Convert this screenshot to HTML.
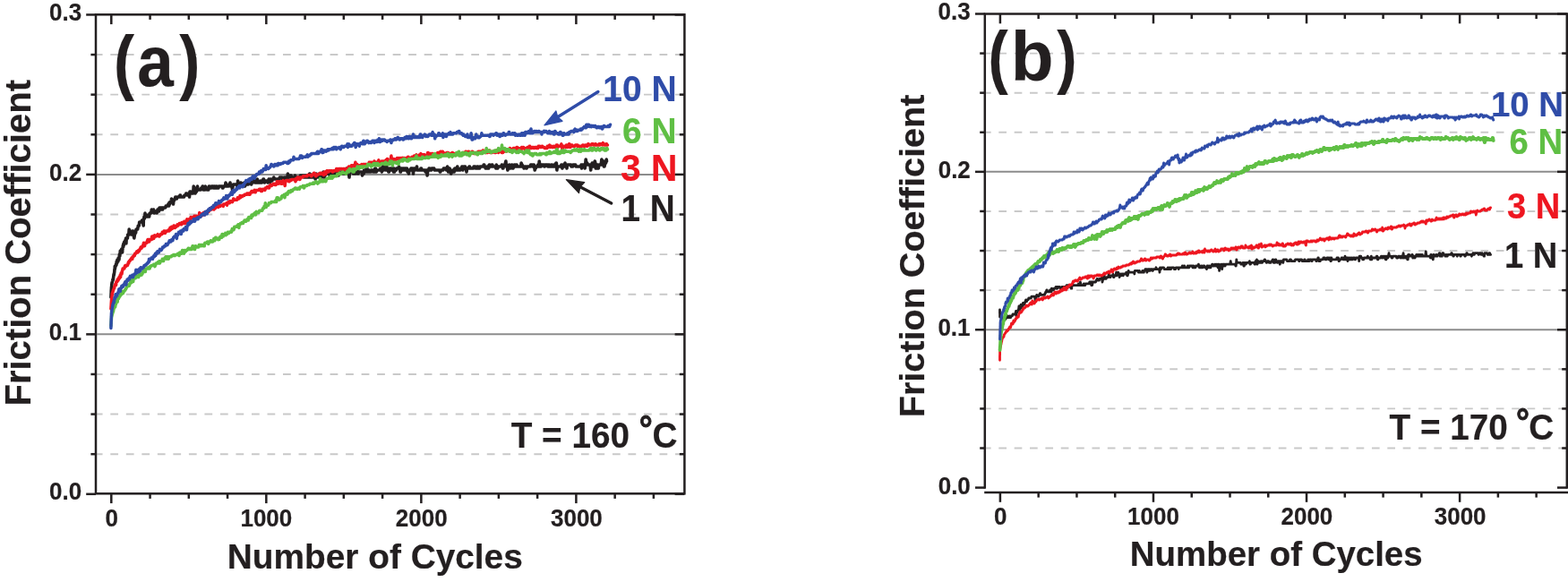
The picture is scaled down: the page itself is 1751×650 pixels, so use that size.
<!DOCTYPE html>
<html><head><meta charset="utf-8"><title>Friction Coefficient vs Number of Cycles at 160 and 170 °C</title>
<style>html,body{margin:0;padding:0;background:#fff;overflow:hidden;}svg{display:block;}</style></head>
<body>
<svg width="1751" height="650" viewBox="0 0 1751 650">
<rect width="1751" height="650" fill="#fff"/>
<clipPath id="ca"><rect x="108.3" y="16.3" width="654.80" height="535.00"/></clipPath>
<clipPath id="cb"><rect x="1101.1" y="15.5" width="647.40" height="534.50"/></clipPath>
<g clip-path="url(#ca)">
<line x1="105.78" y1="507.19" x2="763.10" y2="507.19" stroke="#c9c9c9" stroke-width="1.9" stroke-dasharray="8.760 8.760"/>
<line x1="105.78" y1="462.57" x2="763.10" y2="462.57" stroke="#c9c9c9" stroke-width="1.9" stroke-dasharray="8.760 8.760"/>
<line x1="105.78" y1="417.96" x2="763.10" y2="417.96" stroke="#c9c9c9" stroke-width="1.9" stroke-dasharray="8.760 8.760"/>
<line x1="107.0" y1="373.35" x2="764.4" y2="373.35" stroke="#8c8c8c" stroke-width="2.0"/>
<line x1="105.78" y1="328.74" x2="763.10" y2="328.74" stroke="#c9c9c9" stroke-width="1.9" stroke-dasharray="8.760 8.760"/>
<line x1="105.78" y1="284.12" x2="763.10" y2="284.12" stroke="#c9c9c9" stroke-width="1.9" stroke-dasharray="8.760 8.760"/>
<line x1="105.78" y1="239.51" x2="763.10" y2="239.51" stroke="#c9c9c9" stroke-width="1.9" stroke-dasharray="8.760 8.760"/>
<line x1="107.0" y1="194.90" x2="764.4" y2="194.90" stroke="#8c8c8c" stroke-width="2.0"/>
<line x1="105.78" y1="150.29" x2="763.10" y2="150.29" stroke="#c9c9c9" stroke-width="1.9" stroke-dasharray="8.760 8.760"/>
<line x1="105.78" y1="105.67" x2="763.10" y2="105.67" stroke="#c9c9c9" stroke-width="1.9" stroke-dasharray="8.760 8.760"/>
<line x1="105.78" y1="61.06" x2="763.10" y2="61.06" stroke="#c9c9c9" stroke-width="1.9" stroke-dasharray="8.760 8.760"/>
</g>
<g fill="none" stroke-linejoin="round" stroke-linecap="round">
<polyline points="123.9,332.0 123.9,331.5 124.0,331.2 124.0,330.7 124.0,330.0 124.0,329.5 124.1,328.6 124.1,328.6 124.1,328.1 124.1,327.6 124.2,327.3 124.2,326.8 124.2,326.1 124.2,325.6 124.2,324.9 124.3,324.4 124.3,324.1 124.3,323.6 124.4,323.0 124.4,322.5 124.4,321.9 124.5,321.3 124.5,321.0 124.6,319.9 124.6,319.6 124.7,319.6 124.7,318.8 124.8,318.2 124.8,317.5 124.9,317.0 124.9,316.9 125.0,316.4 125.1,315.5 125.3,315.0 125.4,314.9 125.5,314.4 125.6,313.8 125.8,313.3 125.9,312.5 126.0,312.0 126.2,311.7 126.3,312.2 126.4,312.3 126.5,310.6 126.7,309.2 126.8,308.6 126.9,307.6 127.0,307.0 127.0,306.4 127.1,307.3 127.2,307.3 127.3,306.9 127.4,305.9 127.5,305.4 127.5,305.1 127.6,304.7 127.7,303.9 127.8,303.4 127.9,301.2 128.0,300.7 128.1,301.3 128.1,300.8 128.2,300.2 128.3,297.3 128.4,299.8 128.5,299.3 128.6,299.0 128.6,298.5 128.7,297.9 128.8,297.4 129.0,297.5 129.2,297.1 129.4,295.4 129.6,294.9 129.8,296.0 130.0,296.0 130.2,292.0 130.4,292.0 130.6,294.0 130.8,292.0 131.0,290.0 131.2,290.0 131.4,290.0 131.6,290.0 131.8,292.0 132.0,290.0 132.2,288.0 132.4,288.0 132.6,288.0 132.7,288.0 132.9,290.0 133.1,288.0 133.3,286.0 133.4,284.0 133.6,286.0 133.8,286.0 134.0,284.0 134.2,282.0 134.3,280.0 134.5,282.0 134.7,282.0 134.9,280.0 135.0,282.0 135.2,282.0 135.4,280.0 135.6,280.0 135.8,278.0 135.9,278.0 136.1,278.0 136.3,280.0 136.5,278.0 136.6,282.0 136.8,278.0 137.0,278.0 137.2,276.0 137.4,274.0 137.5,276.0 137.7,276.0 137.9,272.0 138.1,272.0 138.2,274.0 138.4,272.0 138.6,272.0 138.8,270.0 139.1,272.0 139.3,270.0 139.5,270.0 139.7,270.0 140.0,268.0 140.2,268.0 140.4,268.0 140.6,266.0 140.9,272.0 141.1,268.0 141.3,266.0 141.5,266.0 141.8,266.0 142.0,266.0 142.2,266.0 142.4,266.0 142.7,262.0 142.9,262.0 143.2,262.0 143.5,262.0 143.8,262.0 144.2,256.0 144.5,262.0 144.8,260.0 145.1,258.0 145.6,258.0 146.0,260.0 146.5,262.0 146.9,262.0 147.4,262.0 147.8,258.0 148.3,262.0 148.7,258.0 149.0,262.0 149.4,264.0 149.8,266.0 150.1,264.0 150.5,262.0 150.9,260.0 151.2,260.0 151.6,260.0 151.8,258.0 152.1,256.0 152.3,256.0 152.5,256.0 152.7,256.0 153.0,256.0 153.2,256.0 153.4,256.0 153.7,256.0 153.9,254.0 154.1,254.0 154.3,252.0 154.6,252.0 154.8,252.0 155.0,252.0 155.3,252.0 155.5,250.0 155.7,248.0 156.0,248.0 156.2,248.0 156.4,248.0 156.7,248.0 156.9,248.0 157.4,248.0 158.0,248.0 158.6,246.0 159.1,246.0 159.6,248.0 160.2,252.0 160.3,246.0 160.5,244.0 160.7,244.0 160.8,244.0 160.9,242.0 161.1,242.0 161.2,244.0 161.4,244.0 161.6,242.0 161.7,242.0 161.8,242.0 162.0,238.0 162.2,242.0 162.3,240.0 162.8,240.0 163.2,240.0 163.7,242.0 164.2,242.0 164.7,242.0 165.1,242.0 165.6,240.0 165.9,240.0 166.2,242.0 166.6,242.0 166.9,240.0 167.2,238.0 167.5,238.0 167.8,238.0 168.2,238.0 168.5,238.0 168.8,238.0 169.3,234.0 169.9,236.0 170.4,236.0 170.9,236.0 171.5,234.0 172.0,238.0 172.6,238.0 173.1,236.0 173.6,236.0 174.1,236.0 174.6,236.0 175.1,238.0 175.6,236.0 176.0,234.0 176.5,234.0 177.0,236.0 177.5,236.0 178.0,232.0 178.5,232.0 178.9,234.0 179.4,234.0 179.8,232.0 180.3,234.0 180.8,232.0 181.2,232.0 181.7,234.0 182.1,232.0 182.6,232.0 183.0,232.0 183.5,232.0 183.9,232.0 184.3,232.0 184.8,232.0 185.2,230.0 185.6,230.0 186.1,230.0 186.5,230.0 186.9,230.0 187.4,230.0 187.8,228.0 188.3,228.0 188.7,230.0 189.1,226.0 189.6,228.0 190.0,226.0 190.4,226.0 190.8,226.0 191.2,224.0 191.5,222.0 191.9,226.0 192.3,224.0 192.7,224.0 193.1,224.0 193.5,228.0 193.9,224.0 194.2,224.0 194.6,224.0 195.0,222.0 195.4,222.0 195.9,220.0 196.4,220.0 196.9,222.0 197.4,222.0 198.0,220.0 198.5,220.0 199.0,220.0 199.5,220.0 200.0,220.0 200.5,220.0 201.0,218.0 201.5,218.0 202.0,220.0 202.6,220.0 203.1,220.0 203.6,220.0 204.1,220.0 204.6,220.0 205.1,220.0 205.5,220.0 206.0,218.0 206.4,218.0 206.9,218.0 207.4,218.0 207.8,216.0 208.3,216.0 208.7,218.0 209.2,218.0 209.7,218.0 210.1,218.0 210.6,216.0 211.0,216.0 211.5,220.0 212.0,214.0 212.4,216.0 212.9,214.0 213.3,216.0 213.8,216.0 214.3,214.0 214.8,214.0 215.2,216.0 215.7,216.0 216.2,208.0 216.7,210.0 217.1,212.0 217.6,212.0 218.1,216.0 218.6,212.0 219.0,210.0 219.5,214.0 220.0,212.0 220.5,208.0 221.1,212.0 221.6,212.0 222.1,212.0 222.6,212.0 223.1,212.0 223.7,212.0 224.2,212.0 224.7,210.0 225.2,210.0 225.7,210.0 226.2,208.0 226.7,208.0 227.2,212.0 227.7,212.0 228.3,212.0 228.8,212.0 229.3,208.0 229.8,210.0 230.3,210.0 230.8,210.0 231.3,212.0 231.8,212.0 232.3,212.0 232.8,212.0 233.3,208.0 233.8,208.0 234.3,210.0 234.8,210.0 235.4,210.0 235.9,210.0 236.4,208.0 236.9,208.0 237.4,208.0 237.9,208.0 238.4,210.0 238.9,210.0 239.4,208.0 239.9,210.0 240.4,210.0 240.9,210.0 241.4,208.0 241.9,208.0 242.4,210.0 242.9,210.0 243.4,210.0 243.9,210.0 244.4,208.0 244.9,208.0 245.4,208.0 245.9,208.0 246.5,208.0 247.0,208.0 247.5,208.0 248.0,208.0 248.5,210.0 249.0,210.0 249.5,208.0 250.0,208.0 250.5,208.0 251.0,208.0 251.5,208.0 252.0,204.0 252.5,206.0 253.0,208.0 253.5,208.0 254.0,208.0 254.5,208.0 255.0,208.0 255.5,206.0 256.0,206.0 256.5,206.0 257.0,204.0 257.5,208.0 258.0,208.0 258.5,208.0 259.0,208.0 259.5,212.0 260.0,208.0 260.5,206.0 261.1,206.0 261.6,206.0 262.1,206.0 262.6,206.0 263.1,206.0 263.6,206.0 264.1,206.0 264.6,206.0 265.1,210.0 265.6,202.0 266.1,206.0 266.6,206.0 267.1,206.0 267.6,208.0 268.1,208.0 268.6,204.0 269.1,204.0 269.6,206.0 270.1,206.0 270.6,206.0 271.1,206.0 271.6,208.0 272.1,208.0 272.6,204.0 273.1,204.0 273.6,208.0 274.1,204.0 274.6,206.0 275.1,206.0 275.7,204.0 276.2,204.0 276.7,206.0 277.2,206.0 277.7,204.0 278.2,204.0 278.7,204.0 279.2,204.0 279.7,204.0 280.2,204.0 280.7,206.0 281.2,202.0 281.7,204.0 282.2,204.0 282.7,202.0 283.2,202.0 283.7,200.0 284.2,202.0 284.8,204.0 285.3,204.0 285.8,202.0 286.3,202.0 286.8,204.0 287.3,200.0 287.8,202.0 288.3,204.0 288.9,204.0 289.4,204.0 289.9,204.0 290.4,204.0 290.9,202.0 291.4,202.0 291.9,204.0 292.4,204.0 292.9,202.0 293.5,202.0 294.0,200.0 294.5,200.0 295.0,202.0 295.5,204.0 296.0,202.0 296.6,202.0 297.1,202.0 297.6,202.0 298.1,202.0 298.6,202.0 299.1,204.0 299.7,202.0 300.2,200.0 300.7,200.0 301.2,200.0 301.7,204.0 302.2,200.0 302.8,200.0 303.3,202.0 303.8,202.0 304.3,200.0 304.8,200.0 305.3,200.0 305.8,198.0 306.3,200.0 306.8,200.0 307.3,200.0 307.8,200.0 308.3,200.0 308.8,200.0 309.3,200.0 309.8,200.0 310.4,200.0 310.9,200.0 311.4,200.0 311.9,200.0 312.4,198.0 312.9,198.0 313.4,198.0 313.9,198.0 314.4,198.0 314.9,198.0 315.4,200.0 315.9,200.0 316.4,200.0 316.9,200.0 317.4,198.0 317.9,198.0 318.4,198.0 318.9,198.0 319.4,198.0 319.9,198.0 320.4,200.0 320.9,200.0 321.4,194.0 321.9,198.0 322.4,198.0 322.9,198.0 323.4,198.0 324.0,198.0 324.5,196.0 325.0,196.0 325.5,198.0 326.0,198.0 326.5,198.0 327.0,198.0 327.5,198.0 328.0,198.0 328.5,198.0 329.0,198.0 329.5,196.0 330.0,198.0 330.5,198.0 331.0,198.0 331.5,198.0 332.0,198.0 332.5,198.0 333.0,198.0 333.5,198.0 334.0,198.0 334.5,198.0 335.0,198.0 335.5,196.0 336.0,196.0 336.5,196.0 337.0,196.0 337.5,196.0 338.0,196.0 338.5,196.0 339.0,196.0 339.5,198.0 340.0,198.0 340.5,196.0 341.0,196.0 341.6,198.0 342.1,198.0 342.6,196.0 343.1,196.0 343.6,198.0 344.1,198.0 344.6,198.0 345.1,198.0 345.6,194.0 346.1,194.0 346.6,198.0 347.1,198.0 347.6,196.0 348.1,198.0 348.6,196.0 349.1,196.0 349.6,198.0 350.1,198.0 350.6,194.0 351.1,194.0 351.6,196.0 352.1,200.0 352.6,198.0 353.1,194.0 353.6,196.0 354.1,196.0 354.6,198.0 355.1,198.0 355.6,196.0 356.1,196.0 356.6,194.0 357.1,194.0 357.6,198.0 358.1,198.0 358.6,198.0 359.1,198.0 359.6,196.0 360.1,196.0 360.6,196.0 361.1,192.0 361.6,198.0 362.1,198.0 362.6,196.0 363.1,196.0 363.6,194.0 364.1,194.0 364.6,194.0 365.1,194.0 365.6,194.0 366.1,194.0 366.6,194.0 367.0,194.0 367.5,194.0 368.0,194.0 368.5,198.0 369.0,194.0 369.5,194.0 370.0,192.0 370.5,194.0 371.0,194.0 371.5,194.0 372.0,194.0 372.5,194.0 373.0,194.0 373.5,194.0 374.0,194.0 374.5,194.0 375.0,194.0 375.5,194.0 376.0,190.0 376.5,194.0 377.0,194.0 377.5,196.0 378.0,196.0 378.5,192.0 379.0,192.0 379.5,194.0 380.0,194.0 380.5,194.0 381.0,194.0 381.5,194.0 382.0,192.0 382.5,190.0 383.0,190.0 383.5,194.0 384.0,194.0 384.5,194.0 385.0,194.0 385.5,194.0 386.0,194.0 386.5,192.0 387.0,188.0 387.5,194.0 388.0,194.0 388.5,194.0 389.0,194.0 389.5,194.0 390.0,198.0 390.5,192.0 391.0,192.0 391.5,192.0 392.0,192.0 392.5,192.0 393.0,192.0 393.5,192.0 394.0,192.0 394.5,194.0 395.0,194.0 395.5,190.0 396.0,190.0 396.5,194.0 397.0,194.0 397.5,190.0 398.0,190.0 398.5,190.0 399.0,190.0 399.5,194.0 400.0,194.0 400.5,192.0 401.0,192.0 401.5,192.0 402.0,192.0 402.5,192.0 403.0,192.0 403.6,192.0 404.1,192.0 404.6,196.0 405.1,192.0 405.6,194.0 406.1,194.0 406.6,190.0 407.1,190.0 407.6,190.0 408.1,190.0 408.6,192.0 409.1,192.0 409.6,186.0 410.2,190.0 410.7,192.0 411.2,190.0 411.7,190.0 412.2,190.0 412.7,192.0 413.2,192.0 413.7,192.0 414.2,192.0 414.7,190.0 415.2,190.0 415.7,190.0 416.2,190.0 416.7,192.0 417.3,192.0 417.8,192.0 418.3,192.0 418.8,188.0 419.3,188.0 419.8,190.0 420.3,192.0 420.8,190.0 421.3,190.0 421.8,190.0 422.3,190.0 422.8,190.0 423.3,190.0 423.9,190.0 424.4,190.0 424.9,188.0 425.4,188.0 425.9,188.0 426.4,192.0 426.9,188.0 427.4,186.0 427.9,190.0 428.4,190.0 428.9,188.0 429.4,184.0 429.9,186.0 430.4,188.0 430.9,190.0 431.4,188.0 431.9,186.0 432.4,190.0 432.9,190.0 433.4,190.0 433.9,192.0 434.4,192.0 434.9,188.0 435.4,188.0 435.9,190.0 436.4,190.0 436.9,188.0 437.4,188.0 437.9,190.0 438.4,190.0 438.9,188.0 439.5,192.0 440.0,188.0 440.5,192.0 441.0,190.0 441.5,190.0 442.0,190.0 442.5,190.0 443.0,188.0 443.5,188.0 444.0,188.0 444.5,188.0 445.0,188.0 445.5,186.0 446.0,188.0 446.5,188.0 447.0,192.0 447.5,192.0 448.0,188.0 448.5,188.0 449.0,190.0 449.5,190.0 450.0,188.0 450.5,188.0 451.0,190.0 451.5,190.0 452.0,188.0 452.5,188.0 453.0,190.0 453.5,190.0 454.0,188.0 454.5,188.0 455.0,192.0 455.5,192.0 456.0,190.0 456.5,194.0 457.0,190.0 457.5,190.0 458.0,190.0 458.5,190.0 459.0,188.0 459.5,188.0 460.0,188.0 460.5,188.0 461.0,190.0 461.5,194.0 462.0,188.0 462.5,188.0 463.0,190.0 463.5,190.0 464.0,188.0 464.5,188.0 465.0,188.0 465.5,186.0 466.0,190.0 466.5,190.0 467.0,190.0 467.5,190.0 468.0,190.0 468.5,190.0 469.0,190.0 469.5,190.0 470.0,188.0 470.5,188.0 471.0,190.0 471.5,190.0 472.0,190.0 472.5,190.0 473.0,190.0 473.6,190.0 474.1,190.0 474.6,190.0 475.1,192.0 475.6,192.0 476.1,190.0 476.6,190.0 477.1,196.0 477.6,192.0 478.1,190.0 478.6,190.0 479.1,188.0 479.6,188.0 480.1,190.0 480.7,190.0 481.2,190.0 481.7,190.0 482.2,188.0 482.7,188.0 483.2,188.0 483.7,188.0 484.2,188.0 484.7,188.0 485.2,190.0 485.7,190.0 486.2,190.0 486.7,190.0 487.2,190.0 487.8,190.0 488.3,190.0 488.8,190.0 489.3,190.0 489.8,190.0 490.3,190.0 490.8,190.0 491.3,192.0 491.8,192.0 492.3,190.0 492.9,190.0 493.4,190.0 493.9,190.0 494.4,190.0 494.9,190.0 495.4,188.0 495.9,188.0 496.5,188.0 497.0,188.0 497.5,188.0 498.0,188.0 498.5,190.0 499.0,190.0 499.6,186.0 500.1,190.0 500.6,192.0 501.1,192.0 501.6,188.0 502.1,188.0 502.6,190.0 503.2,190.0 503.7,194.0 504.2,192.0 504.7,192.0 505.2,192.0 505.7,190.0 506.2,190.0 506.7,192.0 507.2,192.0 507.8,188.0 508.3,188.0 508.8,188.0 509.3,188.0 509.8,190.0 510.3,188.0 510.8,186.0 511.3,190.0 511.8,190.0 512.3,190.0 512.8,190.0 513.4,190.0 513.9,190.0 514.4,188.0 514.9,188.0 515.4,188.0 515.9,186.0 516.4,186.0 516.9,190.0 517.4,188.0 517.9,186.0 518.4,186.0 519.0,186.0 519.5,186.0 520.0,188.0 520.5,188.0 521.0,192.0 521.5,188.0 522.0,188.0 522.5,188.0 523.0,188.0 523.5,188.0 524.0,186.0 524.5,186.0 525.0,188.0 525.5,188.0 526.0,188.0 526.5,188.0 527.1,188.0 527.6,188.0 528.1,188.0 528.6,188.0 529.1,186.0 529.6,186.0 530.1,186.0 530.6,186.0 531.1,188.0 531.6,188.0 532.1,188.0 532.6,188.0 533.1,186.0 533.6,186.0 534.1,188.0 534.6,188.0 535.1,188.0 535.6,188.0 536.1,186.0 536.6,186.0 537.2,186.0 537.7,186.0 538.2,186.0 538.7,186.0 539.2,186.0 539.7,186.0 540.2,184.0 540.7,184.0 541.2,186.0 541.7,186.0 542.2,188.0 542.7,188.0 543.2,188.0 543.7,188.0 544.2,186.0 544.7,186.0 545.2,188.0 545.7,188.0 546.2,184.0 546.7,184.0 547.3,186.0 547.8,186.0 548.3,186.0 548.8,186.0 549.3,184.0 549.8,184.0 550.3,186.0 550.8,186.0 551.3,186.0 551.8,186.0 552.3,186.0 552.8,186.0 553.3,186.0 553.8,188.0 554.3,184.0 554.8,186.0 555.3,188.0 555.8,188.0 556.3,186.0 556.8,186.0 557.3,186.0 557.9,186.0 558.4,186.0 558.9,186.0 559.4,186.0 559.9,186.0 560.4,184.0 560.9,184.0 561.4,188.0 561.9,188.0 562.4,186.0 562.9,186.0 563.4,184.0 563.9,184.0 564.4,182.0 564.9,180.0 565.4,186.0 565.9,186.0 566.4,186.0 566.9,190.0 567.4,188.0 568.0,188.0 568.5,184.0 569.0,184.0 569.5,188.0 570.0,188.0 570.5,186.0 571.0,186.0 571.5,184.0 572.0,184.0 572.5,188.0 573.0,188.0 573.5,186.0 574.0,186.0 574.5,184.0 575.0,184.0 575.5,186.0 576.0,186.0 576.5,184.0 577.0,184.0 577.5,186.0 578.1,186.0 578.6,186.0 579.1,186.0 579.6,186.0 580.1,186.0 580.6,186.0 581.1,186.0 581.6,186.0 582.1,182.0 582.6,184.0 583.1,184.0 583.6,186.0 584.1,186.0 584.6,186.0 585.1,188.0 585.6,186.0 586.1,186.0 586.6,186.0 587.1,186.0 587.6,188.0 588.1,188.0 588.6,186.0 589.1,186.0 589.6,186.0 590.1,186.0 590.6,186.0 591.2,186.0 591.7,186.0 592.2,186.0 592.7,184.0 593.2,184.0 593.7,184.0 594.2,184.0 594.7,186.0 595.2,186.0 595.7,184.0 596.2,184.0 596.7,186.0 597.2,190.0 597.7,188.0 598.2,188.0 598.7,186.0 599.2,186.0 599.7,186.0 600.2,186.0 600.7,184.0 601.2,184.0 601.7,186.0 602.2,180.0 602.7,184.0 603.2,184.0 603.7,186.0 604.2,186.0 604.7,184.0 605.2,184.0 605.7,184.0 606.3,184.0 606.8,184.0 607.3,184.0 607.8,186.0 608.3,186.0 608.8,184.0 609.3,184.0 609.8,184.0 610.3,184.0 610.8,184.0 611.3,184.0 611.8,186.0 612.3,186.0 612.8,184.0 613.3,184.0 613.8,186.0 614.3,186.0 614.8,186.0 615.3,186.0 615.8,184.0 616.3,184.0 616.8,186.0 617.3,186.0 617.8,186.0 618.3,186.0 618.8,184.0 619.4,184.0 619.9,186.0 620.4,186.0 620.9,182.0 621.4,182.0 621.9,190.0 622.4,186.0 622.9,186.0 623.4,186.0 623.9,186.0 624.4,186.0 624.9,186.0 625.4,186.0 625.9,186.0 626.4,186.0 626.9,184.0 627.4,184.0 627.9,188.0 628.4,186.0 628.9,184.0 629.5,184.0 630.0,186.0 630.5,186.0 631.0,182.0 631.5,186.0 632.0,184.0 632.5,184.0 633.0,188.0 633.5,184.0 634.0,184.0 634.5,184.0 635.0,184.0 635.5,184.0 636.0,184.0 636.5,184.0 637.0,184.0 637.5,184.0 638.0,186.0 638.5,186.0 639.0,186.0 639.6,186.0 640.1,184.0 640.6,184.0 641.1,184.0 641.6,184.0 642.1,184.0 642.6,184.0 643.1,186.0 643.6,186.0 644.1,186.0 644.6,186.0 645.1,186.0 645.6,186.0 646.1,186.0 646.6,186.0 647.1,186.0 647.6,186.0 648.1,186.0 648.6,186.0 649.1,184.0 649.6,188.0 650.2,184.0 650.7,184.0 651.2,184.0 651.7,184.0 652.2,184.0 652.7,184.0 653.2,188.0 653.7,184.0 654.2,178.0 654.7,182.0 655.2,182.0 655.7,182.0 656.2,184.0 656.7,184.0 657.2,184.0 657.7,184.0 658.2,184.0 658.7,184.0 659.2,186.0 659.7,190.0 660.3,184.0 660.8,184.0 661.3,182.0 661.8,182.0 662.3,186.0 662.8,184.0 663.3,182.0 663.8,182.0 664.3,180.0 664.8,182.0 665.3,188.0 665.8,184.0 666.3,188.0 666.8,184.0 667.3,184.0 667.8,184.0 668.3,188.0 668.8,184.0 669.3,184.0 669.8,184.0 670.4,184.0 670.9,184.0 671.4,182.0 671.9,178.0 672.4,184.0 672.9,184.0 673.4,184.0 673.9,180.0 674.4,186.0 674.9,186.0 675.4,184.0 675.7,182.0 676.0,182.0 676.3,182.0 676.6,182.0 676.9,180.0 677.2,178.0 677.5,180.0" stroke="#231f20" stroke-width="3.6"/>
<polyline points="123.9,345.0 123.9,344.5 124.0,343.7 124.0,343.2 124.0,342.8 124.1,342.3 124.1,341.7 124.1,341.2 124.2,340.9 124.2,340.4 124.2,339.7 124.2,339.2 124.3,338.9 124.3,338.4 124.3,337.6 124.4,337.1 124.4,336.8 124.4,336.3 124.5,335.5 124.5,335.0 124.6,334.6 124.6,334.1 124.7,333.5 124.8,333.0 124.8,332.4 124.9,331.9 124.9,331.3 125.0,330.8 125.1,330.7 125.1,330.2 125.2,329.2 125.2,328.7 125.3,327.8 125.4,327.3 125.4,327.8 125.5,327.3 125.7,326.7 125.8,326.3 126.0,326.0 126.2,325.6 126.3,324.5 126.5,324.0 126.6,324.0 126.8,323.6 127.0,322.7 127.1,322.2 127.3,322.0 127.4,321.5 127.6,321.8 127.8,321.3 127.9,319.7 128.1,319.2 128.3,319.3 128.6,318.9 128.8,317.5 129.1,317.0 129.3,318.6 129.6,318.2 129.8,315.3 130.0,314.4 130.3,314.4 130.5,314.4 130.8,314.4 131.0,314.4 131.2,312.0 131.5,312.0 131.7,313.2 132.0,313.2 132.2,310.8 132.5,310.8 132.7,312.0 132.9,310.8 133.1,309.6 133.3,309.6 133.5,310.8 133.7,309.6 134.0,308.4 134.2,307.2 134.4,308.4 134.6,309.6 134.8,307.2 135.0,307.2 135.2,304.8 135.4,304.8 135.6,306.0 135.8,304.8 136.0,306.0 136.3,303.6 136.5,302.4 136.7,302.4 136.9,301.2 137.1,300.0 137.3,300.0 137.6,300.0 138.0,300.0 138.3,300.0 138.6,300.0 138.9,300.0 139.3,297.6 139.6,297.6 139.9,296.4 140.3,296.4 140.6,297.6 140.9,296.4 141.2,296.4 141.6,296.4 141.9,296.4 142.2,296.4 142.5,296.4 142.8,295.2 143.1,294.0 143.4,292.8 143.7,294.0 144.0,292.8 144.4,291.6 144.7,291.6 145.0,291.6 145.3,290.4 145.6,290.4 145.9,290.4 146.2,289.2 146.5,289.2 146.8,289.2 147.1,288.0 147.4,289.2 147.8,289.2 148.1,286.8 148.4,286.8 148.7,286.8 149.0,286.8 149.3,285.6 149.6,285.6 149.9,285.6 150.3,285.6 150.6,283.2 150.9,283.2 151.2,283.2 151.6,283.2 152.0,282.0 152.4,282.0 152.8,280.8 153.2,280.8 153.5,282.0 153.9,282.0 154.3,280.8 154.7,279.6 155.1,280.8 155.5,279.6 155.8,279.6 156.2,278.4 156.5,278.4 156.8,277.2 157.2,276.0 157.5,276.0 157.8,277.2 158.2,277.2 158.5,276.0 158.9,276.0 159.2,274.8 159.5,274.8 159.9,273.6 160.2,272.4 160.5,271.2 160.9,271.2 161.2,274.8 161.6,274.8 162.0,272.4 162.5,271.2 162.9,271.2 163.3,271.2 163.7,271.2 164.1,271.2 164.5,268.8 165.0,267.6 165.4,267.6 165.8,267.6 166.2,270.0 166.7,270.0 167.1,267.6 167.5,267.6 168.0,267.6 168.4,267.6 168.8,267.6 169.3,267.6 169.7,264.0 170.1,264.0 170.6,265.2 171.0,264.0 171.4,266.4 171.8,266.4 172.3,264.0 172.7,262.8 173.1,264.0 173.6,264.0 174.0,264.0 174.4,264.0 174.9,262.8 175.3,262.8 175.7,262.8 176.2,261.6 176.6,262.8 177.1,262.8 177.5,264.0 178.0,264.0 178.5,262.8 178.9,262.8 179.4,261.6 179.9,261.6 180.3,261.6 180.8,261.6 181.3,259.2 181.7,259.2 182.2,260.4 182.6,260.4 183.1,258.0 183.6,258.0 184.0,258.0 184.5,260.4 185.0,259.2 185.4,259.2 185.9,258.0 186.4,258.0 186.8,258.0 187.3,258.0 187.8,258.0 188.2,256.8 188.7,258.0 189.1,258.0 189.6,255.6 190.0,254.4 190.5,256.8 190.9,255.6 191.3,255.6 191.8,253.2 192.2,255.6 192.7,254.4 193.2,254.4 193.6,254.4 194.1,252.0 194.5,252.0 194.9,254.4 195.4,254.4 195.8,253.2 196.3,253.2 196.8,253.2 197.2,253.2 197.7,252.0 198.1,250.8 198.5,252.0 199.0,252.0 199.4,250.8 199.9,250.8 200.3,249.6 200.8,249.6 201.2,249.6 201.7,249.6 202.2,250.8 202.6,250.8 203.1,248.4 203.5,248.4 203.9,248.4 204.4,248.4 204.8,249.6 205.3,249.6 205.8,247.2 206.2,247.2 206.7,249.6 207.1,249.6 207.6,248.4 208.0,248.4 208.5,246.0 208.9,244.8 209.4,247.2 209.8,247.2 210.3,247.2 210.8,247.2 211.2,244.8 211.7,244.8 212.2,244.8 212.7,244.8 213.1,242.4 213.6,242.4 214.1,243.6 214.5,243.6 215.0,243.6 215.5,243.6 216.0,243.6 216.5,242.4 216.9,241.2 217.4,241.2 217.9,243.6 218.4,243.6 218.9,241.2 219.4,241.2 219.8,242.4 220.3,242.4 220.8,241.2 221.3,241.2 221.8,241.2 222.3,241.2 222.7,237.6 223.2,240.0 223.7,240.0 224.2,238.8 224.6,241.2 225.1,241.2 225.5,238.8 226.0,238.8 226.4,238.8 226.9,238.8 227.3,237.6 227.8,237.6 228.2,240.0 228.7,238.8 229.1,237.6 229.5,236.4 230.0,236.4 230.4,236.4 230.9,237.6 231.3,236.4 231.8,236.4 232.2,236.4 232.7,236.4 233.1,236.4 233.6,235.2 234.0,235.2 234.4,234.0 234.9,232.8 235.3,234.0 235.8,234.0 236.2,234.0 236.7,232.8 237.1,231.6 237.6,232.8 238.0,232.8 238.5,232.8 238.9,234.0 239.4,232.8 239.8,232.8 240.3,232.8 240.8,230.4 241.3,230.4 241.7,229.2 242.2,229.2 242.7,229.2 243.1,228.0 243.6,231.6 244.1,230.4 244.6,229.2 245.0,229.2 245.5,230.4 246.0,230.4 246.4,229.2 246.9,229.2 247.4,229.2 247.8,229.2 248.3,229.2 248.8,229.2 249.3,230.4 249.7,228.0 250.2,228.0 250.7,228.0 251.1,228.0 251.6,228.0 252.1,228.0 252.6,228.0 253.0,226.8 253.5,229.2 254.0,226.8 254.4,226.8 254.9,225.6 255.4,225.6 255.9,225.6 256.3,226.8 256.8,224.4 257.3,224.4 257.7,225.6 258.2,225.6 258.7,224.4 259.2,224.4 259.6,225.6 260.1,224.4 260.6,222.0 261.0,222.0 261.5,223.2 262.0,223.2 262.4,223.2 262.9,223.2 263.4,223.2 263.9,223.2 264.3,223.2 264.8,223.2 265.3,220.8 265.7,220.8 266.2,222.0 266.7,222.0 267.2,220.8 267.6,220.8 268.1,218.4 268.6,220.8 269.0,219.6 269.5,219.6 269.9,219.6 270.4,219.6 270.8,218.4 271.3,218.4 271.8,218.4 272.2,218.4 272.7,218.4 273.1,217.2 273.6,217.2 274.0,217.2 274.5,217.2 274.9,217.2 275.4,217.2 275.9,216.0 276.3,217.2 276.8,216.0 277.2,216.0 277.7,216.0 278.1,217.2 278.6,216.0 279.1,217.2 279.5,216.0 280.0,214.8 280.4,214.8 280.9,213.6 281.3,213.6 281.8,214.8 282.2,213.6 282.7,213.6 283.2,213.6 283.7,213.6 284.2,212.4 284.7,214.8 285.2,214.8 285.7,212.4 286.1,212.4 286.6,212.4 287.1,212.4 287.6,212.4 288.1,212.4 288.6,212.4 289.1,212.4 289.6,211.2 290.1,211.2 290.6,211.2 291.1,211.2 291.6,213.6 292.0,213.6 292.5,213.6 293.0,212.4 293.5,211.2 294.0,211.2 294.5,211.2 295.0,211.2 295.5,211.2 295.9,212.4 296.4,210.0 296.9,210.0 297.3,210.0 297.8,210.0 298.2,208.8 298.7,208.8 299.2,208.8 299.6,208.8 300.1,210.0 300.6,210.0 301.0,207.6 301.5,207.6 301.9,207.6 302.4,206.4 302.9,207.6 303.3,207.6 303.8,206.4 304.3,206.4 304.8,206.4 305.3,205.2 305.8,205.2 306.3,205.2 306.8,206.4 307.3,206.4 307.8,206.4 308.3,206.4 308.8,205.2 309.3,202.8 309.8,202.8 310.2,202.8 310.7,205.2 311.2,205.2 311.7,202.8 312.2,202.8 312.7,202.8 313.2,202.8 313.7,205.2 314.2,205.2 314.7,205.2 315.2,205.2 315.7,202.8 316.2,201.6 316.7,204.0 317.2,204.0 317.7,204.0 318.2,207.6 318.7,202.8 319.2,202.8 319.6,201.6 320.1,201.6 320.6,201.6 321.1,201.6 321.6,201.6 322.1,201.6 322.6,202.8 323.1,202.8 323.6,201.6 324.1,201.6 324.6,201.6 325.1,201.6 325.6,200.4 326.1,200.4 326.6,200.4 327.0,200.4 327.5,200.4 328.0,200.4 328.5,200.4 329.0,200.4 329.5,200.4 330.0,202.8 330.5,199.2 331.0,199.2 331.5,200.4 332.0,200.4 332.5,198.0 333.0,198.0 333.5,199.2 334.0,199.2 334.5,200.4 335.0,200.4 335.5,198.0 336.0,198.0 336.5,198.0 337.0,198.0 337.5,198.0 338.0,198.0 338.5,196.8 339.0,196.8 339.5,196.8 340.0,196.8 340.5,196.8 341.0,196.8 341.5,196.8 342.0,196.8 342.5,196.8 343.0,196.8 343.5,195.6 344.0,195.6 344.5,195.6 345.0,195.6 345.5,195.6 346.0,195.6 346.5,195.6 347.0,195.6 347.5,196.8 348.0,196.8 348.5,195.6 349.0,195.6 349.5,194.4 350.0,194.4 350.5,193.2 351.0,193.2 351.5,194.4 352.0,194.4 352.5,196.8 353.0,196.8 353.5,195.6 354.0,195.6 354.5,195.6 355.0,194.4 355.5,194.4 356.0,194.4 356.5,194.4 357.0,194.4 357.5,193.2 358.0,193.2 358.5,194.4 359.0,194.4 359.5,193.2 360.0,193.2 360.5,193.2 361.0,193.2 361.5,195.6 362.0,194.4 362.5,192.0 363.0,192.0 363.5,194.4 363.9,194.4 364.4,192.0 364.9,190.8 365.4,190.8 365.9,190.8 366.4,192.0 366.9,192.0 367.4,190.8 367.9,190.8 368.4,190.8 368.9,190.8 369.4,190.8 369.8,190.8 370.3,190.8 370.8,190.8 371.3,192.0 371.8,192.0 372.3,190.8 372.8,190.8 373.3,190.8 373.8,190.8 374.3,190.8 374.8,190.8 375.2,189.6 375.7,188.4 376.2,188.4 376.7,190.8 377.2,190.8 377.7,190.8 378.2,188.4 378.7,188.4 379.2,188.4 379.7,188.4 380.3,188.4 380.8,188.4 381.3,188.4 381.8,188.4 382.3,189.6 382.8,189.6 383.3,188.4 383.8,188.4 384.3,188.4 384.9,188.4 385.4,189.6 385.9,189.6 386.4,188.4 386.9,188.4 387.4,188.4 387.9,188.4 388.4,187.2 388.9,187.2 389.5,186.0 390.0,186.0 390.5,188.4 391.0,188.4 391.5,187.2 392.0,187.2 392.5,184.8 393.0,184.8 393.5,186.0 394.0,186.0 394.4,184.8 394.9,184.8 395.4,186.0 395.9,186.0 396.4,183.6 396.9,181.2 397.4,184.8 397.9,184.8 398.4,183.6 398.9,183.6 399.4,186.0 399.8,186.0 400.3,186.0 400.8,186.0 401.3,184.8 401.8,184.8 402.3,184.8 402.8,184.8 403.3,184.8 403.8,183.6 404.3,184.8 404.8,184.8 405.3,183.6 405.8,183.6 406.3,183.6 406.8,183.6 407.3,183.6 407.8,183.6 408.3,183.6 408.8,183.6 409.3,183.6 409.8,183.6 410.3,183.6 410.8,183.6 411.3,183.6 411.8,183.6 412.3,181.2 412.8,181.2 413.3,183.6 413.8,183.6 414.3,181.2 414.9,181.2 415.4,182.4 415.9,182.4 416.4,182.4 416.9,182.4 417.4,182.4 417.9,180.0 418.4,181.2 418.9,181.2 419.4,181.2 419.9,181.2 420.4,182.4 420.9,182.4 421.4,181.2 421.9,181.2 422.4,180.0 422.9,178.8 423.4,184.8 423.9,182.4 424.4,181.2 424.9,181.2 425.4,181.2 425.9,181.2 426.4,180.0 426.9,180.0 427.4,181.2 427.9,181.2 428.4,180.0 428.9,180.0 429.4,180.0 429.9,180.0 430.4,180.0 430.9,178.8 431.4,180.0 431.9,180.0 432.4,177.6 432.9,177.6 433.4,181.2 433.9,181.2 434.4,180.0 434.9,180.0 435.4,180.0 435.9,180.0 436.4,177.6 436.9,174.0 437.4,178.8 437.9,178.8 438.4,178.8 438.9,178.8 439.5,177.6 440.0,177.6 440.5,178.8 441.0,178.8 441.5,178.8 442.0,178.8 442.5,177.6 443.0,177.6 443.5,176.4 444.0,176.4 444.5,177.6 445.0,177.6 445.5,176.4 446.0,176.4 446.5,177.6 447.0,177.6 447.5,176.4 448.0,176.4 448.5,176.4 449.0,176.4 449.5,177.6 450.0,176.4 450.5,177.6 451.0,177.6 451.5,176.4 452.0,176.4 452.5,177.6 453.0,177.6 453.5,176.4 454.0,176.4 454.5,176.4 455.0,176.4 455.5,175.2 456.0,175.2 456.5,177.6 457.0,177.6 457.5,176.4 458.0,176.4 458.5,176.4 459.0,176.4 459.5,176.4 460.0,175.2 460.5,175.2 461.0,175.2 461.5,175.2 462.0,175.2 462.5,174.0 463.0,174.0 463.5,176.4 464.0,176.4 464.5,174.0 465.0,172.8 465.5,175.2 466.0,175.2 466.5,174.0 467.0,174.0 467.5,174.0 468.0,174.0 468.5,172.8 469.0,172.8 469.5,174.0 470.0,171.6 470.5,172.8 471.0,172.8 471.5,176.4 472.0,172.8 472.5,172.8 473.0,172.8 473.6,172.8 474.1,172.8 474.6,174.0 475.1,174.0 475.6,174.0 476.1,174.0 476.6,174.0 477.1,174.0 477.6,170.4 478.1,170.4 478.6,172.8 479.1,172.8 479.6,172.8 480.1,172.8 480.7,171.6 481.2,171.6 481.7,172.8 482.2,172.8 482.7,171.6 483.2,171.6 483.7,174.0 484.2,174.0 484.7,174.0 485.2,174.0 485.7,174.0 486.2,174.0 486.7,174.0 487.2,172.8 487.8,172.8 488.3,172.8 488.8,170.4 489.3,170.4 489.8,172.8 490.3,172.8 490.8,172.8 491.3,172.8 491.8,169.2 492.3,169.2 492.8,171.6 493.3,171.6 493.8,171.6 494.3,169.2 494.8,171.6 495.3,170.4 495.8,172.8 496.3,172.8 496.8,171.6 497.3,171.6 497.8,171.6 498.3,171.6 498.9,170.4 499.4,170.4 499.9,170.4 500.4,170.4 500.9,172.8 501.4,172.8 501.9,171.6 502.4,171.6 502.9,172.8 503.4,172.8 503.9,171.6 504.4,171.6 504.9,170.4 505.4,170.4 505.9,171.6 506.4,172.8 506.9,171.6 507.4,172.8 507.9,171.6 508.4,171.6 508.9,172.8 509.4,172.8 509.9,171.6 510.4,171.6 510.9,171.6 511.4,171.6 511.9,170.4 512.4,170.4 512.9,172.8 513.4,172.8 514.0,171.6 514.5,171.6 515.0,172.8 515.5,172.8 516.0,172.8 516.5,172.8 517.0,170.4 517.5,170.4 518.0,171.6 518.5,171.6 519.0,171.6 519.5,171.6 520.0,169.2 520.5,169.2 521.0,171.6 521.5,171.6 522.0,170.4 522.5,170.4 523.0,169.2 523.5,169.2 524.0,171.6 524.5,171.6 525.0,170.4 525.5,170.4 526.0,170.4 526.5,170.4 527.1,169.2 527.6,169.2 528.1,170.4 528.6,170.4 529.1,171.6 529.6,171.6 530.1,170.4 530.6,170.4 531.1,171.6 531.6,171.6 532.1,170.4 532.6,170.4 533.1,170.4 533.6,170.4 534.1,169.2 534.6,169.2 535.1,169.2 535.6,169.2 536.1,169.2 536.6,169.2 537.2,169.2 537.7,169.2 538.2,170.4 538.7,170.4 539.2,168.0 539.7,168.0 540.2,169.2 540.7,169.2 541.2,170.4 541.7,170.4 542.2,170.4 542.7,170.4 543.2,170.4 543.7,170.4 544.2,170.4 544.7,170.4 545.2,169.2 545.7,169.2 546.2,168.0 546.7,168.0 547.3,170.4 547.8,170.4 548.3,170.4 548.8,170.4 549.3,170.4 549.8,170.4 550.3,169.2 550.8,169.2 551.3,169.2 551.8,169.2 552.3,170.4 552.8,170.4 553.3,170.4 553.8,170.4 554.3,168.0 554.8,168.0 555.3,169.2 555.8,169.2 556.3,170.4 556.8,170.4 557.3,169.2 557.8,169.2 558.3,169.2 558.8,169.2 559.3,168.0 559.8,168.0 560.2,170.4 560.7,170.4 561.2,170.4 561.7,170.4 562.2,168.0 562.7,168.0 563.2,169.2 563.7,168.0 564.2,168.0 564.7,168.0 565.2,169.2 565.7,169.2 566.2,166.8 566.7,166.8 567.2,168.0 567.7,168.0 568.2,166.8 568.7,166.8 569.2,165.6 569.7,165.6 570.2,169.2 570.7,169.2 571.2,166.8 571.7,166.8 572.2,166.8 572.7,166.8 573.2,165.6 573.7,165.6 574.2,165.6 574.7,165.6 575.2,165.6 575.6,165.6 576.1,166.8 576.6,166.8 577.1,164.4 577.6,164.4 578.1,165.6 578.6,165.6 579.1,165.6 579.6,165.6 580.1,166.8 580.6,166.8 581.1,168.0 581.6,168.0 582.1,166.8 582.6,164.4 583.1,165.6 583.6,165.6 584.1,164.4 584.6,164.4 585.1,165.6 585.6,165.6 586.1,166.8 586.6,166.8 587.1,165.6 587.6,165.6 588.1,166.8 588.6,166.8 589.1,164.4 589.6,164.4 590.1,165.6 590.6,165.6 591.2,163.2 591.7,163.2 592.2,165.6 592.7,165.6 593.2,165.6 593.7,165.6 594.2,164.4 594.7,164.4 595.2,164.4 595.7,164.4 596.2,165.6 596.7,165.6 597.2,164.4 597.7,164.4 598.2,164.4 598.7,164.4 599.2,165.6 599.7,165.6 600.2,165.6 600.7,165.6 601.2,163.2 601.7,163.2 602.2,163.2 602.7,163.2 603.2,164.4 603.7,164.4 604.2,164.4 604.7,164.4 605.2,163.2 605.7,163.2 606.3,164.4 606.8,164.4 607.3,164.4 607.8,164.4 608.3,165.6 608.8,165.6 609.3,165.6 609.8,165.6 610.3,165.6 610.8,165.6 611.3,163.2 611.8,163.2 612.3,164.4 612.8,164.4 613.3,163.2 613.8,162.0 614.3,164.4 614.8,164.4 615.3,163.2 615.8,163.2 616.3,164.4 616.8,164.4 617.3,164.4 617.8,164.4 618.3,163.2 618.8,163.2 619.4,164.4 619.9,164.4 620.4,164.4 620.9,164.4 621.4,162.0 621.9,162.0 622.4,162.0 622.9,164.4 623.4,163.2 623.9,163.2 624.4,163.2 624.9,163.2 625.4,163.2 625.9,163.2 626.4,162.0 626.9,160.8 627.4,163.2 627.9,166.8 628.4,164.4 628.9,164.4 629.5,163.2 630.0,163.2 630.5,163.2 631.0,163.2 631.5,164.4 632.0,164.4 632.5,162.0 633.0,162.0 633.5,164.4 634.0,164.4 634.5,163.2 635.0,163.2 635.5,160.8 636.0,160.8 636.5,164.4 637.0,164.4 637.5,162.0 638.0,162.0 638.5,162.0 639.0,162.0 639.6,163.2 640.1,163.2 640.6,163.2 641.1,163.2 641.6,163.2 642.1,163.2 642.6,162.0 643.1,162.0 643.6,162.0 644.1,162.0 644.6,163.2 645.1,162.0 645.6,163.2 646.1,163.2 646.6,163.2 647.1,163.2 647.6,163.2 648.1,163.2 648.6,163.2 649.2,163.2 649.7,163.2 650.2,163.2 650.7,162.0 651.2,162.0 651.7,163.2 652.2,163.2 652.7,163.2 653.2,163.2 653.7,162.0 654.2,162.0 654.7,163.2 655.2,163.2 655.7,163.2 656.2,163.2 656.7,160.8 657.2,160.8 657.8,162.0 658.3,162.0 658.8,162.0 659.3,162.0 659.8,162.0 660.3,162.0 660.8,160.8 661.3,160.8 661.8,160.8 662.3,160.8 662.8,162.0 663.3,162.0 663.8,162.0 664.3,162.0 664.8,160.8 665.3,160.8 665.9,162.0 666.4,162.0 666.9,162.0 667.4,162.0 667.9,162.0 668.4,162.0 668.9,160.8 669.4,160.8 669.9,162.0 670.4,160.8 670.9,160.8 671.4,160.8 671.9,160.8 672.4,160.8 672.9,162.0 673.4,159.6 673.9,160.8 674.5,160.8 675.0,162.0 675.5,162.0 676.0,162.0 676.5,162.0 677.0,160.8 677.5,160.8 678.0,162.0 678.5,162.0" stroke="#ee1620" stroke-width="3.5"/>
<polyline points="123.9,363.9 123.9,363.4 124.0,362.9 124.0,362.4 124.0,362.2 124.1,361.7 124.1,361.2 124.1,360.7 124.2,359.9 124.2,359.4 124.2,358.9 124.3,358.4 124.3,357.9 124.4,357.4 124.4,357.1 124.4,356.6 124.5,355.9 124.5,355.4 124.5,355.0 124.6,354.5 124.6,353.8 124.8,353.3 124.9,353.2 125.0,352.7 125.2,351.7 125.3,351.2 125.5,350.7 125.6,350.2 125.8,349.9 125.9,349.4 126.1,348.9 126.2,348.4 126.4,348.3 126.5,347.9 126.7,346.7 126.8,346.2 127.0,345.4 127.1,344.9 127.3,343.0 127.5,344.2 127.6,343.7 127.8,343.2 127.9,343.0 128.1,342.5 128.2,341.5 128.3,341.0 128.5,343.0 128.7,342.6 128.9,340.2 129.1,339.8 129.3,340.0 129.5,339.6 129.7,336.6 129.9,336.0 130.1,337.2 130.4,337.2 130.6,336.0 130.8,336.0 131.0,334.8 131.2,337.2 131.4,333.6 131.6,333.6 131.8,333.6 132.0,333.6 132.3,333.6 132.5,333.6 132.8,332.4 133.1,331.2 133.3,331.2 133.6,331.2 133.9,331.2 134.1,330.0 134.4,330.0 134.7,328.8 134.9,328.8 135.2,327.6 135.5,326.4 135.7,328.8 136.0,325.2 136.4,325.2 136.7,326.4 137.1,326.4 137.5,327.6 137.8,326.4 138.2,325.2 138.6,325.2 138.9,325.2 139.3,324.0 139.6,324.0 140.0,324.0 140.4,322.8 140.7,322.8 141.1,321.6 141.4,320.4 141.7,320.4 142.1,320.4 142.4,319.2 142.7,319.2 143.0,318.0 143.4,318.0 143.7,318.0 144.0,318.0 144.3,319.2 144.7,318.0 145.0,316.8 145.3,316.8 145.6,315.6 146.0,314.4 146.3,314.4 146.6,313.2 146.9,315.6 147.3,314.4 147.6,313.2 147.9,312.0 148.3,314.4 148.7,314.4 149.2,310.8 149.6,310.8 150.0,310.8 150.4,310.8 150.8,310.8 151.2,310.8 151.7,308.4 152.1,307.2 152.5,309.6 152.9,309.6 153.3,309.6 153.7,309.6 154.2,309.6 154.6,309.6 155.0,308.4 155.4,308.4 155.8,306.0 156.2,306.0 156.6,307.2 156.9,307.2 157.3,306.0 157.7,306.0 158.1,307.2 158.5,306.0 158.9,306.0 159.2,304.8 159.6,303.6 160.0,303.6 160.4,302.4 160.8,302.4 161.2,301.2 161.6,301.2 161.9,303.6 162.3,303.6 162.7,300.0 163.1,300.0 163.5,300.0 163.9,300.0 164.2,300.0 164.6,300.0 165.0,300.0 165.4,298.8 165.8,300.0 166.3,300.0 166.7,300.0 167.2,300.0 167.6,297.6 168.1,297.6 168.5,297.6 169.0,296.4 169.4,296.4 169.9,296.4 170.3,296.4 170.8,296.4 171.2,296.4 171.7,295.2 172.1,296.4 172.6,296.4 173.0,297.6 173.5,296.4 173.9,295.2 174.4,294.0 174.8,294.0 175.3,294.0 175.7,294.0 176.2,292.8 176.6,292.8 177.1,292.8 177.5,294.0 178.0,291.6 178.5,294.0 178.9,292.8 179.4,291.6 179.9,291.6 180.3,291.6 180.8,291.6 181.3,289.2 181.7,289.2 182.2,291.6 182.6,291.6 183.1,289.2 183.6,289.2 184.0,288.0 184.5,288.0 185.0,286.8 185.4,286.8 185.9,289.2 186.4,289.2 186.8,286.8 187.3,286.8 187.8,289.2 188.3,289.2 188.8,286.8 189.3,286.8 189.8,286.8 190.2,286.8 190.7,286.8 191.2,286.8 191.7,285.6 192.2,285.6 192.7,285.6 193.2,285.6 193.7,284.4 194.2,284.4 194.7,285.6 195.2,285.6 195.6,284.4 196.1,284.4 196.6,284.4 197.1,284.4 197.6,284.4 198.1,284.4 198.6,283.2 199.1,283.2 199.6,283.2 200.1,285.6 200.6,282.0 201.0,282.0 201.5,283.2 202.0,283.2 202.5,283.2 203.0,283.2 203.5,279.6 204.0,279.6 204.5,280.8 205.0,280.8 205.5,283.2 206.0,282.0 206.4,279.6 206.9,279.6 207.4,280.8 207.9,279.6 208.4,279.6 208.9,279.6 209.4,278.4 209.8,278.4 210.3,277.2 210.8,277.2 211.2,278.4 211.7,278.4 212.2,278.4 212.7,278.4 213.1,277.2 213.6,277.2 214.1,278.4 214.5,277.2 215.0,274.8 215.5,274.8 216.0,277.2 216.5,277.2 217.0,278.4 217.6,278.4 218.1,274.8 218.6,274.8 219.1,276.0 219.6,276.0 220.1,276.0 220.6,276.0 221.1,276.0 221.6,276.0 222.2,273.6 222.7,273.6 223.2,273.6 223.7,273.6 224.2,274.8 224.7,274.8 225.1,273.6 225.6,273.6 226.0,273.6 226.5,273.6 227.0,274.8 227.4,274.8 227.9,274.8 228.3,274.8 228.8,271.2 229.3,271.2 229.7,271.2 230.2,271.2 230.6,271.2 231.1,271.2 231.6,270.0 232.0,270.0 232.5,272.4 232.9,272.4 233.4,270.0 233.8,270.0 234.3,270.0 234.8,270.0 235.2,268.8 235.7,268.8 236.1,270.0 236.6,270.0 237.1,270.0 237.5,270.0 238.0,268.8 238.4,268.8 238.9,266.4 239.4,266.4 239.8,268.8 240.3,267.6 240.7,265.2 241.2,265.2 241.6,266.4 242.1,266.4 242.6,266.4 243.0,266.4 243.5,267.6 243.9,266.4 244.4,267.6 244.8,267.6 245.3,265.2 245.7,265.2 246.2,264.0 246.7,264.0 247.1,265.2 247.6,265.2 248.0,261.6 248.5,261.6 248.9,264.0 249.4,264.0 249.8,262.8 250.3,262.8 250.8,261.6 251.2,261.6 251.7,260.4 252.1,262.8 252.6,261.6 253.0,261.6 253.5,261.6 253.9,260.4 254.3,259.2 254.8,259.2 255.2,260.4 255.6,260.4 256.0,259.2 256.4,259.2 256.8,259.2 257.3,259.2 257.7,259.2 258.1,258.0 258.5,259.2 258.9,258.0 259.3,255.6 259.8,256.8 260.2,256.8 260.6,256.8 261.0,256.8 261.4,255.6 261.8,253.2 262.3,253.2 262.7,253.2 263.1,253.2 263.5,253.2 263.9,253.2 264.3,253.2 264.8,252.0 265.2,253.2 265.6,253.2 266.0,250.8 266.4,250.8 266.8,254.4 267.3,252.0 267.7,250.8 268.1,250.8 268.5,249.6 268.9,249.6 269.4,249.6 269.8,249.6 270.2,248.4 270.6,248.4 271.0,249.6 271.4,249.6 271.9,248.4 272.3,247.2 272.7,247.2 273.1,246.0 273.5,247.2 273.9,247.2 274.4,247.2 274.8,247.2 275.2,246.0 275.6,246.0 276.0,244.8 276.4,244.8 276.9,246.0 277.3,246.0 277.7,242.4 278.1,242.4 278.5,242.4 278.9,242.4 279.4,243.6 279.8,243.6 280.2,243.6 280.6,243.6 281.0,240.0 281.4,240.0 281.9,241.2 282.3,241.2 282.7,240.0 283.1,240.0 283.5,238.8 283.9,238.8 284.3,238.8 284.8,237.6 285.2,240.0 285.6,240.0 286.0,237.6 286.4,236.4 286.8,237.6 287.2,237.6 287.6,237.6 288.0,237.6 288.4,237.6 288.9,237.6 289.3,236.4 289.7,235.2 290.1,235.2 290.5,235.2 290.9,235.2 291.3,235.2 291.7,235.2 292.1,235.2 292.5,235.2 292.9,235.2 293.4,232.8 293.8,232.8 294.2,232.8 294.6,232.8 295.0,230.4 295.4,230.4 295.9,230.4 296.3,226.8 296.8,231.6 297.2,231.6 297.6,229.2 298.1,229.2 298.5,229.2 299.0,229.2 299.4,229.2 299.8,229.2 300.3,226.8 300.7,226.8 301.2,226.8 301.6,226.8 302.0,226.8 302.5,226.8 302.9,225.6 303.4,225.6 303.8,225.6 304.2,225.6 304.7,225.6 305.1,225.6 305.6,225.6 306.0,225.6 306.5,225.6 306.9,225.6 307.3,224.4 307.8,224.4 308.2,223.2 308.7,225.6 309.1,220.8 309.6,223.2 310.0,220.8 310.4,220.8 310.9,222.0 311.3,222.0 311.8,223.2 312.2,223.2 312.7,222.0 313.1,222.0 313.5,222.0 314.0,222.0 314.4,219.6 314.9,219.6 315.3,218.4 315.8,218.4 316.2,219.6 316.6,219.6 317.1,218.4 317.5,217.2 318.0,220.8 318.4,218.4 318.9,217.2 319.3,217.2 319.8,216.0 320.2,216.0 320.7,217.2 321.1,217.2 321.5,214.8 322.0,214.8 322.4,213.6 322.9,213.6 323.3,214.8 323.8,214.8 324.2,214.8 324.7,213.6 325.1,212.4 325.5,212.4 326.0,213.6 326.4,213.6 326.9,212.4 327.3,212.4 327.8,211.2 328.2,211.2 328.7,211.2 329.1,211.2 329.6,210.0 330.0,210.0 330.5,210.0 331.0,211.2 331.5,211.2 331.9,211.2 332.4,211.2 332.9,211.2 333.4,210.0 333.9,210.0 334.4,211.2 334.8,210.0 335.3,208.8 335.8,208.8 336.3,208.8 336.8,208.8 337.3,208.8 337.7,208.8 338.2,207.6 338.7,207.6 339.2,210.0 339.7,210.0 340.2,207.6 340.6,207.6 341.1,207.6 341.6,207.6 342.1,207.6 342.6,207.6 343.1,206.4 343.5,206.4 344.0,206.4 344.5,206.4 345.0,206.4 345.5,206.4 346.0,205.2 346.5,205.2 346.9,205.2 347.4,205.2 347.9,205.2 348.4,205.2 348.9,205.2 349.4,205.2 349.8,204.0 350.3,204.0 350.8,205.2 351.3,204.0 351.8,204.0 352.3,204.0 352.8,202.8 353.2,202.8 353.7,204.0 354.2,204.0 354.7,205.2 355.2,204.0 355.7,204.0 356.2,204.0 356.6,202.8 357.1,202.8 357.6,199.2 358.1,201.6 358.6,202.8 359.1,202.8 359.5,201.6 360.0,201.6 360.5,202.8 361.0,202.8 361.5,201.6 362.0,201.6 362.4,201.6 362.9,201.6 363.4,202.8 363.9,202.8 364.3,200.4 364.8,200.4 365.3,199.2 365.8,199.2 366.2,199.2 366.7,199.2 367.2,199.2 367.7,198.0 368.2,198.0 368.6,198.0 369.1,199.2 369.6,196.8 370.1,198.0 370.5,198.0 371.0,199.2 371.5,196.8 372.0,198.0 372.5,196.8 372.9,196.8 373.4,196.8 373.9,196.8 374.4,196.8 374.8,196.8 375.3,196.8 375.8,196.8 376.3,196.8 376.7,194.4 377.2,194.4 377.7,194.4 378.2,194.4 378.7,194.4 379.1,193.2 379.6,194.4 380.1,193.2 380.6,194.4 381.0,194.4 381.5,193.2 382.0,193.2 382.5,192.0 382.9,192.0 383.4,193.2 383.9,193.2 384.4,193.2 384.8,193.2 385.3,193.2 385.8,193.2 386.3,194.4 386.7,194.4 387.2,192.0 387.7,192.0 388.2,190.8 388.6,192.0 389.1,192.0 389.6,192.0 390.1,188.4 390.5,188.4 391.0,189.6 391.5,189.6 392.0,190.8 392.4,190.8 392.9,189.6 393.4,189.6 393.9,192.0 394.3,190.8 394.8,188.4 395.3,192.0 395.8,189.6 396.2,189.6 396.7,189.6 397.2,189.6 397.6,188.4 398.1,188.4 398.6,188.4 399.1,186.0 399.5,187.2 400.0,187.2 400.5,188.4 401.0,188.4 401.5,186.0 402.0,186.0 402.5,187.2 403.0,187.2 403.5,186.0 404.0,186.0 404.5,187.2 405.0,187.2 405.5,186.0 406.0,186.0 406.5,186.0 407.0,186.0 407.5,186.0 408.0,186.0 408.5,186.0 409.0,186.0 409.5,186.0 410.0,186.0 410.5,183.6 411.0,183.6 411.5,183.6 412.0,183.6 412.5,183.6 413.0,183.6 413.4,184.8 413.9,184.8 414.4,186.0 414.9,186.0 415.4,184.8 415.9,184.8 416.4,183.6 416.9,183.6 417.4,182.4 417.9,182.4 418.4,184.8 418.9,184.8 419.4,182.4 419.9,182.4 420.4,184.8 420.9,184.8 421.4,182.4 421.9,182.4 422.4,184.8 422.9,184.8 423.4,184.8 423.9,184.8 424.4,183.6 424.9,183.6 425.4,183.6 425.9,183.6 426.4,182.4 426.9,182.4 427.4,182.4 427.9,182.4 428.4,182.4 428.9,182.4 429.4,183.6 429.9,183.6 430.4,181.2 430.9,181.2 431.4,183.6 431.9,183.6 432.4,183.6 432.9,183.6 433.4,182.4 433.9,182.4 434.4,183.6 434.9,183.6 435.4,180.0 435.9,180.0 436.4,181.2 436.9,181.2 437.4,180.0 437.9,182.4 438.4,184.8 438.9,182.4 439.5,181.2 440.0,181.2 440.5,181.2 441.0,181.2 441.5,181.2 442.0,181.2 442.5,182.4 443.0,181.2 443.5,181.2 444.0,181.2 444.5,181.2 445.0,183.6 445.5,180.0 446.0,180.0 446.5,180.0 447.0,180.0 447.5,180.0 448.0,178.8 448.5,178.8 449.0,178.8 449.5,180.0 450.0,180.0 450.5,177.6 451.0,177.6 451.5,177.6 452.0,177.6 452.5,178.8 453.0,178.8 453.5,178.8 454.0,178.8 454.5,180.0 455.0,180.0 455.5,180.0 456.0,180.0 456.5,177.6 457.0,177.6 457.5,178.8 458.0,178.8 458.5,177.6 459.0,177.6 459.5,177.6 460.0,177.6 460.5,177.6 461.0,177.6 461.5,177.6 462.0,177.6 462.5,177.6 463.0,177.6 463.5,176.4 464.0,176.4 464.5,176.4 465.0,174.0 465.6,177.6 466.1,177.6 466.6,177.6 467.1,177.6 467.6,176.4 468.1,176.4 468.6,177.6 469.1,177.6 469.6,177.6 470.1,177.6 470.6,177.6 471.1,177.6 471.6,175.2 472.1,175.2 472.6,176.4 473.1,176.4 473.6,176.4 474.1,176.4 474.6,176.4 475.1,176.4 475.7,176.4 476.2,175.2 476.7,175.2 477.2,175.2 477.7,176.4 478.2,176.4 478.7,176.4 479.2,176.4 479.7,175.2 480.2,175.2 480.7,175.2 481.2,175.2 481.7,175.2 482.2,175.2 482.7,175.2 483.2,175.2 483.7,172.8 484.2,172.8 484.7,175.2 485.2,175.2 485.8,171.6 486.3,174.0 486.8,175.2 487.3,175.2 487.8,175.2 488.3,175.2 488.8,174.0 489.3,176.4 489.8,174.0 490.3,175.2 490.8,175.2 491.3,175.2 491.8,175.2 492.3,175.2 492.8,172.8 493.3,172.8 493.8,174.0 494.3,174.0 494.8,174.0 495.3,174.0 495.8,174.0 496.3,174.0 496.8,172.8 497.3,172.8 497.8,174.0 498.3,174.0 498.9,174.0 499.4,174.0 499.9,171.6 500.4,171.6 500.9,172.8 501.4,175.2 501.9,172.8 502.4,172.8 502.9,172.8 503.4,172.8 503.9,172.8 504.4,172.8 504.9,175.2 505.4,172.8 505.9,174.0 506.4,174.0 506.9,172.8 507.4,172.8 507.9,172.8 508.4,172.8 508.9,174.0 509.4,172.8 509.9,170.4 510.4,170.4 510.9,172.8 511.4,170.4 511.9,170.4 512.4,169.2 512.9,174.0 513.4,174.0 514.0,172.8 514.5,172.8 515.0,174.0 515.5,174.0 516.0,170.4 516.5,170.4 517.0,170.4 517.5,172.8 518.0,171.6 518.5,171.6 519.0,171.6 519.5,171.6 520.0,170.4 520.5,170.4 521.0,172.8 521.5,172.8 522.0,172.8 522.5,171.6 523.0,171.6 523.5,171.6 524.0,174.0 524.5,174.0 525.0,171.6 525.5,170.4 526.0,171.6 526.5,171.6 527.1,170.4 527.6,170.4 528.1,170.4 528.6,170.4 529.1,170.4 529.6,170.4 530.1,171.6 530.6,171.6 531.1,171.6 531.6,171.6 532.1,171.6 532.6,170.4 533.1,172.8 533.6,172.8 534.1,171.6 534.6,171.6 535.1,170.4 535.6,170.4 536.1,170.4 536.6,170.4 537.2,171.6 537.7,171.6 538.2,171.6 538.7,171.6 539.2,169.2 539.7,169.2 540.2,169.2 540.7,169.2 541.2,170.4 541.7,170.4 542.2,170.4 542.7,169.2 543.2,165.6 543.7,169.2 544.2,169.2 544.7,169.2 545.2,169.2 545.7,169.2 546.2,168.0 546.7,168.0 547.3,169.2 547.8,169.2 548.3,170.4 548.8,170.4 549.3,169.2 549.8,169.2 550.3,169.2 550.8,169.2 551.3,169.2 551.8,169.2 552.3,168.0 552.8,169.2 553.3,168.0 553.7,168.0 554.2,169.2 554.7,169.2 555.2,168.0 555.7,168.0 556.1,166.8 556.6,165.6 557.1,168.0 557.6,168.0 558.1,168.0 558.6,166.8 559.0,166.8 559.5,166.8 560.0,165.6 560.5,162.0 561.0,165.6 561.4,165.6 561.9,165.6 562.4,165.6 562.9,166.8 563.4,166.8 563.9,165.6 564.3,166.8 564.8,168.0 565.3,169.2 565.8,166.8 566.3,168.0 566.7,166.8 567.2,166.8 567.7,166.8 568.2,166.8 568.7,169.2 569.2,169.2 569.7,168.0 570.2,168.0 570.7,169.2 571.2,169.2 571.7,170.4 572.2,170.4 572.7,168.0 573.2,168.0 573.7,168.0 574.2,168.0 574.7,168.0 575.2,169.2 575.6,169.2 576.1,169.2 576.6,170.4 577.1,170.4 577.6,169.2 578.1,169.2 578.6,170.4 579.1,170.4 579.6,168.0 580.1,168.0 580.6,169.2 581.1,169.2 581.6,169.2 582.1,169.2 582.6,169.2 583.1,169.2 583.6,170.4 584.1,170.4 584.6,170.4 585.1,171.6 585.6,170.4 586.1,170.4 586.6,169.2 587.1,169.2 587.6,168.0 588.1,168.0 588.6,170.4 589.1,170.4 589.6,170.4 590.1,170.4 590.6,168.0 591.0,170.4 591.5,171.6 592.0,171.6 592.5,172.8 593.0,172.8 593.5,172.8 594.0,171.6 594.5,174.0 595.0,174.0 595.5,172.8 596.0,172.8 596.5,171.6 597.0,171.6 597.5,171.6 598.0,171.6 598.5,171.6 599.0,171.6 599.5,172.8 600.0,172.8 600.5,172.8 601.0,172.8 601.6,172.8 602.1,172.8 602.6,171.6 603.1,171.6 603.6,172.8 604.1,172.8 604.6,171.6 605.1,171.6 605.6,171.6 606.1,171.6 606.7,171.6 607.2,171.6 607.7,171.6 608.2,171.6 608.7,171.6 609.2,171.6 609.7,172.8 610.2,172.8 610.7,170.4 611.2,170.4 611.8,171.6 612.3,171.6 612.8,171.6 613.3,171.6 613.8,169.2 614.3,171.6 614.8,171.6 615.3,171.6 615.8,170.4 616.3,170.4 616.8,170.4 617.3,170.4 617.8,170.4 618.3,170.4 618.8,169.2 619.3,169.2 619.8,170.4 620.3,170.4 620.8,170.4 621.3,169.2 621.7,166.8 622.2,166.8 622.7,171.6 623.2,171.6 623.7,170.4 624.2,170.4 624.7,171.6 625.2,171.6 625.7,169.2 626.2,169.2 626.7,170.4 627.2,170.4 627.7,168.0 628.2,168.0 628.7,170.4 629.2,170.4 629.7,170.4 630.2,170.4 630.7,168.0 631.3,168.0 631.8,169.2 632.3,169.2 632.8,169.2 633.3,169.2 633.8,169.2 634.3,169.2 634.8,169.2 635.4,169.2 635.9,169.2 636.4,169.2 636.9,170.4 637.4,170.4 637.9,169.2 638.4,169.2 639.0,168.0 639.5,168.0 640.0,168.0 640.5,168.0 641.0,168.0 641.5,166.8 642.0,168.0 642.5,168.0 643.1,168.0 643.6,168.0 644.1,166.8 644.6,166.8 645.1,168.0 645.6,168.0 646.1,169.2 646.7,169.2 647.2,166.8 647.7,166.8 648.2,169.2 648.7,169.2 649.2,166.8 649.7,166.8 650.2,168.0 650.8,168.0 651.3,168.0 651.8,168.0 652.3,166.8 652.8,166.8 653.3,168.0 653.8,168.0 654.4,168.0 654.9,168.0 655.4,168.0 655.9,168.0 656.4,168.0 656.9,168.0 657.4,168.0 657.9,168.0 658.5,166.8 659.0,166.8 659.5,165.6 660.0,165.6 660.5,168.0 661.0,168.0 661.5,168.0 662.0,168.0 662.5,165.6 663.0,165.6 663.5,165.6 664.0,165.6 664.5,166.8 665.0,166.8 665.5,168.0 666.0,168.0 666.5,166.8 667.0,166.8 667.5,165.6 668.0,165.6 668.5,166.8 669.0,166.8 669.5,168.0 670.0,168.0 670.5,166.8 671.0,166.8 671.5,165.6 672.0,165.6 672.5,166.8 673.0,166.8 673.5,166.8 674.0,166.8 674.5,165.6 675.0,168.0 675.5,168.0 676.0,168.0 676.5,168.0 677.0,168.0 677.5,165.6 678.0,165.6 678.5,166.8" stroke="#5fbf44" stroke-width="3.5"/>
<polyline points="123.9,366.5 123.9,366.0 123.9,366.2 123.9,365.3 124.0,364.3 124.0,363.8 124.0,363.5 124.0,363.0 124.0,362.5 124.0,361.8 124.1,361.5 124.1,361.0 124.1,360.4 124.1,359.9 124.1,359.5 124.1,359.0 124.2,358.3 124.2,357.8 124.2,357.4 124.2,356.9 124.2,356.5 124.2,356.0 124.3,355.3 124.3,354.5 124.3,354.4 124.3,353.9 124.3,353.4 124.3,352.9 124.4,352.3 124.4,351.8 124.4,351.2 124.4,350.7 124.4,350.3 124.5,349.8 124.5,349.3 124.5,348.8 124.6,348.4 124.7,347.9 124.8,347.2 124.9,346.6 124.9,345.9 125.0,345.7 125.1,345.3 125.2,344.8 125.3,344.1 125.4,343.6 125.5,343.2 125.6,342.7 125.7,342.1 125.7,341.6 125.8,341.9 125.9,340.5 126.0,340.0 126.1,339.5 126.3,339.6 126.4,339.2 126.6,338.0 126.8,337.5 127.0,336.7 127.1,336.2 127.3,338.0 127.5,336.2 127.7,334.8 127.8,334.3 128.0,332.3 128.2,333.9 128.4,333.2 128.5,332.7 128.7,331.8 128.9,331.3 129.1,329.4 129.2,328.8 129.4,330.5 129.7,330.1 130.0,331.2 130.3,330.0 130.6,330.0 130.8,330.0 131.1,327.6 131.4,327.6 131.7,327.6 132.0,327.6 132.3,325.2 132.6,325.2 132.9,322.8 133.2,322.8 133.4,325.2 133.7,325.2 134.0,325.2 134.3,325.2 134.6,322.8 134.9,321.6 135.3,321.6 135.6,321.6 135.9,319.2 136.3,319.2 136.6,320.4 137.0,319.2 137.3,320.4 137.6,319.2 138.0,318.0 138.3,318.0 138.7,318.0 139.0,316.8 139.4,315.6 139.7,315.6 140.1,314.4 140.4,314.4 140.8,318.0 141.1,314.4 141.4,314.4 141.8,314.4 142.1,312.0 142.5,312.0 142.8,313.2 143.2,313.2 143.5,312.0 143.9,310.8 144.2,312.0 144.6,312.0 145.0,309.6 145.4,308.4 145.8,309.6 146.1,309.6 146.5,308.4 146.9,308.4 147.3,308.4 147.7,307.2 148.1,309.6 148.5,309.6 148.8,307.2 149.2,307.2 149.6,307.2 150.0,306.0 150.4,306.0 150.8,306.0 151.1,306.0 151.5,304.8 151.9,301.2 152.3,303.6 152.7,304.8 153.1,304.8 153.4,303.6 153.8,302.4 154.2,301.2 154.6,301.2 155.0,303.6 155.4,303.6 155.8,300.0 156.3,300.0 156.7,302.4 157.1,298.8 157.5,300.0 157.9,298.8 158.3,300.0 158.8,300.0 159.2,298.8 159.6,298.8 160.0,298.8 160.3,298.8 160.7,297.6 161.1,296.4 161.4,296.4 161.8,296.4 162.2,296.4 162.5,296.4 162.9,295.2 163.2,295.2 163.6,295.2 164.0,295.2 164.3,294.0 164.7,294.0 165.1,294.0 165.4,292.8 165.8,292.8 166.2,292.8 166.5,289.2 166.9,291.6 167.2,290.4 167.6,289.2 168.0,289.2 168.3,289.2 168.7,289.2 169.0,288.0 169.4,288.0 169.8,288.0 170.1,289.2 170.5,289.2 170.8,286.8 171.2,286.8 171.6,286.8 171.9,285.6 172.3,286.8 172.6,285.6 173.0,284.4 173.4,283.2 173.7,285.6 174.1,284.4 174.4,283.2 174.8,282.0 175.2,283.2 175.5,283.2 175.9,280.8 176.2,280.8 176.6,280.8 177.0,280.8 177.4,282.0 177.7,280.8 178.1,279.6 178.5,278.4 178.9,279.6 179.3,279.6 179.7,279.6 180.0,279.6 180.4,278.4 180.8,278.4 181.2,277.2 181.6,276.0 181.9,276.0 182.3,276.0 182.7,276.0 183.1,276.0 183.5,274.8 183.9,274.8 184.2,274.8 184.6,274.8 185.0,274.8 185.4,272.4 185.8,273.6 186.2,273.6 186.5,273.6 186.9,273.6 187.3,272.4 187.7,272.4 188.0,271.2 188.4,271.2 188.8,270.0 189.2,268.8 189.5,268.8 189.9,268.8 190.3,270.0 190.7,270.0 191.0,268.8 191.4,268.8 191.8,267.6 192.1,267.6 192.5,268.8 192.9,268.8 193.3,266.4 193.6,265.2 194.0,265.2 194.4,265.2 194.7,264.0 195.1,264.0 195.5,264.0 195.9,264.0 196.2,262.8 196.6,261.6 197.0,264.0 197.4,266.4 197.7,262.8 198.1,262.8 198.5,262.8 198.9,261.6 199.3,260.4 199.6,259.2 200.0,260.4 200.4,260.4 200.8,260.4 201.2,260.4 201.6,258.0 202.0,258.0 202.3,261.6 202.7,258.0 203.1,259.2 203.5,258.0 203.9,256.8 204.3,256.8 204.7,258.0 205.0,258.0 205.4,255.6 205.8,255.6 206.2,255.6 206.6,255.6 207.0,254.4 207.4,254.4 207.7,253.2 208.1,253.2 208.5,256.8 208.9,253.2 209.3,252.0 209.7,252.0 210.0,249.6 210.4,249.6 210.8,250.8 211.2,250.8 211.6,249.6 211.9,248.4 212.3,249.6 212.7,247.2 213.1,248.4 213.5,248.4 213.9,247.2 214.2,247.2 214.6,247.2 215.0,247.2 215.4,247.2 215.9,247.2 216.3,244.8 216.8,244.8 217.2,247.2 217.6,247.2 218.1,244.8 218.5,244.8 218.9,244.8 219.4,244.8 219.8,243.6 220.3,243.6 220.7,244.8 221.1,244.8 221.6,242.4 222.0,242.4 222.4,242.4 222.9,242.4 223.3,242.4 223.8,242.4 224.2,241.2 224.6,241.2 225.0,240.0 225.4,240.0 225.8,240.0 226.3,240.0 226.7,238.8 227.1,238.8 227.5,240.0 227.9,240.0 228.3,240.0 228.7,240.0 229.1,236.4 229.5,236.4 230.0,236.4 230.4,236.4 230.8,237.6 231.2,238.8 231.6,235.2 232.0,235.2 232.3,235.2 232.7,234.0 233.1,235.2 233.4,235.2 233.8,234.0 234.2,232.8 234.5,234.0 234.9,234.0 235.2,234.0 235.6,232.8 236.0,232.8 236.3,231.6 236.7,231.6 237.1,231.6 237.4,231.6 237.8,231.6 238.2,231.6 238.5,229.2 238.9,229.2 239.4,229.2 239.8,229.2 240.3,229.2 240.8,226.8 241.2,226.8 241.7,228.0 242.2,228.0 242.6,226.8 243.1,226.8 243.5,226.8 244.0,226.8 244.5,224.4 244.9,226.8 245.4,225.6 245.8,225.6 246.2,225.6 246.6,225.6 247.0,224.4 247.4,224.4 247.8,223.2 248.2,223.2 248.6,223.2 249.0,223.2 249.4,222.0 249.9,220.8 250.3,222.0 250.7,222.0 251.1,222.0 251.5,222.0 251.9,220.8 252.3,220.8 252.7,218.4 253.1,219.6 253.5,222.0 253.9,222.0 254.3,218.4 254.7,218.4 255.1,219.6 255.5,218.4 255.9,218.4 256.3,218.4 256.7,217.2 257.1,217.2 257.4,217.2 257.8,216.0 258.2,214.8 258.6,214.8 259.0,217.2 259.4,217.2 259.8,213.6 260.2,214.8 260.6,212.4 261.0,212.4 261.4,214.8 261.8,213.6 262.2,213.6 262.6,212.4 263.0,212.4 263.4,212.4 263.8,211.2 264.2,210.0 264.5,211.2 264.9,211.2 265.3,210.0 265.7,210.0 266.1,208.8 266.5,208.8 266.9,208.8 267.3,207.6 267.7,210.0 268.1,208.8 268.5,207.6 268.9,207.6 269.4,207.6 269.8,207.6 270.2,207.6 270.6,207.6 271.0,208.8 271.4,206.4 271.9,207.6 272.3,206.4 272.7,205.2 273.1,205.2 273.5,204.0 273.9,204.0 274.4,202.8 274.8,201.6 275.2,202.8 275.6,202.8 276.0,201.6 276.4,201.6 276.9,201.6 277.3,201.6 277.7,200.4 278.1,202.8 278.5,201.6 278.9,200.4 279.4,199.2 279.8,199.2 280.2,199.2 280.6,199.2 281.0,200.4 281.4,199.2 281.9,198.0 282.3,196.8 282.7,198.0 283.1,198.0 283.5,196.8 283.9,196.8 284.3,199.2 284.7,196.8 285.1,196.8 285.5,196.8 285.9,195.6 286.3,195.6 286.7,194.4 287.1,194.4 287.5,194.4 287.9,194.4 288.3,194.4 288.7,194.4 289.1,193.2 289.5,192.0 289.9,193.2 290.3,193.2 290.7,192.0 291.1,192.0 291.5,190.8 292.0,190.8 292.4,192.0 292.9,192.0 293.4,190.8 293.9,189.6 294.3,188.4 294.8,188.4 295.3,188.4 295.8,188.4 296.2,189.6 296.7,189.6 297.2,184.8 297.6,187.2 298.1,187.2 298.6,187.2 299.1,188.4 299.5,188.4 300.0,188.4 300.5,187.2 301.0,187.2 301.4,187.2 301.9,186.0 302.4,186.0 302.9,183.6 303.3,183.6 303.8,184.8 304.3,184.8 304.8,184.8 305.3,184.8 305.8,186.0 306.3,184.8 306.8,183.6 307.3,183.6 307.8,184.8 308.3,184.8 308.8,183.6 309.3,183.6 309.8,184.8 310.2,184.8 310.7,182.4 311.2,182.4 311.7,183.6 312.2,183.6 312.7,183.6 313.2,183.6 313.7,182.4 314.2,182.4 314.7,182.4 315.2,182.4 315.7,182.4 316.2,182.4 316.7,181.2 317.2,181.2 317.7,181.2 318.2,181.2 318.7,181.2 319.2,181.2 319.6,181.2 320.1,181.2 320.6,182.4 321.1,182.4 321.6,182.4 322.1,182.4 322.6,180.0 323.1,180.0 323.6,181.2 324.1,180.0 324.6,178.8 325.1,178.8 325.5,178.8 326.0,178.8 326.5,178.8 327.0,178.8 327.5,178.8 328.0,175.2 328.5,177.6 329.0,177.6 329.5,177.6 330.0,177.6 330.5,177.6 331.0,177.6 331.5,177.6 331.9,177.6 332.4,177.6 332.9,177.6 333.4,177.6 333.9,177.6 334.4,176.4 334.9,176.4 335.4,174.0 335.9,174.0 336.4,175.2 336.9,174.0 337.4,176.4 337.8,176.4 338.3,175.2 338.8,175.2 339.3,175.2 339.8,175.2 340.3,175.2 340.8,175.2 341.3,175.2 341.8,175.2 342.3,174.0 342.8,174.0 343.3,172.8 343.8,175.2 344.2,174.0 344.7,174.0 345.2,174.0 345.7,174.0 346.2,172.8 346.7,172.8 347.2,172.8 347.7,171.6 348.2,171.6 348.7,171.6 349.2,171.6 349.7,171.6 350.1,171.6 350.6,171.6 351.1,171.6 351.6,171.6 352.1,171.6 352.6,171.6 353.1,171.6 353.6,170.4 354.1,170.4 354.6,169.2 355.1,171.6 355.6,171.6 356.1,170.4 356.5,170.4 357.0,169.2 357.5,169.2 358.0,169.2 358.5,169.2 359.0,166.8 359.5,166.8 360.0,170.4 360.5,168.0 361.0,170.4 361.5,168.0 362.0,168.0 362.4,168.0 362.9,168.0 363.4,168.0 363.9,169.2 364.4,169.2 364.9,168.0 365.4,168.0 365.9,166.8 366.4,166.8 366.9,168.0 367.4,166.8 367.9,166.8 368.4,166.8 368.8,166.8 369.3,166.8 369.8,166.8 370.3,166.8 370.8,165.6 371.3,165.6 371.8,166.8 372.3,166.8 372.8,164.4 373.3,164.4 373.8,165.6 374.3,165.6 374.7,164.4 375.2,164.4 375.7,166.8 376.2,165.6 376.7,165.6 377.2,165.6 377.7,165.6 378.2,165.6 378.7,164.4 379.2,164.4 379.7,165.6 380.2,166.8 380.7,164.4 381.1,164.4 381.6,163.2 382.1,163.2 382.6,164.4 383.1,164.4 383.6,164.4 384.1,164.4 384.6,163.2 385.1,163.2 385.6,163.2 386.1,163.2 386.6,163.2 387.0,163.2 387.5,162.0 388.0,160.8 388.5,164.4 389.0,162.0 389.5,160.8 390.0,162.0 390.5,163.2 391.0,162.0 391.5,163.2 392.1,163.2 392.6,163.2 393.1,163.2 393.6,162.0 394.1,162.0 394.6,160.8 395.1,160.8 395.6,159.6 396.1,159.6 396.7,160.8 397.2,164.4 397.7,160.8 398.2,160.8 398.7,160.8 399.2,160.8 399.7,162.0 400.2,162.0 400.8,160.8 401.3,163.2 401.8,160.8 402.3,160.8 402.8,159.6 403.3,159.6 403.8,159.6 404.3,159.6 404.8,160.8 405.3,160.8 405.8,157.2 406.3,157.2 406.8,160.8 407.3,160.8 407.8,159.6 408.3,159.6 408.8,158.4 409.3,158.4 409.8,157.2 410.3,157.2 410.8,158.4 411.3,158.4 411.8,159.6 412.3,158.4 412.8,158.4 413.3,158.4 413.8,159.6 414.3,159.6 414.9,158.4 415.4,158.4 415.9,157.2 416.4,157.2 416.9,157.2 417.4,157.2 417.9,159.6 418.4,158.4 418.9,157.2 419.4,157.2 419.9,158.4 420.4,157.2 420.9,158.4 421.4,158.4 421.9,156.0 422.4,156.0 422.9,157.2 423.4,154.8 423.9,158.4 424.4,158.4 424.9,158.4 425.4,157.2 425.9,156.0 426.4,156.0 426.9,157.2 427.4,157.2 427.9,156.0 428.4,156.0 428.9,156.0 429.4,156.0 429.9,157.2 430.4,157.2 430.9,157.2 431.4,157.2 431.9,158.4 432.4,158.4 432.9,157.2 433.4,157.2 433.9,157.2 434.4,157.2 434.9,157.2 435.4,157.2 435.9,156.0 436.4,156.0 436.9,159.6 437.4,157.2 437.9,157.2 438.4,157.2 438.9,156.0 439.5,156.0 440.0,156.0 440.5,156.0 441.0,154.8 441.5,154.8 442.0,156.0 442.5,156.0 443.0,154.8 443.5,154.8 444.0,153.6 444.5,153.6 445.0,154.8 445.5,154.8 446.0,156.0 446.5,156.0 447.0,154.8 447.5,154.8 448.0,154.8 448.5,154.8 449.0,154.8 449.5,154.8 450.0,156.0 450.5,156.0 451.0,154.8 451.5,154.8 452.0,153.6 452.5,153.6 453.0,154.8 453.5,154.8 454.0,152.4 454.5,152.4 455.0,153.6 455.5,153.6 456.0,154.8 456.5,154.8 457.0,152.4 457.5,152.4 458.0,153.6 458.5,153.6 459.0,154.8 459.5,154.8 460.0,152.4 460.5,152.4 461.0,152.4 461.5,150.0 462.1,153.6 462.6,153.6 463.1,153.6 463.6,153.6 464.1,152.4 464.6,152.4 465.1,153.6 465.6,153.6 466.2,153.6 466.7,153.6 467.2,152.4 467.7,152.4 468.2,153.6 468.7,153.6 469.2,150.0 469.8,150.0 470.3,152.4 470.8,152.4 471.3,153.6 471.8,153.6 472.3,151.2 472.8,151.2 473.3,151.2 473.9,151.2 474.4,150.0 474.9,151.2 475.4,152.4 475.9,152.4 476.4,151.2 476.9,151.2 477.5,152.4 478.0,152.4 478.5,151.2 479.0,151.2 479.5,150.0 480.0,150.0 480.5,150.0 481.0,150.0 481.6,151.2 482.1,151.2 482.6,151.2 483.1,147.6 483.6,151.2 484.1,151.2 484.6,150.0 485.2,150.0 485.7,154.8 486.2,152.4 486.7,152.4 487.2,152.4 487.7,151.2 488.2,151.2 488.7,151.2 489.3,151.2 489.8,148.8 490.3,148.8 490.8,151.2 491.3,151.2 491.8,151.2 492.3,151.2 492.9,150.0 493.4,150.0 493.9,150.0 494.4,148.8 494.9,153.6 495.4,150.0 495.9,150.0 496.4,150.0 497.0,150.0 497.5,150.0 498.0,152.4 498.5,152.4 499.0,150.0 499.5,150.0 500.0,150.0 500.6,150.0 501.1,148.8 501.6,148.8 502.1,150.0 502.6,150.0 503.1,147.6 503.6,150.0 504.1,150.0 504.7,150.0 505.2,150.0 505.7,150.0 506.2,148.8 506.7,148.8 507.2,148.8 507.7,148.8 508.2,148.8 508.7,148.8 509.2,148.8 509.7,148.8 510.3,147.6 510.8,147.6 511.3,147.6 511.8,147.6 512.3,146.4 512.8,146.4 513.3,148.8 513.8,148.8 514.2,148.8 514.7,148.8 515.1,148.8 515.5,148.8 515.9,150.0 516.4,150.0 516.8,150.0 517.2,151.2 517.6,150.0 518.1,151.2 518.5,151.2 518.9,151.2 519.4,152.4 519.8,152.4 520.2,151.2 520.6,151.2 521.1,152.4 521.5,152.4 522.0,150.0 522.5,153.6 523.0,153.6 523.6,153.6 524.1,153.6 524.6,153.6 525.1,152.4 525.6,152.4 526.1,148.8 526.6,152.4 527.1,156.0 527.7,156.0 528.2,154.8 528.7,154.8 529.2,153.6 529.7,153.6 530.2,154.8 530.7,154.8 531.3,152.4 531.8,150.0 532.3,152.4 532.8,152.4 533.3,152.4 533.8,153.6 534.3,152.4 534.8,152.4 535.4,153.6 535.9,152.4 536.4,152.4 536.9,152.4 537.4,151.2 537.9,148.8 538.4,151.2 539.0,151.2 539.5,151.2 540.0,151.2 540.5,151.2 541.0,151.2 541.5,151.2 542.0,151.2 542.5,151.2 543.1,151.2 543.6,151.2 544.1,151.2 544.6,151.2 545.1,151.2 545.6,151.2 546.1,151.2 546.7,152.4 547.2,152.4 547.7,150.0 548.2,150.0 548.7,150.0 549.2,150.0 549.7,150.0 550.2,150.0 550.8,151.2 551.3,151.2 551.8,150.0 552.3,150.0 552.8,150.0 553.3,150.0 553.8,148.8 554.4,148.8 554.9,151.2 555.4,151.2 555.9,150.0 556.4,150.0 556.9,150.0 557.4,150.0 557.9,152.4 558.5,152.4 559.0,150.0 559.5,150.0 560.0,151.2 560.5,151.2 561.0,151.2 561.5,151.2 562.1,148.8 562.6,148.8 563.1,150.0 563.6,150.0 564.1,151.2 564.6,151.2 565.1,150.0 565.6,150.0 566.2,150.0 566.7,150.0 567.2,150.0 567.7,150.0 568.2,147.6 568.7,147.6 569.2,150.0 569.8,150.0 570.3,150.0 570.8,150.0 571.3,150.0 571.8,150.0 572.3,148.8 572.8,148.8 573.3,150.0 573.9,150.0 574.4,148.8 574.9,148.8 575.4,151.2 575.9,151.2 576.4,150.0 576.9,150.0 577.5,151.2 578.0,151.2 578.5,151.2 579.0,151.2 579.5,150.0 580.0,150.0 580.5,151.2 581.0,151.2 581.6,151.2 582.1,151.2 582.6,148.8 583.1,148.8 583.6,151.2 584.1,151.2 584.6,148.8 585.1,148.8 585.6,148.8 586.1,151.2 586.6,147.6 587.1,147.6 587.6,147.6 588.1,147.6 588.6,148.8 589.0,148.8 589.5,147.6 590.0,147.6 590.5,146.4 591.0,146.4 591.5,148.8 592.0,147.6 592.5,146.4 593.0,144.0 593.5,148.8 594.0,147.6 594.5,148.8 595.0,148.8 595.5,147.6 596.0,147.6 596.5,146.4 597.0,146.4 597.5,147.6 598.0,147.6 598.5,146.4 599.0,146.4 599.5,147.6 600.0,147.6 600.5,147.6 601.0,147.6 601.5,146.4 602.0,146.4 602.5,147.6 603.0,147.6 603.5,147.6 604.0,147.6 604.5,147.6 605.0,150.0 605.5,147.6 606.0,147.6 606.5,147.6 607.0,147.6 607.5,146.4 608.0,147.6 608.5,146.4 609.0,146.4 609.5,146.4 610.0,146.4 610.5,147.6 611.0,147.6 611.5,148.8 612.0,148.8 612.5,148.8 613.0,148.8 613.5,146.4 614.0,148.8 614.5,147.6 615.0,147.6 615.5,148.8 616.0,148.8 616.5,147.6 617.0,147.6 617.5,148.8 618.0,148.8 618.5,150.0 619.0,150.0 619.5,146.4 620.0,146.4 620.5,147.6 621.0,148.8 621.5,148.8 622.0,148.8 622.5,148.8 623.0,148.8 623.5,150.0 624.1,150.0 624.6,150.0 625.1,150.0 625.6,147.6 626.1,147.6 626.6,148.8 627.1,148.8 627.6,148.8 628.1,151.2 628.6,151.2 629.1,151.2 629.6,148.8 630.1,148.8 630.6,150.0 631.1,150.0 631.6,150.0 632.1,150.0 632.6,150.0 633.1,150.0 633.6,148.8 634.1,148.8 634.6,150.0 635.1,150.0 635.7,147.6 636.2,147.6 636.7,147.6 637.2,147.6 637.7,146.4 638.2,146.4 638.7,146.4 639.2,146.4 639.7,146.4 640.2,146.4 640.7,147.6 641.2,145.2 641.7,145.2 642.2,144.0 642.7,146.4 643.1,146.4 643.6,146.4 644.1,145.2 644.6,146.4 645.1,146.4 645.6,145.2 646.1,145.2 646.5,145.2 647.0,145.2 647.5,145.2 648.0,145.2 648.4,144.0 648.9,144.0 649.3,145.2 649.7,144.0 650.1,144.0 650.6,144.0 651.0,142.8 651.4,142.8 651.8,142.8 652.3,141.6 652.7,141.6 653.2,141.6 653.8,142.8 654.3,142.8 654.8,139.2 655.4,139.2 655.9,141.6 656.4,141.6 656.9,139.2 657.5,139.2 658.0,140.4 658.5,140.4 659.1,141.6 659.6,141.6 660.1,140.4 660.6,141.6 661.1,140.4 661.6,140.4 662.2,140.4 662.7,140.4 663.2,141.6 663.7,141.6 664.2,140.4 664.7,140.4 665.2,141.6 665.7,141.6 666.2,142.8 666.8,142.8 667.3,141.6 667.8,141.6 668.3,141.6 668.8,141.6 669.3,142.8 669.8,142.8 670.3,142.8 670.8,142.8 671.3,141.6 671.8,141.6 672.3,144.0 672.8,144.0 673.3,141.6 673.8,141.6 674.3,140.4 674.8,140.4 675.3,141.6 675.8,141.6 676.3,141.6 676.8,141.6 677.2,141.6 677.7,141.6 678.2,141.6 678.6,141.6 679.1,140.4 679.6,140.4 680.1,141.6 680.5,141.6 681.0,140.4 681.5,139.2" stroke="#2f4ca8" stroke-width="3.5"/>
</g>
<g stroke="#231f20" stroke-width="2.5" fill="none" stroke-linecap="butt">
<rect x="107.0" y="16.3" width="657.40" height="535.00"/>
<line x1="96.20" y1="551.80" x2="107.0" y2="551.80"/>
<line x1="753.60" y1="551.80" x2="764.4" y2="551.80"/>
<line x1="101.40" y1="507.19" x2="107.0" y2="507.19"/>
<line x1="758.80" y1="507.19" x2="764.4" y2="507.19"/>
<line x1="101.40" y1="462.57" x2="107.0" y2="462.57"/>
<line x1="758.80" y1="462.57" x2="764.4" y2="462.57"/>
<line x1="101.40" y1="417.96" x2="107.0" y2="417.96"/>
<line x1="758.80" y1="417.96" x2="764.4" y2="417.96"/>
<line x1="96.20" y1="373.35" x2="107.0" y2="373.35"/>
<line x1="753.60" y1="373.35" x2="764.4" y2="373.35"/>
<line x1="101.40" y1="328.74" x2="107.0" y2="328.74"/>
<line x1="758.80" y1="328.74" x2="764.4" y2="328.74"/>
<line x1="101.40" y1="284.12" x2="107.0" y2="284.12"/>
<line x1="758.80" y1="284.12" x2="764.4" y2="284.12"/>
<line x1="101.40" y1="239.51" x2="107.0" y2="239.51"/>
<line x1="758.80" y1="239.51" x2="764.4" y2="239.51"/>
<line x1="96.20" y1="194.90" x2="107.0" y2="194.90"/>
<line x1="753.60" y1="194.90" x2="764.4" y2="194.90"/>
<line x1="101.40" y1="150.29" x2="107.0" y2="150.29"/>
<line x1="758.80" y1="150.29" x2="764.4" y2="150.29"/>
<line x1="101.40" y1="105.67" x2="107.0" y2="105.67"/>
<line x1="758.80" y1="105.67" x2="764.4" y2="105.67"/>
<line x1="101.40" y1="61.06" x2="107.0" y2="61.06"/>
<line x1="758.80" y1="61.06" x2="764.4" y2="61.06"/>
<line x1="96.20" y1="16.45" x2="107.0" y2="16.45"/>
<line x1="753.60" y1="16.45" x2="764.4" y2="16.45"/>
<line x1="124.30" y1="551.3" x2="124.30" y2="562.10"/>
<line x1="124.30" y1="16.3" x2="124.30" y2="27.10"/>
<line x1="167.56" y1="551.3" x2="167.56" y2="556.90"/>
<line x1="167.56" y1="16.3" x2="167.56" y2="21.90"/>
<line x1="210.81" y1="551.3" x2="210.81" y2="556.90"/>
<line x1="210.81" y1="16.3" x2="210.81" y2="21.90"/>
<line x1="254.07" y1="551.3" x2="254.07" y2="556.90"/>
<line x1="254.07" y1="16.3" x2="254.07" y2="21.90"/>
<line x1="297.33" y1="551.3" x2="297.33" y2="562.10"/>
<line x1="297.33" y1="16.3" x2="297.33" y2="27.10"/>
<line x1="340.59" y1="551.3" x2="340.59" y2="556.90"/>
<line x1="340.59" y1="16.3" x2="340.59" y2="21.90"/>
<line x1="383.84" y1="551.3" x2="383.84" y2="556.90"/>
<line x1="383.84" y1="16.3" x2="383.84" y2="21.90"/>
<line x1="427.10" y1="551.3" x2="427.10" y2="556.90"/>
<line x1="427.10" y1="16.3" x2="427.10" y2="21.90"/>
<line x1="470.36" y1="551.3" x2="470.36" y2="562.10"/>
<line x1="470.36" y1="16.3" x2="470.36" y2="27.10"/>
<line x1="513.62" y1="551.3" x2="513.62" y2="556.90"/>
<line x1="513.62" y1="16.3" x2="513.62" y2="21.90"/>
<line x1="556.88" y1="551.3" x2="556.88" y2="556.90"/>
<line x1="556.88" y1="16.3" x2="556.88" y2="21.90"/>
<line x1="600.13" y1="551.3" x2="600.13" y2="556.90"/>
<line x1="600.13" y1="16.3" x2="600.13" y2="21.90"/>
<line x1="643.39" y1="551.3" x2="643.39" y2="562.10"/>
<line x1="643.39" y1="16.3" x2="643.39" y2="27.10"/>
<line x1="686.65" y1="551.3" x2="686.65" y2="556.90"/>
<line x1="686.65" y1="16.3" x2="686.65" y2="21.90"/>
<line x1="729.90" y1="551.3" x2="729.90" y2="556.90"/>
<line x1="729.90" y1="16.3" x2="729.90" y2="21.90"/>
</g>
<g clip-path="url(#cb)">
<line x1="1097.94" y1="500.51" x2="1748.50" y2="500.51" stroke="#c9c9c9" stroke-width="1.9" stroke-dasharray="8.680 8.680"/>
<line x1="1097.94" y1="456.42" x2="1748.50" y2="456.42" stroke="#c9c9c9" stroke-width="1.9" stroke-dasharray="8.680 8.680"/>
<line x1="1097.94" y1="412.32" x2="1748.50" y2="412.32" stroke="#c9c9c9" stroke-width="1.9" stroke-dasharray="8.680 8.680"/>
<line x1="1099.8" y1="368.23" x2="1749.8" y2="368.23" stroke="#8c8c8c" stroke-width="2.0"/>
<line x1="1097.94" y1="324.14" x2="1748.50" y2="324.14" stroke="#c9c9c9" stroke-width="1.9" stroke-dasharray="8.680 8.680"/>
<line x1="1097.94" y1="280.04" x2="1748.50" y2="280.04" stroke="#c9c9c9" stroke-width="1.9" stroke-dasharray="8.680 8.680"/>
<line x1="1097.94" y1="235.95" x2="1748.50" y2="235.95" stroke="#c9c9c9" stroke-width="1.9" stroke-dasharray="8.680 8.680"/>
<line x1="1099.8" y1="191.86" x2="1749.8" y2="191.86" stroke="#8c8c8c" stroke-width="2.0"/>
<line x1="1097.94" y1="147.77" x2="1748.50" y2="147.77" stroke="#c9c9c9" stroke-width="1.9" stroke-dasharray="8.680 8.680"/>
<line x1="1097.94" y1="103.68" x2="1748.50" y2="103.68" stroke="#c9c9c9" stroke-width="1.9" stroke-dasharray="8.680 8.680"/>
<line x1="1097.94" y1="59.58" x2="1748.50" y2="59.58" stroke="#c9c9c9" stroke-width="1.9" stroke-dasharray="8.680 8.680"/>
</g>
<g fill="none" stroke-linejoin="round" stroke-linecap="round">
<polyline points="1116.5,345.9 1116.5,346.4 1116.5,346.9 1116.5,347.4 1116.5,348.1 1116.5,348.6 1116.5,349.0 1116.5,349.5 1116.5,349.8 1116.6,350.3 1116.6,351.3 1116.6,351.8 1116.6,351.9 1116.6,352.4 1116.6,352.9 1116.6,353.4 1116.6,354.1 1117.1,354.3 1117.6,354.2 1118.1,354.3 1118.5,355.0 1119.0,355.2 1119.5,355.0 1120.0,355.2 1120.5,355.9 1121.0,355.9 1121.6,354.4 1122.1,354.2 1122.6,356.4 1123.1,356.4 1123.6,354.6 1124.1,354.6 1124.7,352.8 1125.2,352.8 1125.7,354.6 1126.1,354.6 1126.6,354.6 1127.0,354.6 1127.4,352.8 1127.9,352.8 1128.3,354.6 1128.7,354.6 1129.2,352.8 1129.6,352.8 1130.0,352.8 1130.5,352.8 1130.9,351.0 1131.3,351.0 1131.7,351.0 1132.1,351.0 1132.5,351.0 1132.9,351.0 1133.3,351.0 1133.7,351.0 1134.1,349.2 1134.5,347.4 1134.9,352.8 1135.3,349.2 1135.7,349.2 1136.1,347.4 1136.5,347.4 1136.8,347.4 1137.2,345.6 1137.5,345.6 1137.9,342.0 1138.2,343.8 1138.6,345.6 1138.9,345.6 1139.3,342.0 1139.6,342.0 1140.0,340.2 1140.3,340.2 1140.7,343.8 1141.0,343.8 1141.4,342.0 1141.7,340.2 1142.1,342.0 1142.4,338.4 1142.8,340.2 1143.1,338.4 1143.5,340.2 1143.8,340.2 1144.2,338.4 1144.5,338.4 1144.9,336.6 1145.2,336.6 1145.6,334.8 1145.9,334.8 1146.3,336.6 1146.6,336.6 1147.0,334.8 1147.4,334.8 1147.9,334.8 1148.3,334.8 1148.7,333.0 1149.2,333.0 1149.6,333.0 1150.0,333.0 1150.5,333.0 1151.0,333.0 1151.4,333.0 1151.9,331.2 1152.4,331.2 1152.8,331.2 1153.3,331.2 1153.8,331.2 1154.3,331.2 1154.8,331.2 1155.2,331.2 1155.7,333.0 1156.2,334.8 1156.7,333.0 1157.2,331.2 1157.7,329.4 1158.2,331.2 1158.7,331.2 1159.3,331.2 1159.8,331.2 1160.3,329.4 1160.8,329.4 1161.3,327.6 1161.8,327.6 1162.3,329.4 1162.8,329.4 1163.2,329.4 1163.7,329.4 1164.1,329.4 1164.6,329.4 1165.1,329.4 1165.5,329.4 1166.0,329.4 1166.5,329.4 1166.9,327.6 1167.4,327.6 1167.8,325.8 1168.3,325.8 1168.8,324.0 1169.2,324.0 1169.7,325.8 1170.2,325.8 1170.6,325.8 1171.1,325.8 1171.5,325.8 1172.0,325.8 1172.5,324.0 1172.9,324.0 1173.4,325.8 1173.9,325.8 1174.3,322.2 1174.8,322.2 1175.2,324.0 1175.7,324.0 1176.2,324.0 1176.6,324.0 1177.1,322.2 1177.6,322.2 1178.0,322.2 1178.5,322.2 1179.0,320.4 1179.4,320.4 1179.9,322.2 1180.3,320.4 1180.8,322.2 1181.3,320.4 1181.8,320.4 1182.3,320.4 1182.8,320.4 1183.4,320.4 1183.9,322.2 1184.4,322.2 1184.9,322.2 1185.4,322.2 1185.9,320.4 1186.4,320.4 1186.9,320.4 1187.5,320.4 1188.0,320.4 1188.5,320.4 1189.0,320.4 1189.5,320.4 1190.0,320.4 1190.5,320.4 1191.0,318.6 1191.6,318.6 1192.1,318.6 1192.6,318.6 1193.1,318.6 1193.6,318.6 1194.1,320.4 1194.6,320.4 1195.1,320.4 1195.7,318.6 1196.2,322.2 1196.7,322.2 1197.2,318.6 1197.7,316.8 1198.2,318.6 1198.7,318.6 1199.2,318.6 1199.8,318.6 1200.3,318.6 1200.8,318.6 1201.3,318.6 1201.8,318.6 1202.3,318.6 1202.8,318.6 1203.4,318.6 1203.9,318.6 1204.4,316.8 1204.9,316.8 1205.4,318.6 1205.9,318.6 1206.4,315.0 1206.9,316.8 1207.4,318.6 1207.9,318.6 1208.4,318.6 1208.8,318.6 1209.3,318.6 1209.8,318.6 1210.3,316.8 1210.8,316.8 1211.3,318.6 1211.8,318.6 1212.3,316.8 1212.8,316.8 1213.3,316.8 1213.8,316.8 1214.3,316.8 1214.7,316.8 1215.2,316.8 1215.7,316.8 1216.2,316.8 1216.7,315.0 1217.2,315.0 1217.7,315.0 1218.2,315.0 1218.7,318.6 1219.2,315.0 1219.7,318.6 1220.2,315.0 1220.7,315.0 1221.1,315.0 1221.6,315.0 1222.1,315.0 1222.6,315.0 1223.1,315.0 1223.6,315.0 1224.1,313.2 1224.6,313.2 1225.1,311.4 1225.6,311.4 1226.1,313.2 1226.6,313.2 1227.0,313.2 1227.5,313.2 1228.0,311.4 1228.5,311.4 1229.0,311.4 1229.5,311.4 1230.0,311.4 1230.5,309.6 1231.0,315.0 1231.4,313.2 1231.9,311.4 1232.4,311.4 1232.9,306.0 1233.4,309.6 1233.8,311.4 1234.3,311.4 1234.8,311.4 1235.3,311.4 1235.8,309.6 1236.2,309.6 1236.7,309.6 1237.2,309.6 1237.7,309.6 1238.2,306.0 1238.6,307.8 1239.1,307.8 1239.6,309.6 1240.1,309.6 1240.6,307.8 1241.0,307.8 1241.5,307.8 1242.0,307.8 1242.5,307.8 1243.0,306.0 1243.5,309.6 1244.0,309.6 1244.5,307.8 1245.0,307.8 1245.5,307.8 1246.1,307.8 1246.6,304.2 1247.1,307.8 1247.6,306.0 1248.1,306.0 1248.6,304.2 1249.1,306.0 1249.6,306.0 1250.1,309.6 1250.6,306.0 1251.1,306.0 1251.6,307.8 1252.1,307.8 1252.7,306.0 1253.2,306.0 1253.7,306.0 1254.2,307.8 1254.7,306.0 1255.2,306.0 1255.7,306.0 1256.2,306.0 1256.7,306.0 1257.2,306.0 1257.7,304.2 1258.2,304.2 1258.7,307.8 1259.2,307.8 1259.7,306.0 1260.2,302.4 1260.7,304.2 1261.2,304.2 1261.7,304.2 1262.2,304.2 1262.7,304.2 1263.2,304.2 1263.7,304.2 1264.2,304.2 1264.8,304.2 1265.3,304.2 1265.8,304.2 1266.3,304.2 1266.8,306.0 1267.3,302.4 1267.8,302.4 1268.3,302.4 1268.8,302.4 1269.3,302.4 1269.8,302.4 1270.3,302.4 1270.8,302.4 1271.3,304.2 1271.8,304.2 1272.3,302.4 1272.8,304.2 1273.3,304.2 1273.8,304.2 1274.3,304.2 1274.8,304.2 1275.3,304.2 1275.8,302.4 1276.3,302.4 1276.8,304.2 1277.3,304.2 1277.9,302.4 1278.4,302.4 1278.9,300.6 1279.4,300.6 1279.9,300.6 1280.4,300.6 1280.9,304.2 1281.4,302.4 1281.9,300.6 1282.4,300.6 1282.9,302.4 1283.4,300.6 1283.9,302.4 1284.4,302.4 1284.9,300.6 1285.4,300.6 1285.9,300.6 1286.4,300.6 1286.9,302.4 1287.4,302.4 1287.9,300.6 1288.4,300.6 1289.0,300.6 1289.5,300.6 1290.0,300.6 1290.5,300.6 1291.0,298.8 1291.5,300.6 1292.0,300.6 1292.5,300.6 1293.0,300.6 1293.5,300.6 1294.0,300.6 1294.5,300.6 1295.0,304.2 1295.5,298.8 1296.0,300.6 1296.5,300.6 1297.0,298.8 1297.5,298.8 1298.0,298.8 1298.5,298.8 1299.0,298.8 1299.6,298.8 1300.1,300.6 1300.6,300.6 1301.1,300.6 1301.6,300.6 1302.1,300.6 1302.6,300.6 1303.1,300.6 1303.6,300.6 1304.1,298.8 1304.6,298.8 1305.1,300.6 1305.6,300.6 1306.1,298.8 1306.6,298.8 1307.1,300.6 1307.6,300.6 1308.1,298.8 1308.6,298.8 1309.1,298.8 1309.6,298.8 1310.2,298.8 1310.7,298.8 1311.2,300.6 1311.7,300.6 1312.2,300.6 1312.7,300.6 1313.2,298.8 1313.7,298.8 1314.2,298.8 1314.7,298.8 1315.2,298.8 1315.7,298.8 1316.2,300.6 1316.7,298.8 1317.2,298.8 1317.7,298.8 1318.2,298.8 1318.7,298.8 1319.2,298.8 1319.7,298.8 1320.2,297.0 1320.8,297.0 1321.3,298.8 1321.8,298.8 1322.3,297.0 1322.8,297.0 1323.3,298.8 1323.8,298.8 1324.3,298.8 1324.8,298.8 1325.3,298.8 1325.8,298.8 1326.3,297.0 1326.8,297.0 1327.3,298.8 1327.8,298.8 1328.3,297.0 1328.8,297.0 1329.3,297.0 1329.8,297.0 1330.3,297.0 1330.8,297.0 1331.3,297.0 1331.9,298.8 1332.4,297.0 1332.9,297.0 1333.4,298.8 1333.9,298.8 1334.4,298.8 1334.9,298.8 1335.4,297.0 1335.9,297.0 1336.4,297.0 1336.9,297.0 1337.4,297.0 1337.9,297.0 1338.4,295.2 1338.9,297.0 1339.4,298.8 1339.9,297.0 1340.4,298.8 1340.9,298.8 1341.4,297.0 1341.9,297.0 1342.5,298.8 1343.0,298.8 1343.5,297.0 1344.0,297.0 1344.5,297.0 1345.0,297.0 1345.5,298.8 1346.0,298.8 1346.5,298.8 1347.0,298.8 1347.5,300.6 1348.0,297.0 1348.5,297.0 1349.0,297.0 1349.5,298.8 1350.0,298.8 1350.5,297.0 1351.0,297.0 1351.5,298.8 1352.0,298.8 1352.5,297.0 1353.1,297.0 1353.6,295.2 1354.1,295.2 1354.6,297.0 1355.1,297.0 1355.6,297.0 1356.1,297.0 1356.6,295.2 1357.1,295.2 1357.6,297.0 1358.1,297.0 1358.6,295.2 1359.1,295.2 1359.6,297.0 1360.1,298.8 1360.6,295.2 1361.1,295.2 1361.6,302.4 1362.1,297.0 1362.6,298.8 1363.1,297.0 1363.6,295.2 1364.2,298.8 1364.7,300.6 1365.2,295.2 1365.7,295.2 1366.2,295.2 1366.7,297.0 1367.2,295.2 1367.7,297.0 1368.2,297.0 1368.7,295.2 1369.2,295.2 1369.7,295.2 1370.2,295.2 1370.7,295.2 1371.2,295.2 1371.7,295.2 1372.2,295.2 1372.7,295.2 1373.2,295.2 1373.7,295.2 1374.2,291.6 1374.8,295.2 1375.3,295.2 1375.8,295.2 1376.3,295.2 1376.8,295.2 1377.3,295.2 1377.8,295.2 1378.3,295.2 1378.8,295.2 1379.3,295.2 1379.8,297.0 1380.3,297.0 1380.8,289.8 1381.3,293.4 1381.8,293.4 1382.3,293.4 1382.8,293.4 1383.3,293.4 1383.8,293.4 1384.3,293.4 1384.8,293.4 1385.3,293.4 1385.9,295.2 1386.4,295.2 1386.9,295.2 1387.4,295.2 1387.9,293.4 1388.4,293.4 1388.9,297.0 1389.4,297.0 1389.9,293.4 1390.4,293.4 1390.9,295.2 1391.4,295.2 1391.9,293.4 1392.4,293.4 1392.9,293.4 1393.4,293.4 1393.9,293.4 1394.4,293.4 1394.9,293.4 1395.4,291.6 1395.9,295.2 1396.5,295.2 1397.0,293.4 1397.5,293.4 1398.0,293.4 1398.5,293.4 1399.0,293.4 1399.5,293.4 1400.0,293.4 1400.5,293.4 1401.0,295.2 1401.5,295.2 1402.0,291.6 1402.5,291.6 1403.0,293.4 1403.5,289.8 1404.0,295.2 1404.5,293.4 1405.0,293.4 1405.5,291.6 1406.1,293.4 1406.6,293.4 1407.1,293.4 1407.6,293.4 1408.1,291.6 1408.6,291.6 1409.1,293.4 1409.6,293.4 1410.1,291.6 1410.6,291.6 1411.1,291.6 1411.6,291.6 1412.1,289.8 1412.6,289.8 1413.1,291.6 1413.7,291.6 1414.2,293.4 1414.7,293.4 1415.2,291.6 1415.7,291.6 1416.2,291.6 1416.7,291.6 1417.2,293.4 1417.7,293.4 1418.2,293.4 1418.7,293.4 1419.2,293.4 1419.7,291.6 1420.2,291.6 1420.7,291.6 1421.2,289.8 1421.8,289.8 1422.3,293.4 1422.8,293.4 1423.3,293.4 1423.8,293.4 1424.3,289.8 1424.8,289.8 1425.3,291.6 1425.8,291.6 1426.3,293.4 1426.8,293.4 1427.3,291.6 1427.8,291.6 1428.3,291.6 1428.8,291.6 1429.3,295.2 1429.9,291.6 1430.4,291.6 1430.9,291.6 1431.4,291.6 1431.9,291.6 1432.4,293.4 1432.9,293.4 1433.4,289.8 1433.9,289.8 1434.4,289.8 1434.9,289.8 1435.4,289.8 1435.9,289.8 1436.4,289.8 1436.9,289.8 1437.4,291.6 1437.9,291.6 1438.4,291.6 1439.0,291.6 1439.5,291.6 1440.0,291.6 1440.5,289.8 1441.0,289.8 1441.5,289.8 1442.0,291.6 1442.5,291.6 1443.0,291.6 1443.5,291.6 1444.0,291.6 1444.5,291.6 1445.0,291.6 1445.5,291.6 1446.0,291.6 1446.5,289.8 1447.0,289.8 1447.5,289.8 1448.1,289.8 1448.6,289.8 1449.1,289.8 1449.6,289.8 1450.1,289.8 1450.6,291.6 1451.1,291.6 1451.6,289.8 1452.1,289.8 1452.6,289.8 1453.1,289.8 1453.6,289.8 1454.1,291.6 1454.6,291.6 1455.1,291.6 1455.6,291.6 1456.1,291.6 1456.6,289.8 1457.2,289.8 1457.7,291.6 1458.2,291.6 1458.7,291.6 1459.2,291.6 1459.7,291.6 1460.2,291.6 1460.7,289.8 1461.2,289.8 1461.7,291.6 1462.2,291.6 1462.7,289.8 1463.2,289.8 1463.7,289.8 1464.2,289.8 1464.7,291.6 1465.2,291.6 1465.7,289.8 1466.3,289.8 1466.8,289.8 1467.3,289.8 1467.8,289.8 1468.3,289.8 1468.8,289.8 1469.3,289.8 1469.8,291.6 1470.3,291.6 1470.8,289.8 1471.3,289.8 1471.8,288.0 1472.3,288.0 1472.8,291.6 1473.3,291.6 1473.8,291.6 1474.3,291.6 1474.8,289.8 1475.3,289.8 1475.8,289.8 1476.3,289.8 1476.8,289.8 1477.3,289.8 1477.8,288.0 1478.3,288.0 1478.9,288.0 1479.4,288.0 1479.9,289.8 1480.4,289.8 1480.9,289.8 1481.4,289.8 1481.9,288.0 1482.4,288.0 1482.9,288.0 1483.4,288.0 1483.9,289.8 1484.4,289.8 1484.9,288.0 1485.4,288.0 1485.9,291.6 1486.4,291.6 1486.9,288.0 1487.4,289.8 1487.9,289.8 1488.4,289.8 1488.9,289.8 1489.4,289.8 1489.9,289.8 1490.4,289.8 1490.9,289.8 1491.4,289.8 1491.9,289.8 1492.4,289.8 1492.9,288.0 1493.4,288.0 1494.0,288.0 1494.5,288.0 1495.0,291.6 1495.5,291.6 1496.0,289.8 1496.5,289.8 1497.0,289.8 1497.5,289.8 1498.0,288.0 1498.5,288.0 1499.0,288.0 1499.5,288.0 1500.0,289.8 1500.5,289.8 1501.0,289.8 1501.5,289.8 1502.0,286.2 1502.5,288.0 1503.0,289.8 1503.5,289.8 1504.0,288.0 1504.5,288.0 1505.0,291.6 1505.5,288.0 1506.0,289.8 1506.5,289.8 1507.1,288.0 1507.6,288.0 1508.1,289.8 1508.6,289.8 1509.1,288.0 1509.6,288.0 1510.1,289.8 1510.6,289.8 1511.1,288.0 1511.6,288.0 1512.1,288.0 1512.6,288.0 1513.1,289.8 1513.6,289.8 1514.1,288.0 1514.6,288.0 1515.1,288.0 1515.6,288.0 1516.1,288.0 1516.6,288.0 1517.2,288.0 1517.7,291.6 1518.2,286.2 1518.7,286.2 1519.2,286.2 1519.7,286.2 1520.2,288.0 1520.7,288.0 1521.2,288.0 1521.7,289.8 1522.2,289.8 1522.7,289.8 1523.2,288.0 1523.7,288.0 1524.2,288.0 1524.7,288.0 1525.2,288.0 1525.7,288.0 1526.2,288.0 1526.7,288.0 1527.3,286.2 1527.8,288.0 1528.3,288.0 1528.8,288.0 1529.3,288.0 1529.8,288.0 1530.3,289.8 1530.8,289.8 1531.3,286.2 1531.8,289.8 1532.3,288.0 1532.8,288.0 1533.3,288.0 1533.8,288.0 1534.3,288.0 1534.8,288.0 1535.3,288.0 1535.8,288.0 1536.3,288.0 1536.8,288.0 1537.3,286.2 1537.9,286.2 1538.4,289.8 1538.9,289.8 1539.4,288.0 1539.9,288.0 1540.4,288.0 1540.9,288.0 1541.4,288.0 1541.9,288.0 1542.4,286.2 1542.9,286.2 1543.4,288.0 1543.9,288.0 1544.4,286.2 1544.9,286.2 1545.4,288.0 1545.9,288.0 1546.4,286.2 1546.9,286.2 1547.4,289.8 1548.0,289.8 1548.5,286.2 1549.0,286.2 1549.5,288.0 1550.0,288.0 1550.5,286.2 1551.0,282.6 1551.5,286.2 1552.0,286.2 1552.5,286.2 1553.0,286.2 1553.5,286.2 1554.0,288.0 1554.5,288.0 1555.0,288.0 1555.5,286.2 1556.0,286.2 1556.5,286.2 1557.0,286.2 1557.5,286.2 1558.1,286.2 1558.6,286.2 1559.1,286.2 1559.6,288.0 1560.1,288.0 1560.6,288.0 1561.1,288.0 1561.6,286.2 1562.1,286.2 1562.6,286.2 1563.1,286.2 1563.6,288.0 1564.1,288.0 1564.6,286.2 1565.1,286.2 1565.6,288.0 1566.1,288.0 1566.6,286.2 1567.1,282.6 1567.6,288.0 1568.1,288.0 1568.6,286.2 1569.1,286.2 1569.6,288.0 1570.1,288.0 1570.6,286.2 1571.2,286.2 1571.7,289.8 1572.2,289.8 1572.7,284.4 1573.2,284.4 1573.7,284.4 1574.2,286.2 1574.7,286.2 1575.2,286.2 1575.7,286.2 1576.2,286.2 1576.7,284.4 1577.2,284.4 1577.7,288.0 1578.2,288.0 1578.7,286.2 1579.2,286.2 1579.7,288.0 1580.2,288.0 1580.7,286.2 1581.2,286.2 1581.7,284.4 1582.2,284.4 1582.7,286.2 1583.2,286.2 1583.7,284.4 1584.2,284.4 1584.7,286.2 1585.2,286.2 1585.7,284.4 1586.3,284.4 1586.8,286.2 1587.3,286.2 1587.8,284.4 1588.3,284.4 1588.8,286.2 1589.3,286.2 1589.8,286.2 1590.3,286.2 1590.8,286.2 1591.3,286.2 1591.8,284.4 1592.3,280.8 1592.8,286.2 1593.3,286.2 1593.8,286.2 1594.3,286.2 1594.8,286.2 1595.3,286.2 1595.8,286.2 1596.3,286.2 1596.8,286.2 1597.3,288.0 1597.8,284.4 1598.3,284.4 1598.8,288.0 1599.3,288.0 1599.8,288.0 1600.3,289.8 1600.8,284.4 1601.3,284.4 1601.8,286.2 1602.3,286.2 1602.8,286.2 1603.3,286.2 1603.8,284.4 1604.3,284.4 1604.8,286.2 1605.3,286.2 1605.8,284.4 1606.3,284.4 1606.8,284.4 1607.3,282.6 1607.8,282.6 1608.3,286.2 1608.8,286.2 1609.3,286.2 1609.8,286.2 1610.3,286.2 1610.8,282.6 1611.3,282.6 1611.8,282.6 1612.3,284.4 1612.8,284.4 1613.3,284.4 1613.8,286.2 1614.3,286.2 1614.8,284.4 1615.3,284.4 1615.8,286.2 1616.3,286.2 1616.8,284.4 1617.3,284.4 1617.8,284.4 1618.3,284.4 1618.8,284.4 1619.3,284.4 1619.8,284.4 1620.3,284.4 1620.8,282.6 1621.3,282.6 1621.8,284.4 1622.3,284.4 1622.8,286.2 1623.3,286.2 1623.8,284.4 1624.3,284.4 1624.8,284.4 1625.3,284.4 1625.8,284.4 1626.3,284.4 1626.8,284.4 1627.3,286.2 1627.8,284.4 1628.3,284.4 1628.8,284.4 1629.3,284.4 1629.8,284.4 1630.3,284.4 1630.8,286.2 1631.3,286.2 1631.8,284.4 1632.3,284.4 1632.8,284.4 1633.3,284.4 1633.8,284.4 1634.3,284.4 1634.8,284.4 1635.3,284.4 1635.8,286.2 1636.3,286.2 1636.8,284.4 1637.3,284.4 1637.8,282.6 1638.3,282.6 1638.8,284.4 1639.4,284.4 1639.9,284.4 1640.4,284.4 1640.9,284.4 1641.4,284.4 1641.9,284.4 1642.4,284.4 1642.9,284.4 1643.4,286.2 1643.9,284.4 1644.4,284.4 1644.9,282.6 1645.4,282.6 1645.9,284.4 1646.4,284.4 1646.9,282.6 1647.4,282.6 1647.9,282.6 1648.4,282.6 1648.9,282.6 1649.5,282.6 1650.0,282.6 1650.5,282.6 1651.0,284.4 1651.5,284.4 1652.0,282.6 1652.5,282.6 1653.0,282.6 1653.5,282.6 1654.0,284.4 1654.5,284.4 1655.0,282.6 1655.5,284.4 1656.0,284.4 1656.5,284.4 1657.0,286.2 1657.5,286.2 1658.0,282.6 1658.5,282.6 1659.0,282.6 1659.6,282.6 1660.1,282.6 1660.6,282.6 1661.1,284.4 1661.6,284.4 1662.1,284.4 1662.6,284.4 1663.1,282.6 1663.6,282.6 1664.1,284.4 1664.6,284.4" stroke="#231f20" stroke-width="2.8"/>
<polyline points="1116.5,402.3 1116.5,401.8 1116.5,401.4 1116.5,400.9 1116.5,400.3 1116.5,399.8 1116.5,399.2 1116.5,398.7 1116.5,398.2 1116.5,397.7 1116.5,397.4 1116.5,396.9 1116.6,396.3 1116.6,395.7 1116.6,395.2 1116.6,394.7 1116.6,394.1 1116.6,393.5 1116.6,393.2 1116.6,392.7 1116.6,391.9 1116.6,391.4 1116.6,391.0 1116.6,390.4 1116.7,390.2 1116.8,389.7 1116.9,389.2 1117.0,388.7 1117.1,388.2 1117.2,387.7 1117.4,387.3 1117.5,386.8 1117.6,386.1 1117.7,385.6 1117.8,385.2 1117.9,384.7 1118.0,384.6 1118.1,383.8 1118.2,383.3 1118.3,382.8 1118.4,382.3 1118.5,381.8 1118.7,381.3 1118.8,380.8 1118.9,379.7 1119.0,379.2 1119.1,379.2 1119.2,378.7 1119.4,378.1 1119.7,377.6 1119.9,376.9 1120.1,376.4 1120.4,376.7 1120.6,376.2 1120.9,376.3 1121.1,375.8 1121.3,373.8 1121.6,373.3 1121.8,373.3 1122.1,372.9 1122.5,372.0 1122.8,372.0 1123.1,371.0 1123.4,371.0 1123.8,370.0 1124.1,369.0 1124.4,370.0 1124.7,370.0 1125.0,369.0 1125.4,369.0 1125.7,369.0 1126.0,368.0 1126.3,367.0 1126.7,367.0 1127.0,367.0 1127.3,366.0 1127.6,365.0 1127.9,365.0 1128.2,366.0 1128.4,366.0 1128.7,365.0 1129.0,364.0 1129.3,362.0 1129.6,361.0 1129.9,362.0 1130.2,362.0 1130.5,362.0 1130.8,361.0 1131.0,362.0 1131.3,361.0 1131.6,359.0 1131.9,358.0 1132.2,360.0 1132.5,359.0 1132.8,359.0 1133.1,359.0 1133.4,358.0 1133.7,358.0 1134.0,356.0 1134.3,356.0 1134.6,356.0 1134.9,356.0 1135.2,354.0 1135.5,354.0 1135.8,355.0 1136.1,354.0 1136.4,354.0 1136.7,354.0 1137.0,354.0 1137.3,354.0 1137.6,352.0 1137.9,351.0 1138.2,350.0 1138.5,350.0 1138.8,349.0 1139.1,348.0 1139.5,349.0 1139.8,349.0 1140.1,349.0 1140.4,349.0 1140.8,348.0 1141.1,348.0 1141.4,347.0 1141.7,346.0 1142.0,346.0 1142.4,346.0 1142.7,344.0 1143.0,344.0 1143.3,344.0 1143.7,344.0 1144.0,344.0 1144.4,344.0 1144.9,343.0 1145.3,343.0 1145.7,342.0 1146.1,341.0 1146.6,342.0 1147.0,342.0 1147.4,342.0 1147.9,342.0 1148.3,341.0 1148.7,341.0 1149.1,341.0 1149.6,340.0 1150.0,339.0 1150.5,339.0 1150.9,338.0 1151.4,338.0 1151.9,340.0 1152.3,340.0 1152.8,336.0 1153.3,336.0 1153.7,338.0 1154.2,337.0 1154.7,339.0 1155.1,339.0 1155.6,338.0 1156.1,337.0 1156.5,337.0 1157.0,337.0 1157.5,335.0 1158.0,335.0 1158.4,335.0 1158.9,335.0 1159.4,334.0 1159.9,334.0 1160.4,335.0 1160.8,335.0 1161.3,334.0 1161.8,334.0 1162.3,334.0 1162.8,334.0 1163.2,333.0 1163.7,333.0 1164.2,335.0 1164.7,334.0 1165.2,333.0 1165.6,332.0 1166.1,333.0 1166.6,333.0 1167.1,333.0 1167.5,333.0 1168.0,332.0 1168.5,332.0 1169.0,332.0 1169.4,332.0 1169.9,331.0 1170.3,332.0 1170.8,333.0 1171.3,332.0 1171.7,332.0 1172.2,332.0 1172.6,331.0 1173.1,331.0 1173.6,330.0 1174.0,330.0 1174.5,329.0 1174.9,330.0 1175.4,328.0 1175.9,328.0 1176.3,330.0 1176.8,329.0 1177.2,328.0 1177.7,327.0 1178.2,326.0 1178.6,327.0 1179.1,328.0 1179.5,328.0 1180.0,327.0 1180.5,326.0 1180.9,326.0 1181.4,326.0 1181.8,327.0 1182.3,327.0 1182.8,326.0 1183.2,325.0 1183.7,326.0 1184.1,326.0 1184.6,324.0 1185.1,324.0 1185.5,325.0 1186.0,325.0 1186.4,323.0 1186.9,323.0 1187.3,323.0 1187.8,324.0 1188.2,321.0 1188.6,323.0 1189.1,322.0 1189.5,322.0 1190.0,322.0 1190.4,324.0 1190.8,321.0 1191.3,320.0 1191.7,322.0 1192.1,322.0 1192.6,320.0 1193.0,320.0 1193.4,320.0 1193.8,320.0 1194.2,318.0 1194.5,318.0 1194.9,319.0 1195.3,318.0 1195.7,318.0 1196.1,318.0 1196.5,318.0 1196.9,318.0 1197.3,317.0 1197.7,316.0 1198.0,315.0 1198.4,314.0 1198.8,315.0 1199.2,315.0 1199.7,314.0 1200.1,314.0 1200.6,313.0 1201.1,313.0 1201.6,313.0 1202.0,313.0 1202.5,314.0 1203.0,314.0 1203.5,314.0 1203.9,313.0 1204.4,312.0 1204.9,312.0 1205.3,311.0 1205.8,310.0 1206.3,312.0 1206.8,312.0 1207.2,312.0 1207.7,311.0 1208.2,311.0 1208.7,311.0 1209.1,310.0 1209.6,310.0 1210.1,310.0 1210.6,310.0 1211.0,310.0 1211.5,310.0 1212.0,309.0 1212.5,309.0 1213.0,309.0 1213.5,309.0 1214.0,311.0 1214.5,311.0 1215.0,308.0 1215.5,308.0 1216.0,310.0 1216.5,310.0 1217.0,308.0 1217.5,308.0 1218.0,309.0 1218.5,308.0 1219.0,308.0 1219.5,308.0 1220.0,309.0 1220.5,309.0 1221.0,311.0 1221.5,310.0 1222.0,308.0 1222.5,308.0 1223.0,308.0 1223.5,308.0 1224.0,308.0 1224.5,308.0 1225.0,307.0 1225.5,307.0 1226.0,307.0 1226.5,307.0 1227.0,308.0 1227.5,308.0 1228.0,307.0 1228.5,307.0 1229.0,308.0 1229.5,308.0 1230.0,308.0 1230.5,308.0 1231.0,307.0 1231.4,307.0 1231.9,307.0 1232.4,307.0 1232.9,305.0 1233.4,305.0 1233.8,306.0 1234.3,306.0 1234.8,305.0 1235.3,305.0 1235.8,305.0 1236.2,304.0 1236.7,304.0 1237.2,304.0 1237.7,304.0 1238.2,303.0 1238.6,305.0 1239.1,305.0 1239.6,303.0 1240.1,303.0 1240.6,303.0 1241.0,301.0 1241.5,303.0 1242.0,301.0 1242.5,304.0 1242.9,303.0 1243.4,301.0 1243.9,301.0 1244.4,300.0 1244.8,300.0 1245.3,301.0 1245.8,301.0 1246.3,301.0 1246.7,301.0 1247.2,299.0 1247.7,299.0 1248.2,300.0 1248.6,300.0 1249.1,298.0 1249.6,299.0 1250.0,299.0 1250.5,299.0 1251.0,299.0 1251.5,299.0 1251.9,298.0 1252.4,298.0 1252.9,298.0 1253.4,298.0 1253.8,297.0 1254.3,297.0 1254.8,297.0 1255.3,297.0 1255.7,297.0 1256.2,297.0 1256.7,297.0 1257.2,297.0 1257.7,296.0 1258.2,296.0 1258.6,296.0 1259.1,296.0 1259.6,296.0 1260.1,296.0 1260.6,296.0 1261.1,295.0 1261.6,295.0 1262.1,295.0 1262.5,294.0 1263.0,294.0 1263.5,295.0 1264.0,294.0 1264.5,293.0 1265.0,293.0 1265.5,292.0 1266.0,294.0 1266.4,293.0 1266.9,293.0 1267.4,294.0 1267.9,293.0 1268.4,293.0 1268.9,293.0 1269.4,293.0 1269.9,292.0 1270.3,292.0 1270.8,292.0 1271.3,292.0 1271.8,292.0 1272.3,292.0 1272.8,292.0 1273.3,291.0 1273.8,291.0 1274.3,289.0 1274.8,289.0 1275.3,291.0 1275.8,291.0 1276.3,291.0 1276.8,291.0 1277.3,290.0 1277.8,290.0 1278.3,289.0 1278.8,289.0 1279.3,291.0 1279.8,291.0 1280.3,290.0 1280.7,290.0 1281.2,290.0 1281.7,290.0 1282.2,290.0 1282.7,290.0 1283.2,291.0 1283.7,291.0 1284.2,290.0 1284.7,290.0 1285.2,288.0 1285.7,288.0 1286.2,289.0 1286.7,289.0 1287.2,288.0 1287.7,288.0 1288.2,288.0 1288.7,288.0 1289.2,288.0 1289.7,288.0 1290.2,288.0 1290.7,288.0 1291.2,288.0 1291.7,287.0 1292.2,287.0 1292.7,287.0 1293.2,287.0 1293.7,287.0 1294.2,287.0 1294.7,287.0 1295.2,288.0 1295.7,288.0 1296.2,286.0 1296.6,286.0 1297.1,287.0 1297.6,287.0 1298.1,289.0 1298.6,289.0 1299.1,287.0 1299.6,287.0 1300.1,286.0 1300.6,286.0 1301.1,284.0 1301.6,284.0 1302.1,285.0 1302.6,285.0 1303.1,286.0 1303.6,286.0 1304.1,286.0 1304.6,286.0 1305.1,285.0 1305.6,285.0 1306.1,285.0 1306.6,284.0 1307.1,286.0 1307.6,286.0 1308.1,285.0 1308.6,285.0 1309.1,285.0 1309.6,285.0 1310.2,285.0 1310.7,285.0 1311.2,285.0 1311.7,285.0 1312.2,285.0 1312.7,285.0 1313.2,285.0 1313.7,285.0 1314.2,284.0 1314.7,284.0 1315.2,283.0 1315.7,283.0 1316.2,284.0 1316.7,283.0 1317.2,284.0 1317.7,284.0 1318.2,284.0 1318.7,284.0 1319.2,284.0 1319.7,284.0 1320.2,284.0 1320.8,284.0 1321.3,283.0 1321.8,283.0 1322.3,284.0 1322.8,284.0 1323.3,282.0 1323.8,282.0 1324.3,284.0 1324.8,284.0 1325.3,284.0 1325.8,284.0 1326.3,283.0 1326.8,283.0 1327.3,283.0 1327.8,283.0 1328.3,282.0 1328.8,282.0 1329.3,283.0 1329.8,283.0 1330.3,283.0 1330.8,282.0 1331.3,282.0 1331.9,281.0 1332.4,283.0 1332.9,283.0 1333.4,283.0 1333.9,283.0 1334.4,282.0 1334.9,282.0 1335.4,283.0 1335.9,283.0 1336.4,281.0 1336.9,281.0 1337.4,282.0 1337.9,282.0 1338.4,280.0 1338.9,280.0 1339.4,282.0 1339.9,281.0 1340.4,281.0 1340.9,281.0 1341.4,281.0 1341.9,281.0 1342.5,282.0 1343.0,282.0 1343.5,280.0 1344.0,280.0 1344.5,282.0 1345.0,282.0 1345.5,278.0 1346.0,280.0 1346.5,280.0 1347.0,280.0 1347.5,280.0 1348.0,280.0 1348.5,281.0 1349.0,281.0 1349.5,280.0 1350.0,280.0 1350.5,281.0 1351.0,281.0 1351.5,280.0 1352.0,280.0 1352.5,279.0 1353.1,279.0 1353.6,280.0 1354.1,280.0 1354.6,281.0 1355.1,281.0 1355.6,280.0 1356.1,280.0 1356.6,279.0 1357.1,278.0 1357.6,281.0 1358.1,281.0 1358.6,280.0 1359.1,280.0 1359.6,279.0 1360.1,279.0 1360.6,281.0 1361.1,281.0 1361.6,280.0 1362.1,280.0 1362.6,280.0 1363.1,280.0 1363.6,278.0 1364.2,278.0 1364.7,278.0 1365.2,278.0 1365.7,278.0 1366.2,278.0 1366.7,280.0 1367.2,279.0 1367.7,278.0 1368.2,277.0 1368.7,279.0 1369.2,279.0 1369.7,278.0 1370.2,278.0 1370.7,279.0 1371.2,279.0 1371.7,278.0 1372.2,280.0 1372.7,279.0 1373.2,279.0 1373.7,279.0 1374.2,279.0 1374.8,277.0 1375.3,277.0 1375.8,278.0 1376.3,278.0 1376.8,277.0 1377.3,277.0 1377.8,278.0 1378.3,278.0 1378.8,278.0 1379.3,278.0 1379.8,276.0 1380.3,276.0 1380.8,279.0 1381.3,279.0 1381.8,277.0 1382.3,277.0 1382.8,276.0 1383.3,276.0 1383.8,277.0 1384.3,277.0 1384.8,277.0 1385.3,277.0 1385.9,275.0 1386.4,275.0 1386.9,275.0 1387.4,275.0 1387.9,277.0 1388.4,277.0 1388.9,277.0 1389.4,277.0 1389.9,277.0 1390.4,277.0 1390.9,274.0 1391.4,275.0 1391.9,276.0 1392.4,276.0 1392.9,276.0 1393.4,276.0 1393.9,277.0 1394.4,277.0 1394.9,277.0 1395.4,275.0 1395.9,277.0 1396.5,277.0 1397.0,275.0 1397.5,274.0 1398.0,278.0 1398.5,278.0 1399.0,276.0 1399.5,276.0 1400.0,277.0 1400.5,277.0 1401.0,276.0 1401.5,276.0 1402.0,276.0 1402.5,276.0 1403.0,274.0 1403.5,274.0 1404.0,276.0 1404.5,276.0 1405.0,277.0 1405.5,277.0 1406.0,273.0 1406.5,273.0 1407.0,275.0 1407.5,275.0 1408.0,274.0 1408.5,272.0 1409.0,276.0 1409.5,276.0 1410.0,275.0 1410.5,275.0 1411.0,275.0 1411.5,275.0 1412.0,274.0 1412.5,274.0 1413.0,276.0 1413.5,274.0 1414.0,275.0 1414.5,275.0 1415.0,274.0 1415.5,274.0 1416.0,274.0 1416.5,274.0 1417.0,274.0 1417.5,273.0 1418.0,274.0 1418.5,274.0 1419.0,273.0 1419.5,273.0 1420.0,274.0 1420.5,274.0 1421.0,275.0 1421.5,275.0 1422.0,274.0 1422.5,274.0 1423.0,274.0 1423.5,274.0 1424.0,274.0 1424.5,274.0 1425.0,274.0 1425.5,274.0 1426.0,271.0 1426.5,273.0 1427.0,272.0 1427.5,272.0 1428.0,274.0 1428.5,274.0 1429.0,273.0 1429.5,273.0 1430.0,274.0 1430.5,274.0 1431.0,274.0 1431.5,274.0 1432.0,272.0 1432.5,272.0 1433.0,275.0 1433.5,274.0 1434.0,275.0 1434.5,275.0 1435.0,275.0 1435.5,275.0 1436.0,273.0 1436.5,273.0 1437.0,273.0 1437.5,273.0 1438.0,272.0 1438.5,272.0 1439.0,273.0 1439.5,273.0 1440.0,273.0 1440.5,273.0 1441.0,272.0 1441.5,272.0 1442.0,274.0 1442.5,274.0 1443.0,273.0 1443.5,273.0 1444.0,274.0 1444.5,274.0 1445.0,272.0 1445.5,272.0 1446.0,272.0 1446.5,271.0 1447.0,272.0 1447.5,271.0 1447.9,273.0 1448.4,273.0 1448.9,273.0 1449.4,273.0 1449.9,270.0 1450.4,270.0 1450.9,272.0 1451.4,272.0 1451.9,270.0 1452.4,270.0 1452.9,270.0 1453.4,270.0 1453.9,271.0 1454.4,271.0 1454.9,271.0 1455.4,271.0 1455.9,270.0 1456.4,270.0 1456.9,270.0 1457.4,270.0 1457.9,273.0 1458.4,274.0 1458.9,269.0 1459.4,269.0 1459.9,269.0 1460.4,269.0 1460.9,270.0 1461.4,270.0 1461.9,270.0 1462.4,270.0 1462.9,270.0 1463.3,270.0 1463.8,269.0 1464.3,269.0 1464.8,270.0 1465.3,270.0 1465.8,269.0 1466.3,269.0 1466.8,269.0 1467.3,269.0 1467.8,269.0 1468.3,269.0 1468.8,270.0 1469.3,270.0 1469.8,270.0 1470.3,270.0 1470.8,268.0 1471.3,268.0 1471.8,269.0 1472.3,269.0 1472.8,268.0 1473.3,268.0 1473.8,267.0 1474.3,266.0 1474.8,267.0 1475.3,267.0 1475.8,268.0 1476.2,268.0 1476.7,267.0 1477.2,267.0 1477.7,267.0 1478.2,267.0 1478.7,269.0 1479.2,269.0 1479.7,267.0 1480.2,267.0 1480.7,267.0 1481.2,267.0 1481.7,266.0 1482.2,266.0 1482.7,266.0 1483.2,266.0 1483.7,268.0 1484.2,267.0 1484.7,265.0 1485.2,265.0 1485.7,267.0 1486.2,266.0 1486.6,267.0 1487.1,267.0 1487.6,266.0 1488.1,266.0 1488.6,266.0 1489.1,266.0 1489.6,267.0 1490.1,267.0 1490.6,266.0 1491.1,266.0 1491.6,266.0 1492.1,266.0 1492.6,266.0 1493.1,266.0 1493.6,266.0 1494.1,266.0 1494.6,265.0 1495.1,264.0 1495.6,263.0 1496.1,263.0 1496.5,265.0 1497.0,265.0 1497.5,264.0 1498.0,264.0 1498.5,265.0 1499.0,265.0 1499.5,264.0 1500.0,264.0 1500.5,264.0 1501.0,264.0 1501.5,264.0 1502.0,264.0 1502.5,265.0 1503.0,265.0 1503.5,263.0 1504.0,263.0 1504.5,261.0 1505.0,261.0 1505.5,262.0 1506.0,262.0 1506.5,263.0 1507.0,263.0 1507.5,263.0 1508.0,263.0 1508.5,264.0 1509.0,263.0 1509.4,263.0 1509.9,263.0 1510.4,264.0 1510.9,264.0 1511.4,264.0 1511.9,261.0 1512.4,262.0 1512.9,262.0 1513.4,263.0 1513.9,262.0 1514.4,263.0 1514.9,263.0 1515.4,262.0 1515.9,262.0 1516.4,261.0 1516.9,261.0 1517.4,260.0 1517.9,260.0 1518.4,262.0 1518.9,262.0 1519.4,261.0 1519.9,261.0 1520.4,261.0 1520.9,261.0 1521.4,259.0 1521.9,259.0 1522.4,259.0 1522.9,259.0 1523.4,259.0 1523.9,259.0 1524.4,259.0 1524.8,259.0 1525.3,258.0 1525.8,258.0 1526.3,259.0 1526.8,259.0 1527.3,260.0 1527.8,260.0 1528.3,258.0 1528.8,258.0 1529.3,258.0 1529.8,258.0 1530.3,258.0 1530.8,258.0 1531.3,258.0 1531.8,258.0 1532.3,256.0 1532.8,256.0 1533.3,257.0 1533.8,257.0 1534.3,257.0 1534.8,257.0 1535.3,256.0 1535.8,256.0 1536.3,257.0 1536.8,257.0 1537.3,259.0 1537.8,259.0 1538.3,257.0 1538.8,257.0 1539.3,257.0 1539.8,257.0 1540.2,257.0 1540.7,257.0 1541.2,256.0 1541.7,256.0 1542.2,257.0 1542.7,257.0 1543.2,256.0 1543.7,254.0 1544.2,258.0 1544.7,258.0 1545.2,257.0 1545.7,256.0 1546.2,256.0 1546.7,256.0 1547.2,255.0 1547.7,255.0 1548.2,255.0 1548.7,255.0 1549.2,256.0 1549.7,256.0 1550.2,254.0 1550.7,254.0 1551.2,255.0 1551.7,255.0 1552.2,255.0 1552.7,255.0 1553.2,253.0 1553.7,253.0 1554.2,256.0 1554.7,256.0 1555.2,254.0 1555.6,254.0 1556.1,254.0 1556.6,254.0 1557.1,254.0 1557.6,254.0 1558.1,254.0 1558.6,254.0 1559.1,254.0 1559.6,254.0 1560.1,253.0 1560.6,253.0 1561.1,253.0 1561.6,253.0 1562.1,252.0 1562.6,252.0 1563.1,253.0 1563.6,253.0 1564.1,253.0 1564.6,252.0 1565.1,252.0 1565.6,252.0 1566.1,252.0 1566.6,252.0 1567.1,252.0 1567.6,251.0 1568.1,252.0 1568.5,252.0 1569.0,255.0 1569.5,253.0 1570.0,252.0 1570.5,252.0 1571.0,252.0 1571.5,252.0 1572.0,251.0 1572.5,251.0 1573.0,251.0 1573.5,251.0 1574.0,250.0 1574.5,250.0 1575.0,252.0 1575.5,252.0 1576.0,252.0 1576.5,251.0 1577.0,250.0 1577.5,250.0 1578.0,250.0 1578.4,250.0 1578.9,249.0 1579.4,249.0 1579.9,251.0 1580.4,251.0 1580.9,250.0 1581.4,250.0 1581.9,250.0 1582.4,250.0 1582.9,249.0 1583.4,249.0 1583.9,249.0 1584.4,249.0 1584.9,249.0 1585.4,249.0 1585.9,248.0 1586.4,248.0 1586.9,248.0 1587.4,247.0 1587.9,248.0 1588.4,248.0 1588.8,247.0 1589.3,247.0 1589.8,248.0 1590.3,248.0 1590.8,248.0 1591.3,248.0 1591.8,249.0 1592.3,250.0 1592.8,246.0 1593.3,246.0 1593.8,247.0 1594.3,247.0 1594.8,246.0 1595.3,246.0 1595.8,245.0 1596.3,245.0 1596.8,246.0 1597.3,246.0 1597.8,247.0 1598.3,247.0 1598.8,247.0 1599.3,245.0 1599.8,246.0 1600.3,246.0 1600.8,246.0 1601.3,246.0 1601.7,246.0 1602.2,246.0 1602.7,246.0 1603.2,246.0 1603.7,244.0 1604.2,243.0 1604.7,245.0 1605.2,245.0 1605.7,245.0 1606.2,245.0 1606.7,244.0 1607.2,244.0 1607.7,245.0 1608.2,245.0 1608.7,244.0 1609.2,244.0 1609.7,244.0 1610.2,245.0 1610.7,244.0 1611.2,244.0 1611.7,243.0 1612.2,245.0 1612.7,243.0 1613.2,243.0 1613.7,244.0 1614.2,244.0 1614.7,244.0 1615.2,244.0 1615.7,242.0 1616.2,242.0 1616.7,243.0 1617.1,243.0 1617.6,242.0 1618.1,242.0 1618.6,242.0 1619.1,242.0 1619.6,241.0 1620.1,241.0 1620.6,241.0 1621.1,241.0 1621.6,241.0 1622.1,240.0 1622.6,240.0 1623.1,240.0 1623.6,243.0 1624.1,243.0 1624.6,241.0 1625.1,241.0 1625.6,240.0 1626.1,240.0 1626.6,240.0 1627.1,242.0 1627.6,241.0 1628.1,241.0 1628.6,241.0 1629.0,241.0 1629.5,239.0 1630.0,239.0 1630.5,240.0 1631.0,240.0 1631.5,240.0 1632.0,240.0 1632.5,239.0 1633.0,239.0 1633.5,239.0 1634.0,239.0 1634.5,240.0 1635.0,240.0 1635.5,239.0 1636.0,239.0 1636.5,240.0 1636.9,240.0 1637.4,238.0 1637.9,238.0 1638.4,239.0 1638.9,239.0 1639.4,238.0 1639.9,238.0 1640.4,238.0 1640.9,238.0 1641.4,238.0 1641.9,238.0 1642.4,236.0 1642.9,236.0 1643.4,237.0 1643.9,237.0 1644.4,237.0 1644.8,237.0 1645.3,236.0 1645.8,236.0 1646.3,237.0 1646.8,237.0 1647.3,236.0 1647.8,236.0 1648.3,240.0 1648.8,238.0 1649.3,236.0 1649.8,235.0 1650.3,236.0 1650.8,236.0 1651.3,236.0 1651.8,236.0 1652.3,236.0 1652.7,236.0 1653.2,236.0 1653.7,235.0 1654.2,235.0 1654.7,235.0 1655.2,234.0 1655.7,234.0 1656.2,234.0 1656.7,234.0 1657.2,233.0 1657.7,233.0 1658.2,235.0 1658.7,235.0 1659.2,235.0 1659.7,235.0 1660.2,235.0 1660.6,234.0 1661.1,234.0 1661.6,234.0 1662.1,233.0 1662.6,233.0 1663.1,234.0 1663.6,234.0 1664.1,232.0 1664.6,232.0" stroke="#ee1620" stroke-width="2.8"/>
<polyline points="1116.6,391.1 1116.6,390.6 1116.7,389.9 1116.7,389.4 1116.7,389.0 1116.8,388.5 1116.8,388.0 1116.8,387.5 1116.9,386.7 1116.9,386.2 1116.9,386.1 1117.0,385.6 1117.0,385.0 1117.0,384.5 1117.1,383.8 1117.1,383.3 1117.1,382.6 1117.2,382.1 1117.2,382.0 1117.2,381.8 1117.2,380.9 1117.3,380.4 1117.3,379.9 1117.3,379.4 1117.4,378.7 1117.4,378.2 1117.4,377.8 1117.5,377.3 1117.5,377.0 1117.5,376.5 1117.6,376.0 1117.6,375.5 1117.6,374.8 1117.7,374.3 1117.7,374.0 1117.7,373.5 1117.8,373.0 1117.8,372.5 1117.9,372.0 1118.0,371.5 1118.1,370.8 1118.2,370.3 1118.3,369.7 1118.4,369.2 1118.5,369.2 1118.6,368.7 1118.7,368.4 1118.8,368.0 1118.9,366.5 1119.0,366.0 1119.2,366.1 1119.3,365.6 1119.4,364.7 1119.5,364.2 1119.6,363.7 1119.7,363.2 1119.8,362.7 1119.9,362.2 1120.0,361.0 1120.1,361.4 1120.2,361.8 1120.3,361.3 1120.4,359.4 1120.5,358.9 1120.6,358.4 1120.8,357.9 1120.9,357.4 1121.1,356.9 1121.2,358.2 1121.4,357.8 1121.5,355.4 1121.7,354.9 1121.8,355.0 1121.9,354.5 1122.1,353.2 1122.2,352.7 1122.4,353.2 1122.5,352.7 1122.7,351.0 1122.8,351.0 1123.0,352.0 1123.1,351.0 1123.2,348.0 1123.4,348.0 1123.5,348.0 1123.7,347.0 1123.8,348.0 1124.0,348.0 1124.1,347.0 1124.3,347.0 1124.4,347.0 1124.6,346.0 1124.8,345.0 1125.0,345.0 1125.2,345.0 1125.4,344.0 1125.6,343.0 1125.9,343.0 1126.1,342.0 1126.3,341.0 1126.5,342.0 1126.7,342.0 1126.9,340.0 1127.1,340.0 1127.3,340.0 1127.5,337.0 1127.7,339.0 1127.9,338.0 1128.1,338.0 1128.4,338.0 1128.6,337.0 1128.8,336.0 1129.0,335.0 1129.2,334.0 1129.4,336.0 1129.6,335.0 1129.8,333.0 1130.1,333.0 1130.3,333.0 1130.6,333.0 1130.8,332.0 1131.1,333.0 1131.3,331.0 1131.5,332.0 1131.8,330.0 1132.0,330.0 1132.3,329.0 1132.5,328.0 1132.8,328.0 1133.0,328.0 1133.3,328.0 1133.6,328.0 1133.9,327.0 1134.2,327.0 1134.5,325.0 1134.9,324.0 1135.2,324.0 1135.5,324.0 1135.8,323.0 1136.1,323.0 1136.4,324.0 1136.6,324.0 1136.9,322.0 1137.1,322.0 1137.4,322.0 1137.7,322.0 1137.9,320.0 1138.2,320.0 1138.4,319.0 1138.7,319.0 1139.0,319.0 1139.2,319.0 1139.5,318.0 1139.7,318.0 1140.0,317.0 1140.2,317.0 1140.5,316.0 1140.7,316.0 1140.9,315.0 1141.2,315.0 1141.4,316.0 1141.6,316.0 1141.9,313.0 1142.1,312.0 1142.3,314.0 1142.6,313.0 1142.8,310.0 1143.0,310.0 1143.2,310.0 1143.5,309.0 1143.7,309.0 1143.9,308.0 1144.2,309.0 1144.4,308.0 1144.6,308.0 1144.9,308.0 1145.1,307.0 1145.3,306.0 1145.6,306.0 1145.8,305.0 1146.0,306.0 1146.3,306.0 1146.5,304.0 1146.9,304.0 1147.3,304.0 1147.7,304.0 1148.0,302.0 1148.4,302.0 1148.8,303.0 1149.2,303.0 1149.6,301.0 1150.0,301.0 1150.4,301.0 1150.8,300.0 1151.1,300.0 1151.5,300.0 1151.9,299.0 1152.3,299.0 1152.6,299.0 1153.0,298.0 1153.3,300.0 1153.7,299.0 1154.0,297.0 1154.4,297.0 1154.7,297.0 1155.1,296.0 1155.4,296.0 1155.8,296.0 1156.1,295.0 1156.5,295.0 1156.9,295.0 1157.3,295.0 1157.7,295.0 1158.1,294.0 1158.5,294.0 1158.9,293.0 1159.3,292.0 1159.7,292.0 1160.1,292.0 1160.5,292.0 1161.0,292.0 1161.4,291.0 1161.8,290.0 1162.2,290.0 1162.6,290.0 1163.0,290.0 1163.4,289.0 1163.8,289.0 1164.2,288.0 1164.6,288.0 1165.0,288.0 1165.4,288.0 1165.8,286.0 1166.3,286.0 1166.7,287.0 1167.2,287.0 1167.6,286.0 1168.0,286.0 1168.5,285.0 1168.9,285.0 1169.3,286.0 1169.8,286.0 1170.2,283.0 1170.7,283.0 1171.1,282.0 1171.5,282.0 1172.0,285.0 1172.4,284.0 1172.8,282.0 1173.3,282.0 1173.7,282.0 1174.2,282.0 1174.6,281.0 1175.1,281.0 1175.6,283.0 1176.1,283.0 1176.5,282.0 1177.0,282.0 1177.5,282.0 1178.0,282.0 1178.5,281.0 1179.0,281.0 1179.4,281.0 1179.9,281.0 1180.4,279.0 1180.9,279.0 1181.4,280.0 1181.9,280.0 1182.3,281.0 1182.8,280.0 1183.3,278.0 1183.8,278.0 1184.3,278.0 1184.8,278.0 1185.3,279.0 1185.8,279.0 1186.3,277.0 1186.8,277.0 1187.3,278.0 1187.8,278.0 1188.2,278.0 1188.7,278.0 1189.2,277.0 1189.7,277.0 1190.2,277.0 1190.7,277.0 1191.2,276.0 1191.7,276.0 1192.2,275.0 1192.7,275.0 1193.2,275.0 1193.6,275.0 1194.1,276.0 1194.6,276.0 1195.1,276.0 1195.5,275.0 1196.0,275.0 1196.5,275.0 1196.9,276.0 1197.4,275.0 1197.9,275.0 1198.4,275.0 1198.8,273.0 1199.3,273.0 1199.8,273.0 1200.2,273.0 1200.7,276.0 1201.2,275.0 1201.6,274.0 1202.1,273.0 1202.6,273.0 1203.1,273.0 1203.5,273.0 1204.0,272.0 1204.5,272.0 1204.9,272.0 1205.4,272.0 1205.9,272.0 1206.4,272.0 1206.8,272.0 1207.3,271.0 1207.8,271.0 1208.2,271.0 1208.7,271.0 1209.2,271.0 1209.7,271.0 1210.1,269.0 1210.6,269.0 1211.1,269.0 1211.5,269.0 1212.0,269.0 1212.5,269.0 1213.0,268.0 1213.4,268.0 1213.9,268.0 1214.4,268.0 1214.8,268.0 1215.3,268.0 1215.8,266.0 1216.2,266.0 1216.7,267.0 1217.2,267.0 1217.7,267.0 1218.1,267.0 1218.6,267.0 1219.1,267.0 1219.5,265.0 1220.0,263.0 1220.5,265.0 1221.0,265.0 1221.4,265.0 1221.9,264.0 1222.4,267.0 1222.8,265.0 1223.3,264.0 1223.7,263.0 1224.2,263.0 1224.6,267.0 1225.1,262.0 1225.6,262.0 1226.0,264.0 1226.5,262.0 1226.9,263.0 1227.4,263.0 1227.8,262.0 1228.3,262.0 1228.7,264.0 1229.2,263.0 1229.7,262.0 1230.1,262.0 1230.6,259.0 1231.0,259.0 1231.5,260.0 1231.9,260.0 1232.4,261.0 1232.8,260.0 1233.3,259.0 1233.8,259.0 1234.2,259.0 1234.7,259.0 1235.1,259.0 1235.6,259.0 1236.0,257.0 1236.5,259.0 1237.0,258.0 1237.5,257.0 1238.0,257.0 1238.5,257.0 1239.0,257.0 1239.5,256.0 1240.0,257.0 1240.5,257.0 1241.0,256.0 1241.5,256.0 1242.0,257.0 1242.5,256.0 1243.0,256.0 1243.5,256.0 1244.0,256.0 1244.5,256.0 1245.0,256.0 1245.4,256.0 1245.9,254.0 1246.3,254.0 1246.7,254.0 1247.2,253.0 1247.6,254.0 1248.0,254.0 1248.4,253.0 1248.9,252.0 1249.3,253.0 1249.7,252.0 1250.2,252.0 1250.6,252.0 1251.0,254.0 1251.5,252.0 1251.9,251.0 1252.3,251.0 1252.8,250.0 1253.2,250.0 1253.6,249.0 1254.0,249.0 1254.5,249.0 1254.9,249.0 1255.3,249.0 1255.8,248.0 1256.2,249.0 1256.7,249.0 1257.1,246.0 1257.6,246.0 1258.1,246.0 1258.6,246.0 1259.0,246.0 1259.5,245.0 1260.0,247.0 1260.5,246.0 1260.9,243.0 1261.4,245.0 1261.9,246.0 1262.4,246.0 1262.8,244.0 1263.3,244.0 1263.8,245.0 1264.2,244.0 1264.7,244.0 1265.2,244.0 1265.7,244.0 1266.1,244.0 1266.6,242.0 1267.1,242.0 1267.6,244.0 1268.0,244.0 1268.5,242.0 1269.0,244.0 1269.5,244.0 1269.9,242.0 1270.4,243.0 1270.9,245.0 1271.4,241.0 1271.8,241.0 1272.3,241.0 1272.8,241.0 1273.3,241.0 1273.7,241.0 1274.2,240.0 1274.7,240.0 1275.2,239.0 1275.6,239.0 1276.1,239.0 1276.6,239.0 1277.1,239.0 1277.5,239.0 1278.0,240.0 1278.5,239.0 1279.0,238.0 1279.4,238.0 1279.9,239.0 1280.4,238.0 1280.9,237.0 1281.4,237.0 1281.8,239.0 1282.3,239.0 1282.8,237.0 1283.3,237.0 1283.7,237.0 1284.2,237.0 1284.7,237.0 1285.2,237.0 1285.6,236.0 1286.1,235.0 1286.6,236.0 1287.1,236.0 1287.5,233.0 1288.0,233.0 1288.5,234.0 1289.0,234.0 1289.4,233.0 1289.9,233.0 1290.4,233.0 1290.9,233.0 1291.3,234.0 1291.8,234.0 1292.3,233.0 1292.8,233.0 1293.2,232.0 1293.7,232.0 1294.2,232.0 1294.7,232.0 1295.1,234.0 1295.6,234.0 1296.1,232.0 1296.5,231.0 1297.0,230.0 1297.5,230.0 1298.0,234.0 1298.4,231.0 1298.9,231.0 1299.4,231.0 1299.9,230.0 1300.3,229.0 1300.8,230.0 1301.3,230.0 1301.8,230.0 1302.2,230.0 1302.7,229.0 1303.2,229.0 1303.7,227.0 1304.1,227.0 1304.6,228.0 1305.1,228.0 1305.6,229.0 1306.0,231.0 1306.5,228.0 1307.0,228.0 1307.5,227.0 1307.9,227.0 1308.4,227.0 1308.9,227.0 1309.4,225.0 1309.8,225.0 1310.3,226.0 1310.8,225.0 1311.3,225.0 1311.7,225.0 1312.2,223.0 1312.7,223.0 1313.2,224.0 1313.7,224.0 1314.1,225.0 1314.6,224.0 1315.1,223.0 1315.6,223.0 1316.0,224.0 1316.5,224.0 1317.0,222.0 1317.5,222.0 1317.9,223.0 1318.4,223.0 1318.9,222.0 1319.4,222.0 1319.8,222.0 1320.3,222.0 1320.8,222.0 1321.2,221.0 1321.7,222.0 1322.1,221.0 1322.6,219.0 1323.0,218.0 1323.5,220.0 1323.9,220.0 1324.4,218.0 1324.8,218.0 1325.3,221.0 1325.7,220.0 1326.2,219.0 1326.6,219.0 1327.1,219.0 1327.5,219.0 1328.0,218.0 1328.4,218.0 1328.8,218.0 1329.3,218.0 1329.7,218.0 1330.2,218.0 1330.6,215.0 1331.1,215.0 1331.5,216.0 1332.0,215.0 1332.4,217.0 1332.9,217.0 1333.3,215.0 1333.8,215.0 1334.2,216.0 1334.7,215.0 1335.1,213.0 1335.6,215.0 1336.0,214.0 1336.5,214.0 1336.9,215.0 1337.4,214.0 1337.9,212.0 1338.3,212.0 1338.8,214.0 1339.3,214.0 1339.8,212.0 1340.2,212.0 1340.7,212.0 1341.2,212.0 1341.7,212.0 1342.1,212.0 1342.6,212.0 1343.1,211.0 1343.6,211.0 1344.0,213.0 1344.5,210.0 1345.0,209.0 1345.5,211.0 1346.0,211.0 1346.4,210.0 1346.9,210.0 1347.4,211.0 1347.9,210.0 1348.3,211.0 1348.8,210.0 1349.3,210.0 1349.8,209.0 1350.2,208.0 1350.7,208.0 1351.2,209.0 1351.7,209.0 1352.1,208.0 1352.6,208.0 1353.1,208.0 1353.6,207.0 1354.0,207.0 1354.5,207.0 1354.9,206.0 1355.4,205.0 1355.9,204.0 1356.3,204.0 1356.8,205.0 1357.2,205.0 1357.7,205.0 1358.2,204.0 1358.6,204.0 1359.1,202.0 1359.5,203.0 1360.0,203.0 1360.5,204.0 1360.9,204.0 1361.4,203.0 1361.8,203.0 1362.3,203.0 1362.8,202.0 1363.2,204.0 1363.7,201.0 1364.1,201.0 1364.6,201.0 1365.1,201.0 1365.5,201.0 1366.0,202.0 1366.4,201.0 1366.9,200.0 1367.4,200.0 1367.8,200.0 1368.3,200.0 1368.7,200.0 1369.2,200.0 1369.7,200.0 1370.2,200.0 1370.6,200.0 1371.1,200.0 1371.6,198.0 1372.1,198.0 1372.5,198.0 1373.0,197.0 1373.5,198.0 1374.0,197.0 1374.4,197.0 1374.9,197.0 1375.4,196.0 1375.9,194.0 1376.3,196.0 1376.8,196.0 1377.3,196.0 1377.8,196.0 1378.3,195.0 1378.7,195.0 1379.2,196.0 1379.7,196.0 1380.2,193.0 1380.6,194.0 1381.1,193.0 1381.6,193.0 1382.1,194.0 1382.5,194.0 1383.0,194.0 1383.5,194.0 1384.0,193.0 1384.4,193.0 1384.9,193.0 1385.4,193.0 1385.8,192.0 1386.3,192.0 1386.7,193.0 1387.2,192.0 1387.6,191.0 1388.1,191.0 1388.5,192.0 1389.0,192.0 1389.4,190.0 1389.9,188.0 1390.3,190.0 1390.8,190.0 1391.2,189.0 1391.7,188.0 1392.1,189.0 1392.6,186.0 1393.0,190.0 1393.5,189.0 1393.9,189.0 1394.3,189.0 1394.8,187.0 1395.2,187.0 1395.7,186.0 1396.1,186.0 1396.6,186.0 1397.0,186.0 1397.5,186.0 1397.9,186.0 1398.4,187.0 1398.8,187.0 1399.3,186.0 1399.7,185.0 1400.2,185.0 1400.6,185.0 1401.1,186.0 1401.5,186.0 1402.0,183.0 1402.5,183.0 1403.0,184.0 1403.5,184.0 1404.0,183.0 1404.4,183.0 1404.9,182.0 1405.4,182.0 1405.9,181.0 1406.4,183.0 1406.9,183.0 1407.4,183.0 1407.9,183.0 1408.4,182.0 1408.9,183.0 1409.4,182.0 1409.8,183.0 1410.3,182.0 1410.8,183.0 1411.3,183.0 1411.8,181.0 1412.3,180.0 1412.8,180.0 1413.3,180.0 1413.8,181.0 1414.3,181.0 1414.8,182.0 1415.2,182.0 1415.7,181.0 1416.2,181.0 1416.7,180.0 1417.2,180.0 1417.7,180.0 1418.2,180.0 1418.7,180.0 1419.2,180.0 1419.7,180.0 1420.2,180.0 1420.6,179.0 1421.1,178.0 1421.6,180.0 1422.1,180.0 1422.6,177.0 1423.1,177.0 1423.6,179.0 1424.1,179.0 1424.6,178.0 1425.1,178.0 1425.6,179.0 1426.0,179.0 1426.5,178.0 1427.0,178.0 1427.5,178.0 1428.0,177.0 1428.5,178.0 1429.0,178.0 1429.5,176.0 1430.0,176.0 1430.5,178.0 1431.0,178.0 1431.4,179.0 1431.9,179.0 1432.4,178.0 1432.9,178.0 1433.4,175.0 1433.9,175.0 1434.4,176.0 1434.9,176.0 1435.4,176.0 1435.9,176.0 1436.4,177.0 1437.0,177.0 1437.5,174.0 1438.0,174.0 1438.5,175.0 1439.0,175.0 1439.5,175.0 1440.0,174.0 1440.5,174.0 1441.0,174.0 1441.5,176.0 1442.1,176.0 1442.6,173.0 1443.1,173.0 1443.6,173.0 1444.1,173.0 1444.6,174.0 1445.1,174.0 1445.6,175.0 1446.2,175.0 1446.7,175.0 1447.2,175.0 1447.7,174.0 1448.2,174.0 1448.7,173.0 1449.2,173.0 1449.8,174.0 1450.3,174.0 1450.8,176.0 1451.3,174.0 1451.8,174.0 1452.3,174.0 1452.8,174.0 1453.3,174.0 1453.9,172.0 1454.4,172.0 1454.9,174.0 1455.4,174.0 1455.9,173.0 1456.4,173.0 1456.8,173.0 1457.3,173.0 1457.8,172.0 1458.3,172.0 1458.8,171.0 1459.2,171.0 1459.7,172.0 1460.2,172.0 1460.7,171.0 1461.2,171.0 1461.7,171.0 1462.1,171.0 1462.6,170.0 1463.1,170.0 1463.6,170.0 1464.1,170.0 1464.5,170.0 1465.0,170.0 1465.5,171.0 1466.0,171.0 1466.5,170.0 1467.0,170.0 1467.4,170.0 1467.9,170.0 1468.4,169.0 1468.9,169.0 1469.4,169.0 1469.8,169.0 1470.3,168.0 1470.8,168.0 1471.3,169.0 1471.8,169.0 1472.3,170.0 1472.8,170.0 1473.3,168.0 1473.8,168.0 1474.3,167.0 1474.8,167.0 1475.3,168.0 1475.8,168.0 1476.2,169.0 1476.7,168.0 1477.2,167.0 1477.7,167.0 1478.2,165.0 1478.7,165.0 1479.2,167.0 1479.7,167.0 1480.2,167.0 1480.7,167.0 1481.2,166.0 1481.7,166.0 1482.2,166.0 1482.7,166.0 1483.2,166.0 1483.7,166.0 1484.2,168.0 1484.7,168.0 1485.2,166.0 1485.7,166.0 1486.2,167.0 1486.6,167.0 1487.1,166.0 1487.6,166.0 1488.1,166.0 1488.6,166.0 1489.1,165.0 1489.6,165.0 1490.1,167.0 1490.6,167.0 1491.1,166.0 1491.6,166.0 1492.1,164.0 1492.6,164.0 1493.1,166.0 1493.6,166.0 1494.1,167.0 1494.6,166.0 1495.1,165.0 1495.6,165.0 1496.1,164.0 1496.5,164.0 1497.0,165.0 1497.5,165.0 1498.0,164.0 1498.5,164.0 1499.0,165.0 1499.5,165.0 1500.0,165.0 1500.5,165.0 1501.0,162.0 1501.5,162.0 1502.0,164.0 1502.5,164.0 1503.0,164.0 1503.5,164.0 1504.0,163.0 1504.5,163.0 1505.0,164.0 1505.5,164.0 1506.0,163.0 1506.5,163.0 1507.0,163.0 1507.5,163.0 1508.0,163.0 1508.5,163.0 1509.0,162.0 1509.4,162.0 1509.9,163.0 1510.4,163.0 1510.9,163.0 1511.4,163.0 1511.9,162.0 1512.4,162.0 1512.9,162.0 1513.4,162.0 1513.9,160.0 1514.4,160.0 1514.9,162.0 1515.4,162.0 1515.9,164.0 1516.4,162.0 1516.9,161.0 1517.4,161.0 1517.9,162.0 1518.4,162.0 1518.9,163.0 1519.4,163.0 1519.9,161.0 1520.4,160.0 1520.9,163.0 1521.4,162.0 1521.9,160.0 1522.4,161.0 1522.9,161.0 1523.4,161.0 1523.9,160.0 1524.4,160.0 1524.8,162.0 1525.3,160.0 1525.8,160.0 1526.3,160.0 1526.8,160.0 1527.3,160.0 1527.8,160.0 1528.3,160.0 1528.8,160.0 1529.3,160.0 1529.8,159.0 1530.3,159.0 1530.8,159.0 1531.3,159.0 1531.8,158.0 1532.3,158.0 1532.8,159.0 1533.3,159.0 1533.8,161.0 1534.3,161.0 1534.8,160.0 1535.3,158.0 1535.8,159.0 1536.3,159.0 1536.8,159.0 1537.3,159.0 1537.9,159.0 1538.4,159.0 1538.9,159.0 1539.4,158.0 1539.9,159.0 1540.4,159.0 1540.9,158.0 1541.4,158.0 1541.9,158.0 1542.4,158.0 1542.9,158.0 1543.4,158.0 1543.9,156.0 1544.4,156.0 1544.9,158.0 1545.4,158.0 1545.9,158.0 1546.4,158.0 1546.9,158.0 1547.4,158.0 1548.0,159.0 1548.5,159.0 1549.0,156.0 1549.5,156.0 1550.0,157.0 1550.5,157.0 1551.0,157.0 1551.5,157.0 1552.0,157.0 1552.5,157.0 1553.0,157.0 1553.5,157.0 1554.0,157.0 1554.5,157.0 1555.0,156.0 1555.5,156.0 1556.0,156.0 1556.5,156.0 1557.0,157.0 1557.5,157.0 1558.1,155.0 1558.6,155.0 1559.1,156.0 1559.6,156.0 1560.1,157.0 1560.6,157.0 1561.1,157.0 1561.6,157.0 1562.1,158.0 1562.6,158.0 1563.1,157.0 1563.6,157.0 1564.1,156.0 1564.6,156.0 1565.1,155.0 1565.6,155.0 1566.1,156.0 1566.6,156.0 1567.1,154.0 1567.6,154.0 1568.1,155.0 1568.6,155.0 1569.1,155.0 1569.6,155.0 1570.1,154.0 1570.6,154.0 1571.2,155.0 1571.7,155.0 1572.2,154.0 1572.7,154.0 1573.2,157.0 1573.7,157.0 1574.2,155.0 1574.7,155.0 1575.2,155.0 1575.7,155.0 1576.2,155.0 1576.7,155.0 1577.2,157.0 1577.7,157.0 1578.2,155.0 1578.7,155.0 1579.2,155.0 1579.7,155.0 1580.2,155.0 1580.7,155.0 1581.2,155.0 1581.7,155.0 1582.2,156.0 1582.7,155.0 1583.2,155.0 1583.7,155.0 1584.2,156.0 1584.7,156.0 1585.2,154.0 1585.7,153.0 1586.3,154.0 1586.8,154.0 1587.3,154.0 1587.8,154.0 1588.3,155.0 1588.8,155.0 1589.3,155.0 1589.8,155.0 1590.3,155.0 1590.8,155.0 1591.3,155.0 1591.8,155.0 1592.3,155.0 1592.8,154.0 1593.3,154.0 1593.8,154.0 1594.3,155.0 1594.8,155.0 1595.3,155.0 1595.8,155.0 1596.3,156.0 1596.8,156.0 1597.3,155.0 1597.8,155.0 1598.3,154.0 1598.8,154.0 1599.4,154.0 1599.9,154.0 1600.4,155.0 1600.9,155.0 1601.4,155.0 1601.9,155.0 1602.4,154.0 1602.9,154.0 1603.4,155.0 1603.9,155.0 1604.4,155.0 1604.9,155.0 1605.4,154.0 1605.9,154.0 1606.4,154.0 1606.9,154.0 1607.4,155.0 1607.9,155.0 1608.4,156.0 1608.9,156.0 1609.5,154.0 1610.0,154.0 1610.5,155.0 1611.0,155.0 1611.5,155.0 1612.0,155.0 1612.5,155.0 1613.0,155.0 1613.5,155.0 1614.0,155.0 1614.5,153.0 1615.0,153.0 1615.5,154.0 1616.0,154.0 1616.5,154.0 1617.0,154.0 1617.5,155.0 1618.0,155.0 1618.5,156.0 1619.0,156.0 1619.6,155.0 1620.1,155.0 1620.6,155.0 1621.1,155.0 1621.6,154.0 1622.1,154.0 1622.6,156.0 1623.1,156.0 1623.6,155.0 1624.1,155.0 1624.6,154.0 1625.1,154.0 1625.6,155.0 1626.1,155.0 1626.6,153.0 1627.1,154.0 1627.6,154.0 1628.1,154.0 1628.6,155.0 1629.1,156.0 1629.6,156.0 1630.1,156.0 1630.6,153.0 1631.1,153.0 1631.6,154.0 1632.1,154.0 1632.6,154.0 1633.1,154.0 1633.6,155.0 1634.1,155.0 1634.6,155.0 1635.1,155.0 1635.6,154.0 1636.1,154.0 1636.6,156.0 1637.1,157.0 1637.6,156.0 1638.1,156.0 1638.6,156.0 1639.1,156.0 1639.6,155.0 1640.1,155.0 1640.6,154.0 1641.1,154.0 1641.6,154.0 1642.1,154.0 1642.6,156.0 1643.1,156.0 1643.6,155.0 1644.1,155.0 1644.6,155.0 1645.1,153.0 1645.6,155.0 1646.2,155.0 1646.7,155.0 1647.2,155.0 1647.7,155.0 1648.2,155.0 1648.7,156.0 1649.2,156.0 1649.7,155.0 1650.2,155.0 1650.7,154.0 1651.2,154.0 1651.7,155.0 1652.2,155.0 1652.7,156.0 1653.2,156.0 1653.7,155.0 1654.2,155.0 1654.7,155.0 1655.2,155.0 1655.7,156.0 1656.2,156.0 1656.7,154.0 1657.2,154.0 1657.7,159.0 1658.2,159.0 1658.7,154.0 1659.2,154.0 1659.7,156.0 1660.2,156.0 1660.7,156.0 1661.2,156.0 1661.7,155.0 1662.2,155.0 1662.7,156.0 1663.2,156.0 1663.7,156.0 1664.2,156.0 1664.7,156.0 1665.2,156.0 1665.7,156.0 1666.2,156.0 1666.7,154.0 1667.2,154.0 1667.7,157.0" stroke="#5fbf44" stroke-width="3.8"/>
<polyline points="1116.6,378.8 1116.6,378.3 1116.6,377.7 1116.6,377.2 1116.7,377.2 1116.7,376.7 1116.7,376.0 1116.7,375.5 1116.7,374.8 1116.7,374.0 1116.7,374.2 1116.8,373.7 1116.8,372.8 1116.8,372.3 1116.8,372.0 1116.8,371.5 1116.8,370.8 1116.8,370.3 1116.8,369.7 1116.9,369.2 1116.9,369.1 1116.9,368.6 1116.9,367.8 1116.9,367.3 1116.9,367.1 1117.0,366.6 1117.0,365.8 1117.0,365.3 1117.0,364.8 1117.0,364.3 1117.0,364.0 1117.1,363.5 1117.1,362.8 1117.1,362.2 1117.1,361.9 1117.1,361.3 1117.1,360.6 1117.2,360.1 1117.2,359.7 1117.2,359.2 1117.3,358.7 1117.4,358.2 1117.5,357.7 1117.6,357.2 1117.8,356.7 1117.9,356.2 1118.0,356.7 1118.1,355.6 1118.2,354.4 1118.3,353.9 1118.4,354.4 1118.5,353.2 1118.6,352.6 1118.8,352.1 1118.9,351.7 1119.0,351.2 1119.1,350.9 1119.2,350.4 1119.4,349.4 1119.6,348.9 1119.7,348.6 1119.9,348.1 1120.1,348.0 1120.3,347.5 1120.4,348.0 1120.6,345.8 1120.8,345.9 1121.0,346.8 1121.2,344.6 1121.3,345.1 1121.5,343.2 1121.7,342.7 1121.9,344.3 1122.0,342.2 1122.2,342.1 1122.4,341.7 1122.6,341.8 1122.7,341.0 1122.9,339.0 1123.1,338.0 1123.3,339.0 1123.6,337.0 1123.8,337.0 1124.0,337.0 1124.2,338.0 1124.5,337.0 1124.7,337.0 1124.9,337.0 1125.1,334.0 1125.4,333.0 1125.6,336.0 1125.8,334.0 1126.0,334.0 1126.3,333.0 1126.5,333.0 1126.7,333.0 1126.9,333.0 1127.2,332.0 1127.4,332.0 1127.6,331.0 1127.8,330.0 1128.1,330.0 1128.3,330.0 1128.6,330.0 1128.8,327.0 1129.1,327.0 1129.3,327.0 1129.6,327.0 1129.9,325.0 1130.1,324.0 1130.4,326.0 1130.6,325.0 1130.9,325.0 1131.2,325.0 1131.4,325.0 1131.7,324.0 1131.9,323.0 1132.2,323.0 1132.5,321.0 1132.7,321.0 1133.0,323.0 1133.2,322.0 1133.5,321.0 1133.8,321.0 1134.1,320.0 1134.4,319.0 1134.7,319.0 1135.1,319.0 1135.4,319.0 1135.7,318.0 1136.0,317.0 1136.3,317.0 1136.6,317.0 1136.9,316.0 1137.2,315.0 1137.6,315.0 1137.9,316.0 1138.2,315.0 1138.5,314.0 1138.8,314.0 1139.2,312.0 1139.5,311.0 1139.9,314.0 1140.3,316.0 1140.6,310.0 1141.0,310.0 1141.4,311.0 1141.8,312.0 1142.1,309.0 1142.5,309.0 1142.9,309.0 1143.2,308.0 1143.6,309.0 1144.0,309.0 1144.3,307.0 1144.7,307.0 1145.1,308.0 1145.5,307.0 1145.8,306.0 1146.2,306.0 1146.6,308.0 1146.9,307.0 1147.3,306.0 1147.7,306.0 1148.2,304.0 1148.6,304.0 1149.1,304.0 1149.5,304.0 1150.0,303.0 1150.4,303.0 1150.8,304.0 1151.3,303.0 1151.7,302.0 1152.2,302.0 1152.6,303.0 1153.0,303.0 1153.5,302.0 1153.9,302.0 1154.4,304.0 1154.8,303.0 1155.3,301.0 1155.7,301.0 1156.2,300.0 1156.7,300.0 1157.1,298.0 1157.6,300.0 1158.1,300.0 1158.6,300.0 1159.1,299.0 1159.5,298.0 1160.0,297.0 1160.5,299.0 1160.9,299.0 1161.4,299.0 1161.8,298.0 1162.3,298.0 1162.7,297.0 1163.2,297.0 1163.6,298.0 1164.1,297.0 1164.5,298.0 1165.0,297.0 1165.4,293.0 1165.7,293.0 1165.9,294.0 1166.2,294.0 1166.5,294.0 1166.8,293.0 1167.0,294.0 1167.3,294.0 1167.6,293.0 1167.8,292.0 1168.1,291.0 1168.4,291.0 1168.6,290.0 1168.9,290.0 1169.2,290.0 1169.5,290.0 1169.7,289.0 1170.0,289.0 1170.1,289.0 1170.3,288.0 1170.4,285.0 1170.6,285.0 1170.7,288.0 1170.9,287.0 1171.0,285.0 1171.1,284.0 1171.3,284.0 1171.4,284.0 1171.6,285.0 1171.7,283.0 1171.8,281.0 1172.0,281.0 1172.1,282.0 1172.3,281.0 1172.4,280.0 1172.6,280.0 1172.7,279.0 1173.0,278.0 1173.3,277.0 1173.6,277.0 1173.9,276.0 1174.2,279.0 1174.6,276.0 1174.9,276.0 1175.2,275.0 1175.5,272.0 1175.8,275.0 1176.1,274.0 1176.4,274.0 1176.7,274.0 1177.0,273.0 1177.3,272.0 1177.7,272.0 1178.0,271.0 1178.3,274.0 1178.6,273.0 1178.9,271.0 1179.2,270.0 1179.7,269.0 1180.1,269.0 1180.5,270.0 1181.0,270.0 1181.5,270.0 1181.9,270.0 1182.3,269.0 1182.8,269.0 1183.2,268.0 1183.7,268.0 1184.2,268.0 1184.6,268.0 1185.0,268.0 1185.5,268.0 1186.0,268.0 1186.4,268.0 1186.8,267.0 1187.3,267.0 1187.8,267.0 1188.2,267.0 1188.7,264.0 1189.1,264.0 1189.5,265.0 1190.0,264.0 1190.5,265.0 1190.9,265.0 1191.4,265.0 1191.8,264.0 1192.2,264.0 1192.7,264.0 1193.2,264.0 1193.6,263.0 1194.1,264.0 1194.5,264.0 1195.0,263.0 1195.4,263.0 1195.9,262.0 1196.3,262.0 1196.8,262.0 1197.3,262.0 1197.7,262.0 1198.2,262.0 1198.6,261.0 1199.1,259.0 1199.5,261.0 1200.0,261.0 1200.5,259.0 1200.9,259.0 1201.4,259.0 1201.8,259.0 1202.3,260.0 1202.7,260.0 1203.2,257.0 1203.7,259.0 1204.1,258.0 1204.6,258.0 1205.0,259.0 1205.5,258.0 1205.9,255.0 1206.4,257.0 1206.8,256.0 1207.3,255.0 1207.8,255.0 1208.2,255.0 1208.7,257.0 1209.1,257.0 1209.6,256.0 1210.0,256.0 1210.5,255.0 1211.0,255.0 1211.4,254.0 1211.9,254.0 1212.3,255.0 1212.8,255.0 1213.2,254.0 1213.7,254.0 1214.1,254.0 1214.6,254.0 1215.1,253.0 1215.5,253.0 1216.0,253.0 1216.4,252.0 1216.9,252.0 1217.3,252.0 1217.8,252.0 1218.2,252.0 1218.7,251.0 1219.2,251.0 1219.6,250.0 1220.1,250.0 1220.5,248.0 1221.0,248.0 1221.4,250.0 1221.9,249.0 1222.3,250.0 1222.8,249.0 1223.2,248.0 1223.6,248.0 1224.1,247.0 1224.5,247.0 1224.9,249.0 1225.4,248.0 1225.8,247.0 1226.3,247.0 1226.7,247.0 1227.1,246.0 1227.6,245.0 1228.0,245.0 1228.4,245.0 1228.9,245.0 1229.3,245.0 1229.7,244.0 1230.2,245.0 1230.6,244.0 1231.0,242.0 1231.5,241.0 1231.9,243.0 1232.3,243.0 1232.8,242.0 1233.2,242.0 1233.6,244.0 1234.1,243.0 1234.5,240.0 1235.0,240.0 1235.4,242.0 1235.8,241.0 1236.3,240.0 1236.7,240.0 1237.1,241.0 1237.6,240.0 1238.0,238.0 1238.4,238.0 1238.9,239.0 1239.3,239.0 1239.8,240.0 1240.2,240.0 1240.7,238.0 1241.1,238.0 1241.6,238.0 1242.0,238.0 1242.4,237.0 1242.9,237.0 1243.3,238.0 1243.8,238.0 1244.2,236.0 1244.7,236.0 1245.1,236.0 1245.5,236.0 1246.0,236.0 1246.4,236.0 1246.9,235.0 1247.3,235.0 1247.8,236.0 1248.2,236.0 1248.7,235.0 1249.1,235.0 1249.5,234.0 1250.0,233.0 1250.4,232.0 1250.9,229.0 1251.3,231.0 1251.8,231.0 1252.2,232.0 1252.6,232.0 1253.1,231.0 1253.5,231.0 1254.0,233.0 1254.4,233.0 1254.9,231.0 1255.3,231.0 1255.8,233.0 1256.2,231.0 1256.6,230.0 1257.0,230.0 1257.4,230.0 1257.8,230.0 1258.2,227.0 1258.6,226.0 1258.9,228.0 1259.3,228.0 1259.7,227.0 1260.1,227.0 1260.5,225.0 1260.9,223.0 1261.3,226.0 1261.7,226.0 1262.1,225.0 1262.5,224.0 1262.9,224.0 1263.3,223.0 1263.7,223.0 1264.1,222.0 1264.4,221.0 1264.8,223.0 1265.2,224.0 1265.6,224.0 1266.0,221.0 1266.4,221.0 1266.8,222.0 1267.2,222.0 1267.6,221.0 1268.0,220.0 1268.4,220.0 1268.8,221.0 1269.2,221.0 1269.6,221.0 1269.9,219.0 1270.3,218.0 1270.7,217.0 1271.1,217.0 1271.5,217.0 1271.9,217.0 1272.3,216.0 1272.6,215.0 1272.9,217.0 1273.2,217.0 1273.5,216.0 1273.8,215.0 1274.1,214.0 1274.4,212.0 1274.7,212.0 1275.0,211.0 1275.3,212.0 1275.6,212.0 1275.9,213.0 1276.2,213.0 1276.5,212.0 1276.8,211.0 1277.2,210.0 1277.5,210.0 1277.8,210.0 1278.1,209.0 1278.4,209.0 1278.7,209.0 1279.0,208.0 1279.3,208.0 1279.6,207.0 1279.9,207.0 1280.2,207.0 1280.5,206.0 1280.8,205.0 1281.1,205.0 1281.4,204.0 1281.7,204.0 1282.0,204.0 1282.3,206.0 1282.7,203.0 1283.0,203.0 1283.3,202.0 1283.7,201.0 1284.0,200.0 1284.3,199.0 1284.7,201.0 1285.0,201.0 1285.3,198.0 1285.7,198.0 1286.0,199.0 1286.3,199.0 1286.7,199.0 1287.0,199.0 1287.4,200.0 1287.7,199.0 1288.0,196.0 1288.4,196.0 1288.7,198.0 1289.0,197.0 1289.4,197.0 1289.7,197.0 1290.0,197.0 1290.4,197.0 1290.7,194.0 1291.0,193.0 1291.4,193.0 1291.7,193.0 1292.1,192.0 1292.4,191.0 1292.8,193.0 1293.1,193.0 1293.5,192.0 1293.9,191.0 1294.2,189.0 1294.6,189.0 1294.9,190.0 1295.3,189.0 1295.7,189.0 1296.0,189.0 1296.4,189.0 1296.7,188.0 1297.1,188.0 1297.4,187.0 1297.8,186.0 1298.2,186.0 1298.5,187.0 1298.9,187.0 1299.2,184.0 1299.6,182.0 1300.0,185.0 1300.3,185.0 1300.7,183.0 1301.0,183.0 1301.4,183.0 1301.8,183.0 1302.2,183.0 1302.7,183.0 1303.1,182.0 1303.5,182.0 1303.9,181.0 1304.4,180.0 1304.8,182.0 1305.2,182.0 1305.6,184.0 1306.0,181.0 1306.5,179.0 1306.9,179.0 1307.3,179.0 1307.7,179.0 1308.1,177.0 1308.6,176.0 1309.0,176.0 1309.4,176.0 1309.8,178.0 1310.3,178.0 1310.7,176.0 1311.1,176.0 1311.5,176.0 1311.8,176.0 1312.2,175.0 1312.5,174.0 1312.9,175.0 1313.2,174.0 1313.6,174.0 1313.9,174.0 1314.3,175.0 1314.5,175.0 1314.7,176.0 1314.9,174.0 1315.1,173.0 1315.2,173.0 1315.4,177.0 1315.6,177.0 1315.8,177.0 1316.0,178.0 1316.2,179.0 1316.4,179.0 1316.6,177.0 1316.7,178.0 1316.9,182.0 1317.1,182.0 1317.3,178.0 1317.5,181.0 1317.9,180.0 1318.2,180.0 1318.6,180.0 1318.9,180.0 1319.3,181.0 1319.7,180.0 1320.0,179.0 1320.4,179.0 1320.8,177.0 1321.1,176.0 1321.5,178.0 1321.8,177.0 1322.2,179.0 1322.6,179.0 1322.9,177.0 1323.3,177.0 1323.6,175.0 1324.0,175.0 1324.5,172.0 1324.9,173.0 1325.4,176.0 1325.8,176.0 1326.3,174.0 1326.8,174.0 1327.2,174.0 1327.7,174.0 1328.1,173.0 1328.6,173.0 1329.1,174.0 1329.5,174.0 1330.0,171.0 1330.5,171.0 1330.9,173.0 1331.4,172.0 1331.8,170.0 1332.3,170.0 1332.8,170.0 1333.2,170.0 1333.7,170.0 1334.1,169.0 1334.6,170.0 1335.1,170.0 1335.5,168.0 1336.0,168.0 1336.4,169.0 1336.9,169.0 1337.4,169.0 1337.8,168.0 1338.2,168.0 1338.7,168.0 1339.2,167.0 1339.6,167.0 1340.0,167.0 1340.5,167.0 1341.0,168.0 1341.4,168.0 1341.9,166.0 1342.3,165.0 1342.8,166.0 1343.2,166.0 1343.7,166.0 1344.1,166.0 1344.5,166.0 1345.0,166.0 1345.5,163.0 1345.9,163.0 1346.3,164.0 1346.8,163.0 1347.2,163.0 1347.7,163.0 1348.1,162.0 1348.6,164.0 1349.0,162.0 1349.5,162.0 1350.0,161.0 1350.4,161.0 1350.8,161.0 1351.3,161.0 1351.8,162.0 1352.2,162.0 1352.6,161.0 1353.1,161.0 1353.6,159.0 1354.0,159.0 1354.5,160.0 1355.0,160.0 1355.5,160.0 1355.9,160.0 1356.4,161.0 1356.9,160.0 1357.4,159.0 1357.8,159.0 1358.3,159.0 1358.8,158.0 1359.3,157.0 1359.7,154.0 1360.2,159.0 1360.7,158.0 1361.2,157.0 1361.6,157.0 1362.1,156.0 1362.6,156.0 1363.0,156.0 1363.5,156.0 1364.0,157.0 1364.5,156.0 1364.9,154.0 1365.4,154.0 1365.9,154.0 1366.4,154.0 1366.8,156.0 1367.3,156.0 1367.8,155.0 1368.3,155.0 1368.7,155.0 1369.2,155.0 1369.7,152.0 1370.2,152.0 1370.7,153.0 1371.2,153.0 1371.7,154.0 1372.1,154.0 1372.6,153.0 1373.1,152.0 1373.6,154.0 1374.1,154.0 1374.6,153.0 1375.1,153.0 1375.6,152.0 1376.1,152.0 1376.6,153.0 1377.1,153.0 1377.5,154.0 1378.0,154.0 1378.5,152.0 1379.0,152.0 1379.5,151.0 1380.0,151.0 1380.5,151.0 1381.0,151.0 1381.5,150.0 1382.0,150.0 1382.5,152.0 1382.9,152.0 1383.4,152.0 1383.9,149.0 1384.4,151.0 1384.9,151.0 1385.4,151.0 1385.9,151.0 1386.3,150.0 1386.8,150.0 1387.3,150.0 1387.8,150.0 1388.2,150.0 1388.7,150.0 1389.2,150.0 1389.7,148.0 1390.1,149.0 1390.6,149.0 1391.1,148.0 1391.6,148.0 1392.0,148.0 1392.5,148.0 1393.0,148.0 1393.5,148.0 1393.9,148.0 1394.4,148.0 1394.9,147.0 1395.3,147.0 1395.8,146.0 1396.3,146.0 1396.8,146.0 1397.2,144.0 1397.7,146.0 1398.2,147.0 1398.7,144.0 1399.1,144.0 1399.6,143.0 1400.1,143.0 1400.6,145.0 1401.0,145.0 1401.5,144.0 1402.0,143.0 1402.5,143.0 1403.0,143.0 1403.5,142.0 1404.0,141.0 1404.4,145.0 1404.9,143.0 1405.4,144.0 1405.9,143.0 1406.4,141.0 1406.9,141.0 1407.4,142.0 1407.9,142.0 1408.4,144.0 1408.9,142.0 1409.4,145.0 1409.8,142.0 1410.3,141.0 1410.8,141.0 1411.3,142.0 1411.8,140.0 1412.3,142.0 1412.8,142.0 1413.3,141.0 1413.8,141.0 1414.3,141.0 1414.8,141.0 1415.2,140.0 1415.7,140.0 1416.2,140.0 1416.7,140.0 1417.2,140.0 1417.7,139.0 1418.2,138.0 1418.6,138.0 1419.1,141.0 1419.6,140.0 1420.0,139.0 1420.5,139.0 1421.0,139.0 1421.4,139.0 1421.9,137.0 1422.3,136.0 1422.8,137.0 1423.3,137.0 1423.7,135.0 1424.2,134.0 1424.7,136.0 1425.2,138.0 1425.7,138.0 1426.2,138.0 1426.7,137.0 1427.3,137.0 1427.8,137.0 1428.3,137.0 1428.8,138.0 1429.3,138.0 1429.8,136.0 1430.3,136.0 1430.8,136.0 1431.3,136.0 1431.8,137.0 1432.4,137.0 1432.9,136.0 1433.4,136.0 1433.9,138.0 1434.4,138.0 1434.9,137.0 1435.4,135.0 1435.9,137.0 1436.4,137.0 1436.9,139.0 1437.5,139.0 1438.0,139.0 1438.5,139.0 1439.0,138.0 1439.5,138.0 1440.0,139.0 1440.5,139.0 1441.0,137.0 1441.5,137.0 1442.1,137.0 1442.6,137.0 1443.1,137.0 1443.6,137.0 1444.1,136.0 1444.6,136.0 1445.1,137.0 1445.6,134.0 1446.2,136.0 1446.7,135.0 1447.2,137.0 1447.7,137.0 1448.2,137.0 1448.7,137.0 1449.2,137.0 1449.8,137.0 1450.3,138.0 1450.8,138.0 1451.3,135.0 1451.8,135.0 1452.3,134.0 1452.8,134.0 1453.3,137.0 1453.9,137.0 1454.4,136.0 1454.9,136.0 1455.4,137.0 1455.9,137.0 1456.4,135.0 1456.9,135.0 1457.4,136.0 1457.8,136.0 1458.3,134.0 1458.8,134.0 1459.3,134.0 1459.8,134.0 1460.3,136.0 1460.8,135.0 1461.3,135.0 1461.8,135.0 1462.2,133.0 1462.7,133.0 1463.2,133.0 1463.7,134.0 1464.2,134.0 1464.7,134.0 1465.2,132.0 1465.7,132.0 1466.2,133.0 1466.6,133.0 1467.1,134.0 1467.6,134.0 1468.1,134.0 1468.6,134.0 1469.1,132.0 1469.6,132.0 1470.1,134.0 1470.5,136.0 1471.0,133.0 1471.5,133.0 1472.0,133.0 1472.5,133.0 1473.0,134.0 1473.5,134.0 1474.0,131.0 1474.5,131.0 1474.9,130.0 1475.4,130.0 1475.9,131.0 1476.4,131.0 1476.9,130.0 1477.4,130.0 1477.8,132.0 1478.3,132.0 1478.8,132.0 1479.3,132.0 1479.7,133.0 1480.2,133.0 1480.7,133.0 1481.2,133.0 1481.6,134.0 1482.1,134.0 1482.6,134.0 1483.1,135.0 1483.5,135.0 1484.0,135.0 1484.5,135.0 1484.9,135.0 1485.4,134.0 1485.9,135.0 1486.4,135.0 1486.8,135.0 1487.3,134.0 1487.8,134.0 1488.3,136.0 1488.7,136.0 1489.2,137.0 1489.7,137.0 1490.1,136.0 1490.6,136.0 1491.0,137.0 1491.5,137.0 1491.9,138.0 1492.4,138.0 1492.8,139.0 1493.3,139.0 1493.7,137.0 1494.2,136.0 1494.6,140.0 1495.1,140.0 1495.5,139.0 1496.0,140.0 1496.4,141.0 1496.9,141.0 1497.4,140.0 1497.9,140.0 1498.3,140.0 1498.8,140.0 1499.3,141.0 1499.8,141.0 1500.3,139.0 1500.8,139.0 1501.2,139.0 1501.7,139.0 1502.2,139.0 1502.7,138.0 1503.2,139.0 1503.6,139.0 1504.1,137.0 1504.6,137.0 1505.1,139.0 1505.6,139.0 1506.1,137.0 1506.6,137.0 1507.2,140.0 1507.7,140.0 1508.2,138.0 1508.7,138.0 1509.2,138.0 1509.7,138.0 1510.2,138.0 1510.8,138.0 1511.3,138.0 1511.8,138.0 1512.3,138.0 1512.8,138.0 1513.3,139.0 1513.8,139.0 1514.3,139.0 1514.9,139.0 1515.4,139.0 1515.9,139.0 1516.4,138.0 1516.9,138.0 1517.4,139.0 1517.9,139.0 1518.4,137.0 1518.9,137.0 1519.4,136.0 1519.9,136.0 1520.4,136.0 1520.9,136.0 1521.4,136.0 1521.9,136.0 1522.4,136.0 1522.9,135.0 1523.4,136.0 1523.9,136.0 1524.4,136.0 1524.8,136.0 1525.3,137.0 1525.8,137.0 1526.3,134.0 1526.8,134.0 1527.3,136.0 1527.8,136.0 1528.3,136.0 1528.8,136.0 1529.3,136.0 1529.8,136.0 1530.3,135.0 1530.8,134.0 1531.3,136.0 1531.8,136.0 1532.3,136.0 1532.8,135.0 1533.3,136.0 1533.8,136.0 1534.4,135.0 1534.9,135.0 1535.4,134.0 1535.9,134.0 1536.4,133.0 1536.9,133.0 1537.4,134.0 1537.9,134.0 1538.5,133.0 1539.0,135.0 1539.5,134.0 1540.0,132.0 1540.5,133.0 1541.0,133.0 1541.5,136.0 1542.1,136.0 1542.6,133.0 1543.1,133.0 1543.6,135.0 1544.1,135.0 1544.6,136.0 1545.1,136.0 1545.6,132.0 1546.2,132.0 1546.7,134.0 1547.2,134.0 1547.7,133.0 1548.2,133.0 1548.7,133.0 1549.2,133.0 1549.7,135.0 1550.2,134.0 1550.7,132.0 1551.2,132.0 1551.7,132.0 1552.2,132.0 1552.7,132.0 1553.2,132.0 1553.7,130.0 1554.2,130.0 1554.7,131.0 1555.2,131.0 1555.6,132.0 1556.1,132.0 1556.6,130.0 1557.1,130.0 1557.6,131.0 1558.1,131.0 1558.6,131.0 1559.1,131.0 1559.6,132.0 1560.1,132.0 1560.6,130.0 1561.1,130.0 1561.6,130.0 1562.1,129.0 1562.6,130.0 1563.1,130.0 1563.6,130.0 1564.1,130.0 1564.6,133.0 1565.2,133.0 1565.7,130.0 1566.2,130.0 1566.7,129.0 1567.2,129.0 1567.7,132.0 1568.2,132.0 1568.7,129.0 1569.3,129.0 1569.8,131.0 1570.3,131.0 1570.8,132.0 1571.3,132.0 1571.8,131.0 1572.3,131.0 1572.9,129.0 1573.4,129.0 1573.9,132.0 1574.4,132.0 1574.9,131.0 1575.4,131.0 1575.9,134.0 1576.4,134.0 1577.0,131.0 1577.5,131.0 1578.0,131.0 1578.5,131.0 1579.0,132.0 1579.5,132.0 1580.0,131.0 1580.5,133.0 1581.0,132.0 1581.6,132.0 1582.1,132.0 1582.6,132.0 1583.1,130.0 1583.6,130.0 1584.1,131.0 1584.6,131.0 1585.1,130.0 1585.6,128.0 1586.2,130.0 1586.7,130.0 1587.2,131.0 1587.7,131.0 1588.2,132.0 1588.7,132.0 1589.2,130.0 1589.7,130.0 1590.2,131.0 1590.7,131.0 1591.2,129.0 1591.8,129.0 1592.3,130.0 1592.8,130.0 1593.3,131.0 1593.8,131.0 1594.3,130.0 1594.8,130.0 1595.3,129.0 1595.9,129.0 1596.4,129.0 1596.9,129.0 1597.4,130.0 1597.9,130.0 1598.4,130.0 1598.9,130.0 1599.4,131.0 1600.0,131.0 1600.5,129.0 1601.0,129.0 1601.5,129.0 1602.0,129.0 1602.5,131.0 1603.0,131.0 1603.6,128.0 1604.1,128.0 1604.6,132.0 1605.1,132.0 1605.6,129.0 1606.1,129.0 1606.6,130.0 1607.1,130.0 1607.7,132.0 1608.2,132.0 1608.7,130.0 1609.2,130.0 1609.7,130.0 1610.2,130.0 1610.7,130.0 1611.3,130.0 1611.8,130.0 1612.3,130.0 1612.8,132.0 1613.3,132.0 1613.8,129.0 1614.3,129.0 1614.8,129.0 1615.4,129.0 1615.9,130.0 1616.4,130.0 1616.9,131.0 1617.4,132.0 1617.9,131.0 1618.4,131.0 1619.0,131.0 1619.5,131.0 1620.0,131.0 1620.5,131.0 1621.0,131.0 1621.5,131.0 1622.0,131.0 1622.5,131.0 1623.1,132.0 1623.6,132.0 1624.1,131.0 1624.6,131.0 1625.1,134.0 1625.6,133.0 1626.1,131.0 1626.6,131.0 1627.1,132.0 1627.6,132.0 1628.1,132.0 1628.6,132.0 1629.1,130.0 1629.6,133.0 1630.1,131.0 1630.6,131.0 1631.1,130.0 1631.6,130.0 1632.1,130.0 1632.6,130.0 1633.1,131.0 1633.6,131.0 1634.1,131.0 1634.6,131.0 1635.1,130.0 1635.6,130.0 1636.1,131.0 1636.6,131.0 1637.2,130.0 1637.7,130.0 1638.2,129.0 1638.7,129.0 1639.2,130.0 1639.7,130.0 1640.2,130.0 1640.7,130.0 1641.2,129.0 1641.7,129.0 1642.2,128.0 1642.7,128.0 1643.2,130.0 1643.7,130.0 1644.2,129.0 1644.7,129.0 1645.2,129.0 1645.7,129.0 1646.2,129.0 1646.7,129.0 1647.2,129.0 1647.7,129.0 1648.2,128.0 1648.7,128.0 1649.2,130.0 1649.7,130.0 1650.2,130.0 1650.7,130.0 1651.2,131.0 1651.7,131.0 1652.2,130.0 1652.7,130.0 1653.2,128.0 1653.7,129.0 1654.2,128.0 1654.7,128.0 1655.2,129.0 1655.7,129.0 1656.2,131.0 1656.7,131.0 1657.2,129.0 1657.7,129.0 1658.2,130.0 1658.7,130.0 1659.2,129.0 1659.7,129.0 1660.2,129.0 1660.7,130.0 1661.2,130.0 1661.7,130.0 1662.2,131.0 1662.7,131.0 1663.2,131.0 1663.7,131.0 1664.2,132.0 1664.7,132.0 1665.2,132.0 1665.7,132.0 1666.2,131.0 1666.7,131.0 1667.2,133.0 1667.7,134.0" stroke="#2f4ca8" stroke-width="3.0"/>
</g>
<g stroke="#231f20" stroke-width="2.5" fill="none" stroke-linecap="butt">
<polyline points="1099.8,545.8000000000001 1099.8,15.5 1749.8,15.5 1749.8,545.8000000000001"/>
<line x1="1099.2" y1="550.0" x2="1753" y2="550.0"/>
<line x1="1089.00" y1="544.60" x2="1099.8" y2="544.60"/>
<line x1="1739.00" y1="544.60" x2="1749.8" y2="544.60"/>
<line x1="1094.20" y1="500.51" x2="1099.8" y2="500.51"/>
<line x1="1744.20" y1="500.51" x2="1749.8" y2="500.51"/>
<line x1="1094.20" y1="456.42" x2="1099.8" y2="456.42"/>
<line x1="1744.20" y1="456.42" x2="1749.8" y2="456.42"/>
<line x1="1094.20" y1="412.32" x2="1099.8" y2="412.32"/>
<line x1="1744.20" y1="412.32" x2="1749.8" y2="412.32"/>
<line x1="1089.00" y1="368.23" x2="1099.8" y2="368.23"/>
<line x1="1739.00" y1="368.23" x2="1749.8" y2="368.23"/>
<line x1="1094.20" y1="324.14" x2="1099.8" y2="324.14"/>
<line x1="1744.20" y1="324.14" x2="1749.8" y2="324.14"/>
<line x1="1094.20" y1="280.04" x2="1099.8" y2="280.04"/>
<line x1="1744.20" y1="280.04" x2="1749.8" y2="280.04"/>
<line x1="1094.20" y1="235.95" x2="1099.8" y2="235.95"/>
<line x1="1744.20" y1="235.95" x2="1749.8" y2="235.95"/>
<line x1="1089.00" y1="191.86" x2="1099.8" y2="191.86"/>
<line x1="1739.00" y1="191.86" x2="1749.8" y2="191.86"/>
<line x1="1094.20" y1="147.77" x2="1099.8" y2="147.77"/>
<line x1="1744.20" y1="147.77" x2="1749.8" y2="147.77"/>
<line x1="1094.20" y1="103.68" x2="1099.8" y2="103.68"/>
<line x1="1744.20" y1="103.68" x2="1749.8" y2="103.68"/>
<line x1="1094.20" y1="59.58" x2="1099.8" y2="59.58"/>
<line x1="1744.20" y1="59.58" x2="1749.8" y2="59.58"/>
<line x1="1089.00" y1="15.49" x2="1099.8" y2="15.49"/>
<line x1="1739.00" y1="15.49" x2="1749.8" y2="15.49"/>
<line x1="1116.90" y1="550.0" x2="1116.90" y2="560.80"/>
<line x1="1116.90" y1="15.5" x2="1116.90" y2="26.30"/>
<line x1="1159.67" y1="550.0" x2="1159.67" y2="555.60"/>
<line x1="1159.67" y1="15.5" x2="1159.67" y2="21.10"/>
<line x1="1202.44" y1="550.0" x2="1202.44" y2="555.60"/>
<line x1="1202.44" y1="15.5" x2="1202.44" y2="21.10"/>
<line x1="1245.20" y1="550.0" x2="1245.20" y2="555.60"/>
<line x1="1245.20" y1="15.5" x2="1245.20" y2="21.10"/>
<line x1="1287.97" y1="550.0" x2="1287.97" y2="560.80"/>
<line x1="1287.97" y1="15.5" x2="1287.97" y2="26.30"/>
<line x1="1330.74" y1="550.0" x2="1330.74" y2="555.60"/>
<line x1="1330.74" y1="15.5" x2="1330.74" y2="21.10"/>
<line x1="1373.51" y1="550.0" x2="1373.51" y2="555.60"/>
<line x1="1373.51" y1="15.5" x2="1373.51" y2="21.10"/>
<line x1="1416.27" y1="550.0" x2="1416.27" y2="555.60"/>
<line x1="1416.27" y1="15.5" x2="1416.27" y2="21.10"/>
<line x1="1459.04" y1="550.0" x2="1459.04" y2="560.80"/>
<line x1="1459.04" y1="15.5" x2="1459.04" y2="26.30"/>
<line x1="1501.81" y1="550.0" x2="1501.81" y2="555.60"/>
<line x1="1501.81" y1="15.5" x2="1501.81" y2="21.10"/>
<line x1="1544.58" y1="550.0" x2="1544.58" y2="555.60"/>
<line x1="1544.58" y1="15.5" x2="1544.58" y2="21.10"/>
<line x1="1587.34" y1="550.0" x2="1587.34" y2="555.60"/>
<line x1="1587.34" y1="15.5" x2="1587.34" y2="21.10"/>
<line x1="1630.11" y1="550.0" x2="1630.11" y2="560.80"/>
<line x1="1630.11" y1="15.5" x2="1630.11" y2="26.30"/>
<line x1="1672.88" y1="550.0" x2="1672.88" y2="555.60"/>
<line x1="1672.88" y1="15.5" x2="1672.88" y2="21.10"/>
<line x1="1715.64" y1="550.0" x2="1715.64" y2="555.60"/>
<line x1="1715.64" y1="15.5" x2="1715.64" y2="21.10"/>
</g>
<line x1="667.9" y1="102.5" x2="621.9" y2="131.2" stroke="#2f4ca8" stroke-width="3.4" stroke-linecap="round"/><polygon points="607.9,139.9 620.9,123.9 622.8,130.6 628.0,135.3" fill="#2f4ca8" stroke="#2f4ca8" stroke-width="1.2" stroke-linejoin="round"/>
<line x1="682.7" y1="226.9" x2="646.9" y2="208.3" stroke="#231f20" stroke-width="3.4" stroke-linecap="round"/><polygon points="632.3,200.7 652.7,203.7 647.8,208.8 646.5,215.7" fill="#231f20" stroke="#231f20" stroke-width="1.2" stroke-linejoin="round"/>
<g font-family="'Liberation Sans', Arial, sans-serif" font-weight="bold">
<text transform="translate(55.10,558.30) scale(1,1.05)" font-size="26.0" fill="#231f20" stroke="#231f20" stroke-width="0.2">0.0</text>
<text transform="translate(1047.70,551.60) scale(1,1.05)" font-size="26.0" fill="#231f20" stroke="#231f20" stroke-width="0.2">0.0</text>
<text transform="translate(54.77,380.35) scale(1,1.05)" font-size="26.0" fill="#231f20" stroke="#231f20" stroke-width="0.2">0.1</text>
<text transform="translate(1047.38,375.23) scale(1,1.05)" font-size="26.0" fill="#231f20" stroke="#231f20" stroke-width="0.2">0.1</text>
<text transform="translate(55.10,201.90) scale(1,1.05)" font-size="26.0" fill="#231f20" stroke="#231f20" stroke-width="0.2">0.2</text>
<text transform="translate(1047.70,198.86) scale(1,1.05)" font-size="26.0" fill="#231f20" stroke="#231f20" stroke-width="0.2">0.2</text>
<text transform="translate(54.97,23.45) scale(1,1.05)" font-size="26.0" fill="#231f20" stroke="#231f20" stroke-width="0.2">0.3</text>
<text transform="translate(1047.57,22.49) scale(1,1.05)" font-size="26.0" fill="#231f20" stroke="#231f20" stroke-width="0.2">0.3</text>
<text transform="translate(117.38,588.00) scale(1,1.05)" font-size="26.0" fill="#231f20" stroke="#231f20" stroke-width="0.2">0</text>
<text transform="translate(1109.99,586.10) scale(1,1.05)" font-size="26.0" fill="#231f20" stroke="#231f20" stroke-width="0.2">0</text>
<text transform="translate(268.44,588.00) scale(1,1.05)" font-size="26.0" fill="#231f20" stroke="#231f20" stroke-width="0.2">1000</text>
<text transform="translate(1259.09,586.10) scale(1,1.05)" font-size="26.0" fill="#231f20" stroke="#231f20" stroke-width="0.2">1000</text>
<text transform="translate(441.83,588.00) scale(1,1.05)" font-size="26.0" fill="#231f20" stroke="#231f20" stroke-width="0.2">2000</text>
<text transform="translate(1430.51,586.10) scale(1,1.05)" font-size="26.0" fill="#231f20" stroke="#231f20" stroke-width="0.2">2000</text>
<text transform="translate(615.02,588.00) scale(1,1.05)" font-size="26.0" fill="#231f20" stroke="#231f20" stroke-width="0.2">3000</text>
<text transform="translate(1601.75,586.10) scale(1,1.05)" font-size="26.0" fill="#231f20" stroke="#231f20" stroke-width="0.2">3000</text>
<text transform="translate(34.1,453.50) rotate(-90)" font-size="40.0" fill="#231f20" stroke="#231f20" stroke-width="0.2">Friction Coefficient</text>
<text transform="translate(1031.9,466.27) rotate(-90)" font-size="39.6" fill="#231f20" stroke="#231f20" stroke-width="0.2">Friction Coefficient</text>
<text transform="translate(253.78,634.55)" font-size="38.82" fill="#231f20" stroke="#231f20" stroke-width="0.2">Number of Cycles</text>
<text transform="translate(1261.80,632.28)" font-size="38.45" fill="#231f20" stroke="#231f20" stroke-width="0.2">Number of Cycles</text>
<text transform="translate(127.04,96.01) scale(0.8661,0.9950)" font-size="80.0" fill="#231f20" stroke="#231f20" stroke-width="0.2"><tspan>(</tspan><tspan dx="3.70" textLength="46.78" lengthAdjust="spacingAndGlyphs">a</tspan><tspan dx="7.51">)</tspan></text>
<text transform="translate(1103.56,90.37) scale(0.8348,0.9839)" font-size="80.0" fill="#231f20" stroke="#231f20" stroke-width="0.2"><tspan>(</tspan><tspan dx="3.61" textLength="57.25" lengthAdjust="spacingAndGlyphs">b</tspan><tspan dx="4.22">)</tspan></text>
<text transform="translate(570.71,499.98) scale(1,1.07)" font-size="38.7" fill="#231f20" stroke="#231f20" stroke-width="0.2">T = 160 <tspan x="143.10" y="-6.07" font-size="37.5" stroke="#231f20" stroke-width="0.8">°</tspan><tspan x="157.74" y="0">C</tspan></text>
<text transform="translate(1551.61,490.88) scale(1,1.07)" font-size="38.7" fill="#231f20" stroke="#231f20" stroke-width="0.2">T = 170 <tspan x="141.30" y="-5.79" font-size="37.5" stroke="#231f20" stroke-width="0.8">°</tspan><tspan x="155.54" y="0">C</tspan></text>
<text transform="translate(673.36,112.89) scale(1,1.0512)" font-size="38.99" fill="#2f4ca8" stroke="#2f4ca8" stroke-width="0.2">10 N</text>
<text transform="translate(695.04,159.60) scale(1,1.0356)" font-size="38.90" fill="#5fbf44" stroke="#5fbf44" stroke-width="0.2">6 N</text>
<text transform="translate(693.08,202.28) scale(1,1.0371)" font-size="40.75" fill="#ee1620" stroke="#ee1620" stroke-width="0.2">3 N</text>
<text transform="translate(693.48,246.60) scale(1,1.0758)" font-size="38.67" fill="#231f20" stroke="#231f20" stroke-width="0.2">1 N</text>
<text transform="translate(1664.89,130.30) scale(1,1.0283)" font-size="38.49" fill="#2f4ca8" stroke="#2f4ca8" stroke-width="0.2">10 N</text>
<text transform="translate(1685.56,171.90) scale(1,1.0505)" font-size="38.35" fill="#5fbf44" stroke="#5fbf44" stroke-width="0.2">6 N</text>
<text transform="translate(1683.04,244.20) scale(1,1.0593)" font-size="38.16" fill="#ee1620" stroke="#ee1620" stroke-width="0.2">3 N</text>
<text transform="translate(1679.92,298.60) scale(1,1.0802)" font-size="38.11" fill="#231f20" stroke="#231f20" stroke-width="0.2">1 N</text>
</g>
</svg>
</body></html>
